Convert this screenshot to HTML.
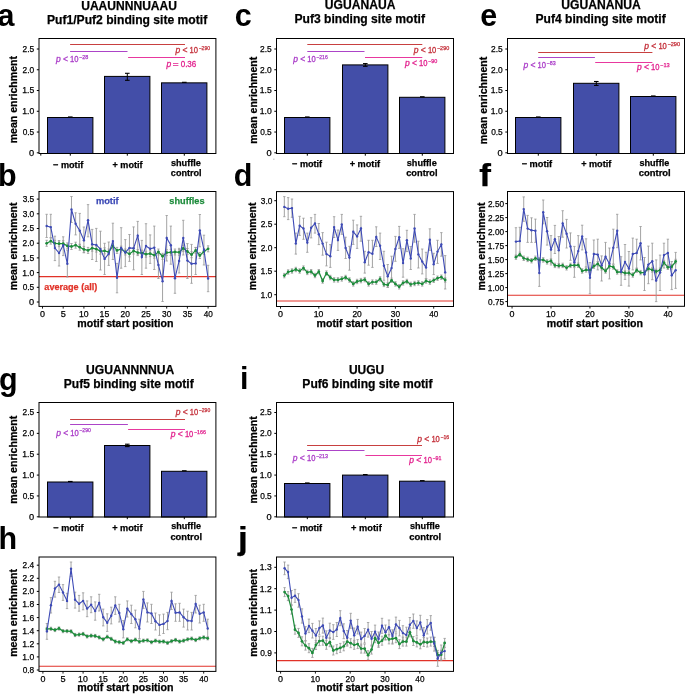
<!DOCTYPE html>
<html><head><meta charset="utf-8"><style>
html,body{margin:0;padding:0;background:#fff;overflow:hidden;}
svg{display:block;will-change:transform;font-family:"Liberation Sans", sans-serif;}
</style></head><body>
<svg width="685" height="694" viewBox="0 0 685 694">
<rect width="685" height="694" fill="#fff"/>
<text x="-2.40" y="25.90" font-size="30.5" fill="#000" font-weight="bold">a</text>
<text x="-2.10" y="185.80" font-size="30.5" fill="#000" font-weight="bold">b</text>
<text x="234.80" y="25.90" font-size="30.5" fill="#000" font-weight="bold">c</text>
<text x="233.80" y="186.00" font-size="30.5" fill="#000" font-weight="bold">d</text>
<text x="480.20" y="25.90" font-size="30.5" fill="#000" font-weight="bold">e</text>
<text x="479.30" y="185.80" font-size="30.5" fill="#000" font-weight="bold" stroke="#000" stroke-width="0.25" textLength="11.71" lengthAdjust="spacingAndGlyphs">f</text>
<text x="-0.90" y="389.60" font-size="30.5" fill="#000" font-weight="bold">g</text>
<text x="-1.40" y="548.80" font-size="30.5" fill="#000" font-weight="bold">h</text>
<text x="239.90" y="389.00" font-size="30.5" fill="#000" font-weight="bold">i</text>
<text x="238.00" y="548.80" font-size="30.5" fill="#000" font-weight="bold" stroke="#000" stroke-width="0.25" textLength="9.79" lengthAdjust="spacingAndGlyphs">j</text>
<text x="81.18" y="9.60" font-size="12.6" fill="#000" font-weight="bold" stroke="#000" stroke-width="0.25" textLength="95.79" lengthAdjust="spacingAndGlyphs">UAAUNNNUAAU</text>
<text x="46.95" y="23.80" font-size="12.6" fill="#000" font-weight="bold" stroke="#000" stroke-width="0.25" textLength="160.28" lengthAdjust="spacingAndGlyphs">Puf1/Puf2 binding site motif</text>
<rect x="47.50" y="117.50" width="45.40" height="36.00" fill="#434ea8" stroke="#000" stroke-width="1"/>
<line x1="68.00" y1="117.00" x2="72.60" y2="117.00" stroke="#000" stroke-width="1.2"/>
<rect x="104.50" y="76.40" width="45.40" height="77.10" fill="#434ea8" stroke="#000" stroke-width="1"/>
<line x1="127.30" y1="73.30" x2="127.30" y2="80.30" stroke="#000" stroke-width="1"/>
<line x1="125.00" y1="73.30" x2="129.60" y2="73.30" stroke="#000" stroke-width="1.1"/>
<line x1="125.00" y1="80.30" x2="129.60" y2="80.30" stroke="#000" stroke-width="1.1"/>
<rect x="161.50" y="82.85" width="45.40" height="70.65" fill="#434ea8" stroke="#000" stroke-width="1"/>
<line x1="182.00" y1="82.35" x2="186.60" y2="82.35" stroke="#000" stroke-width="1.2"/>
<rect x="39.00" y="38.50" width="176.90" height="115.00" fill="none" stroke="#000" stroke-width="1"/>
<line x1="36.80" y1="152.80" x2="39.00" y2="152.80" stroke="#000" stroke-width="1"/>
<text x="29.08" y="155.70" font-size="9.2" fill="#000" textLength="5.16" lengthAdjust="spacingAndGlyphs" stroke="#000" stroke-width="0.25">0</text>
<line x1="36.80" y1="132.04" x2="39.00" y2="132.04" stroke="#000" stroke-width="1"/>
<text x="22.67" y="134.94" font-size="9.2" fill="#000" textLength="11.57" lengthAdjust="spacingAndGlyphs" stroke="#000" stroke-width="0.25">0.5</text>
<line x1="36.80" y1="111.28" x2="39.00" y2="111.28" stroke="#000" stroke-width="1"/>
<text x="22.31" y="114.18" font-size="9.2" fill="#000" textLength="11.93" lengthAdjust="spacingAndGlyphs" stroke="#000" stroke-width="0.25">1.0</text>
<line x1="36.80" y1="90.52" x2="39.00" y2="90.52" stroke="#000" stroke-width="1"/>
<text x="22.31" y="93.42" font-size="9.2" fill="#000" textLength="11.93" lengthAdjust="spacingAndGlyphs" stroke="#000" stroke-width="0.25">1.5</text>
<line x1="36.80" y1="69.76" x2="39.00" y2="69.76" stroke="#000" stroke-width="1"/>
<text x="22.58" y="72.66" font-size="9.2" fill="#000" textLength="11.66" lengthAdjust="spacingAndGlyphs" stroke="#000" stroke-width="0.25">2.0</text>
<line x1="36.80" y1="49.00" x2="39.00" y2="49.00" stroke="#000" stroke-width="1"/>
<text x="22.58" y="51.90" font-size="9.2" fill="#000" textLength="11.66" lengthAdjust="spacingAndGlyphs" stroke="#000" stroke-width="0.25">2.5</text>
<line x1="70.30" y1="153.50" x2="70.30" y2="155.70" stroke="#000" stroke-width="1"/>
<line x1="127.30" y1="153.50" x2="127.30" y2="155.70" stroke="#000" stroke-width="1"/>
<line x1="184.30" y1="153.50" x2="184.30" y2="155.70" stroke="#000" stroke-width="1"/>
<text x="0" y="0" font-size="10.5" fill="#000" font-weight="bold" stroke="#000" stroke-width="0.25" textLength="87.35" lengthAdjust="spacingAndGlyphs" transform="translate(17.10,143.34) rotate(-90)">mean enrichment</text>
<text x="53.03" y="167.60" font-size="9.2" fill="#000" font-weight="bold" stroke="#000" stroke-width="0.25" textLength="30.23" lengthAdjust="spacingAndGlyphs">− motif</text>
<text x="112.54" y="167.70" font-size="9.2" fill="#000" font-weight="bold" stroke="#000" stroke-width="0.25" textLength="29.92" lengthAdjust="spacingAndGlyphs">+ motif</text>
<text x="170.93" y="166.00" font-size="9.2" fill="#000" font-weight="bold" stroke="#000" stroke-width="0.25" textLength="30.01" lengthAdjust="spacingAndGlyphs">shuffle</text>
<text x="170.84" y="176.20" font-size="9.2" fill="#000" font-weight="bold" stroke="#000" stroke-width="0.25" textLength="30.79" lengthAdjust="spacingAndGlyphs">control</text>
<line x1="70.10" y1="44.50" x2="185.00" y2="44.50" stroke="#c84040" stroke-width="1.1"/>
<line x1="70.10" y1="51.50" x2="127.50" y2="51.50" stroke="#ac44c8" stroke-width="1.1"/>
<line x1="128.10" y1="57.50" x2="185.00" y2="57.50" stroke="#e8389e" stroke-width="1.1"/>
<text x="175.47" y="52.60" font-size="8.2" fill="#c4303a" textLength="4.74" lengthAdjust="spacingAndGlyphs" stroke="#c4303a" stroke-width="0.3"><tspan font-style="italic">p</tspan></text>
<text x="182.47" y="52.60" font-size="8.2" fill="#c4303a" textLength="5.01" lengthAdjust="spacingAndGlyphs" stroke="#c4303a" stroke-width="0.3">&lt;</text>
<text x="189.59" y="52.60" font-size="8.2" fill="#c4303a" textLength="8.43" lengthAdjust="spacingAndGlyphs" stroke="#c4303a" stroke-width="0.3">10</text>
<text x="198.65" y="49.50" font-size="5.2" fill="#c4303a" textLength="11.37" lengthAdjust="spacingAndGlyphs" stroke="#c4303a" stroke-width="0.25">−290</text>
<text x="55.97" y="61.90" font-size="8.2" fill="#aa3cc8" textLength="4.74" lengthAdjust="spacingAndGlyphs" stroke="#aa3cc8" stroke-width="0.3"><tspan font-style="italic">p</tspan></text>
<text x="62.97" y="61.90" font-size="8.2" fill="#aa3cc8" textLength="5.01" lengthAdjust="spacingAndGlyphs" stroke="#aa3cc8" stroke-width="0.3">&lt;</text>
<text x="70.09" y="61.90" font-size="8.2" fill="#aa3cc8" textLength="8.43" lengthAdjust="spacingAndGlyphs" stroke="#aa3cc8" stroke-width="0.3">10</text>
<text x="79.13" y="58.80" font-size="5.2" fill="#aa3cc8" textLength="9.22" lengthAdjust="spacingAndGlyphs" stroke="#aa3cc8" stroke-width="0.25">−28</text>
<text x="166.57" y="66.90" font-size="8.2" fill="#e2228e" textLength="4.74" lengthAdjust="spacingAndGlyphs" stroke="#e2228e" stroke-width="0.3"><tspan font-style="italic">p</tspan></text>
<text x="172.80" y="66.90" font-size="8.2" fill="#e2228e" textLength="5.84" lengthAdjust="spacingAndGlyphs" stroke="#e2228e" stroke-width="0.3">=</text>
<text x="180.68" y="66.90" font-size="8.2" fill="#e2228e" textLength="15.59" lengthAdjust="spacingAndGlyphs" stroke="#e2228e" stroke-width="0.3">0.36</text>
<text x="324.87" y="8.80" font-size="12.6" fill="#000" font-weight="bold" stroke="#000" stroke-width="0.25" textLength="70.63" lengthAdjust="spacingAndGlyphs">UGUANAUA</text>
<text x="294.45" y="23.00" font-size="12.6" fill="#000" font-weight="bold" stroke="#000" stroke-width="0.25" textLength="130.52" lengthAdjust="spacingAndGlyphs">Puf3 binding site motif</text>
<rect x="284.50" y="117.50" width="45.40" height="36.00" fill="#434ea8" stroke="#000" stroke-width="1"/>
<line x1="305.00" y1="117.00" x2="309.60" y2="117.00" stroke="#000" stroke-width="1.2"/>
<rect x="342.50" y="64.90" width="45.40" height="88.60" fill="#434ea8" stroke="#000" stroke-width="1"/>
<line x1="365.30" y1="63.60" x2="365.30" y2="66.30" stroke="#000" stroke-width="1"/>
<line x1="363.00" y1="63.60" x2="367.60" y2="63.60" stroke="#000" stroke-width="1.1"/>
<line x1="363.00" y1="66.30" x2="367.60" y2="66.30" stroke="#000" stroke-width="1.1"/>
<rect x="399.50" y="97.30" width="45.40" height="56.20" fill="#434ea8" stroke="#000" stroke-width="1"/>
<line x1="420.00" y1="96.80" x2="424.60" y2="96.80" stroke="#000" stroke-width="1.2"/>
<rect x="276.50" y="38.50" width="177.00" height="115.00" fill="none" stroke="#000" stroke-width="1"/>
<line x1="274.30" y1="152.80" x2="276.50" y2="152.80" stroke="#000" stroke-width="1"/>
<text x="266.58" y="155.70" font-size="9.2" fill="#000" textLength="5.16" lengthAdjust="spacingAndGlyphs" stroke="#000" stroke-width="0.25">0</text>
<line x1="274.30" y1="132.04" x2="276.50" y2="132.04" stroke="#000" stroke-width="1"/>
<text x="260.17" y="134.94" font-size="9.2" fill="#000" textLength="11.57" lengthAdjust="spacingAndGlyphs" stroke="#000" stroke-width="0.25">0.5</text>
<line x1="274.30" y1="111.28" x2="276.50" y2="111.28" stroke="#000" stroke-width="1"/>
<text x="259.81" y="114.18" font-size="9.2" fill="#000" textLength="11.93" lengthAdjust="spacingAndGlyphs" stroke="#000" stroke-width="0.25">1.0</text>
<line x1="274.30" y1="90.52" x2="276.50" y2="90.52" stroke="#000" stroke-width="1"/>
<text x="259.81" y="93.42" font-size="9.2" fill="#000" textLength="11.93" lengthAdjust="spacingAndGlyphs" stroke="#000" stroke-width="0.25">1.5</text>
<line x1="274.30" y1="69.76" x2="276.50" y2="69.76" stroke="#000" stroke-width="1"/>
<text x="260.08" y="72.66" font-size="9.2" fill="#000" textLength="11.66" lengthAdjust="spacingAndGlyphs" stroke="#000" stroke-width="0.25">2.0</text>
<line x1="274.30" y1="49.00" x2="276.50" y2="49.00" stroke="#000" stroke-width="1"/>
<text x="260.08" y="51.90" font-size="9.2" fill="#000" textLength="11.66" lengthAdjust="spacingAndGlyphs" stroke="#000" stroke-width="0.25">2.5</text>
<line x1="307.30" y1="153.50" x2="307.30" y2="155.70" stroke="#000" stroke-width="1"/>
<line x1="365.30" y1="153.50" x2="365.30" y2="155.70" stroke="#000" stroke-width="1"/>
<line x1="422.30" y1="153.50" x2="422.30" y2="155.70" stroke="#000" stroke-width="1"/>
<text x="0" y="0" font-size="10.5" fill="#000" font-weight="bold" stroke="#000" stroke-width="0.25" textLength="87.04" lengthAdjust="spacingAndGlyphs" transform="translate(256.70,143.84) rotate(-90)">mean enrichment</text>
<text x="292.04" y="167.40" font-size="9.2" fill="#000" font-weight="bold" stroke="#000" stroke-width="0.25" textLength="30.13" lengthAdjust="spacingAndGlyphs">− motif</text>
<text x="349.63" y="167.40" font-size="9.2" fill="#000" font-weight="bold" stroke="#000" stroke-width="0.25" textLength="30.43" lengthAdjust="spacingAndGlyphs">+ motif</text>
<text x="406.73" y="166.20" font-size="9.2" fill="#000" font-weight="bold" stroke="#000" stroke-width="0.25" textLength="30.01" lengthAdjust="spacingAndGlyphs">shuffle</text>
<text x="406.23" y="176.10" font-size="9.2" fill="#000" font-weight="bold" stroke="#000" stroke-width="0.25" textLength="31.30" lengthAdjust="spacingAndGlyphs">control</text>
<line x1="307.30" y1="44.50" x2="422.30" y2="44.50" stroke="#c84040" stroke-width="1.1"/>
<line x1="307.30" y1="51.50" x2="364.50" y2="51.50" stroke="#ac44c8" stroke-width="1.1"/>
<line x1="365.00" y1="57.50" x2="422.30" y2="57.50" stroke="#e8389e" stroke-width="1.1"/>
<text x="413.77" y="52.80" font-size="8.2" fill="#c4303a" textLength="4.74" lengthAdjust="spacingAndGlyphs" stroke="#c4303a" stroke-width="0.3"><tspan font-style="italic">p</tspan></text>
<text x="420.77" y="52.80" font-size="8.2" fill="#c4303a" textLength="5.01" lengthAdjust="spacingAndGlyphs" stroke="#c4303a" stroke-width="0.3">&lt;</text>
<text x="427.89" y="52.80" font-size="8.2" fill="#c4303a" textLength="8.43" lengthAdjust="spacingAndGlyphs" stroke="#c4303a" stroke-width="0.3">10</text>
<text x="436.93" y="49.70" font-size="5.2" fill="#c4303a" textLength="12.31" lengthAdjust="spacingAndGlyphs" stroke="#c4303a" stroke-width="0.25">−290</text>
<text x="293.17" y="62.40" font-size="8.2" fill="#aa3cc8" textLength="4.74" lengthAdjust="spacingAndGlyphs" stroke="#aa3cc8" stroke-width="0.3"><tspan font-style="italic">p</tspan></text>
<text x="300.17" y="62.40" font-size="8.2" fill="#aa3cc8" textLength="5.01" lengthAdjust="spacingAndGlyphs" stroke="#aa3cc8" stroke-width="0.3">&lt;</text>
<text x="307.29" y="62.40" font-size="8.2" fill="#aa3cc8" textLength="8.43" lengthAdjust="spacingAndGlyphs" stroke="#aa3cc8" stroke-width="0.3">10</text>
<text x="316.35" y="59.30" font-size="5.2" fill="#aa3cc8" textLength="11.37" lengthAdjust="spacingAndGlyphs" stroke="#aa3cc8" stroke-width="0.25">−216</text>
<text x="404.97" y="66.40" font-size="8.2" fill="#e2228e" textLength="4.74" lengthAdjust="spacingAndGlyphs" stroke="#e2228e" stroke-width="0.3"><tspan font-style="italic">p</tspan></text>
<text x="411.97" y="66.40" font-size="8.2" fill="#e2228e" textLength="5.01" lengthAdjust="spacingAndGlyphs" stroke="#e2228e" stroke-width="0.3">&lt;</text>
<text x="419.09" y="66.40" font-size="8.2" fill="#e2228e" textLength="8.43" lengthAdjust="spacingAndGlyphs" stroke="#e2228e" stroke-width="0.3">10</text>
<text x="428.13" y="63.30" font-size="5.2" fill="#e2228e" textLength="9.27" lengthAdjust="spacingAndGlyphs" stroke="#e2228e" stroke-width="0.25">−90</text>
<text x="561.27" y="8.90" font-size="12.6" fill="#000" font-weight="bold" stroke="#000" stroke-width="0.25" textLength="79.46" lengthAdjust="spacingAndGlyphs">UGUANANUA</text>
<text x="535.55" y="22.90" font-size="12.6" fill="#000" font-weight="bold" stroke="#000" stroke-width="0.25" textLength="130.11" lengthAdjust="spacingAndGlyphs">Puf4 binding site motif</text>
<rect x="515.50" y="117.50" width="45.40" height="36.00" fill="#434ea8" stroke="#000" stroke-width="1"/>
<line x1="536.00" y1="117.00" x2="540.60" y2="117.00" stroke="#000" stroke-width="1.2"/>
<rect x="573.50" y="83.30" width="45.40" height="70.20" fill="#434ea8" stroke="#000" stroke-width="1"/>
<line x1="596.30" y1="81.50" x2="596.30" y2="85.40" stroke="#000" stroke-width="1"/>
<line x1="594.00" y1="81.50" x2="598.60" y2="81.50" stroke="#000" stroke-width="1.1"/>
<line x1="594.00" y1="85.40" x2="598.60" y2="85.40" stroke="#000" stroke-width="1.1"/>
<rect x="630.50" y="96.50" width="45.40" height="57.00" fill="#434ea8" stroke="#000" stroke-width="1"/>
<line x1="651.00" y1="96.00" x2="655.60" y2="96.00" stroke="#000" stroke-width="1.2"/>
<rect x="507.50" y="38.50" width="177.00" height="115.00" fill="none" stroke="#000" stroke-width="1"/>
<line x1="505.30" y1="152.80" x2="507.50" y2="152.80" stroke="#000" stroke-width="1"/>
<text x="497.58" y="155.70" font-size="9.2" fill="#000" textLength="5.16" lengthAdjust="spacingAndGlyphs" stroke="#000" stroke-width="0.25">0</text>
<line x1="505.30" y1="132.04" x2="507.50" y2="132.04" stroke="#000" stroke-width="1"/>
<text x="491.17" y="134.94" font-size="9.2" fill="#000" textLength="11.57" lengthAdjust="spacingAndGlyphs" stroke="#000" stroke-width="0.25">0.5</text>
<line x1="505.30" y1="111.28" x2="507.50" y2="111.28" stroke="#000" stroke-width="1"/>
<text x="490.81" y="114.18" font-size="9.2" fill="#000" textLength="11.93" lengthAdjust="spacingAndGlyphs" stroke="#000" stroke-width="0.25">1.0</text>
<line x1="505.30" y1="90.52" x2="507.50" y2="90.52" stroke="#000" stroke-width="1"/>
<text x="490.81" y="93.42" font-size="9.2" fill="#000" textLength="11.93" lengthAdjust="spacingAndGlyphs" stroke="#000" stroke-width="0.25">1.5</text>
<line x1="505.30" y1="69.76" x2="507.50" y2="69.76" stroke="#000" stroke-width="1"/>
<text x="491.08" y="72.66" font-size="9.2" fill="#000" textLength="11.66" lengthAdjust="spacingAndGlyphs" stroke="#000" stroke-width="0.25">2.0</text>
<line x1="505.30" y1="49.00" x2="507.50" y2="49.00" stroke="#000" stroke-width="1"/>
<text x="491.08" y="51.90" font-size="9.2" fill="#000" textLength="11.66" lengthAdjust="spacingAndGlyphs" stroke="#000" stroke-width="0.25">2.5</text>
<line x1="538.30" y1="153.50" x2="538.30" y2="155.70" stroke="#000" stroke-width="1"/>
<line x1="596.30" y1="153.50" x2="596.30" y2="155.70" stroke="#000" stroke-width="1"/>
<line x1="653.30" y1="153.50" x2="653.30" y2="155.70" stroke="#000" stroke-width="1"/>
<text x="0" y="0" font-size="10.5" fill="#000" font-weight="bold" stroke="#000" stroke-width="0.25" textLength="87.35" lengthAdjust="spacingAndGlyphs" transform="translate(486.70,144.14) rotate(-90)">mean enrichment</text>
<text x="521.63" y="167.40" font-size="9.2" fill="#000" font-weight="bold" stroke="#000" stroke-width="0.25" textLength="30.53" lengthAdjust="spacingAndGlyphs">− motif</text>
<text x="581.14" y="167.40" font-size="9.2" fill="#000" font-weight="bold" stroke="#000" stroke-width="0.25" textLength="30.13" lengthAdjust="spacingAndGlyphs">+ motif</text>
<text x="639.44" y="166.20" font-size="9.2" fill="#000" font-weight="bold" stroke="#000" stroke-width="0.25" textLength="29.81" lengthAdjust="spacingAndGlyphs">shuffle</text>
<text x="638.72" y="176.10" font-size="9.2" fill="#000" font-weight="bold" stroke="#000" stroke-width="0.25" textLength="32.03" lengthAdjust="spacingAndGlyphs">control</text>
<line x1="538.20" y1="52.50" x2="652.40" y2="52.50" stroke="#c84040" stroke-width="1.1"/>
<line x1="538.20" y1="57.50" x2="594.90" y2="57.50" stroke="#ac44c8" stroke-width="1.1"/>
<line x1="595.20" y1="62.50" x2="652.40" y2="62.50" stroke="#e8389e" stroke-width="1.1"/>
<text x="644.27" y="49.00" font-size="8.2" fill="#c4303a" textLength="4.74" lengthAdjust="spacingAndGlyphs" stroke="#c4303a" stroke-width="0.3"><tspan font-style="italic">p</tspan></text>
<text x="651.27" y="49.00" font-size="8.2" fill="#c4303a" textLength="5.01" lengthAdjust="spacingAndGlyphs" stroke="#c4303a" stroke-width="0.3">&lt;</text>
<text x="658.39" y="49.00" font-size="8.2" fill="#c4303a" textLength="8.43" lengthAdjust="spacingAndGlyphs" stroke="#c4303a" stroke-width="0.3">10</text>
<text x="667.42" y="45.90" font-size="5.2" fill="#c4303a" textLength="12.72" lengthAdjust="spacingAndGlyphs" stroke="#c4303a" stroke-width="0.25">−290</text>
<text x="523.47" y="68.20" font-size="8.2" fill="#aa3cc8" textLength="4.74" lengthAdjust="spacingAndGlyphs" stroke="#aa3cc8" stroke-width="0.3"><tspan font-style="italic">p</tspan></text>
<text x="530.47" y="68.20" font-size="8.2" fill="#aa3cc8" textLength="5.01" lengthAdjust="spacingAndGlyphs" stroke="#aa3cc8" stroke-width="0.3">&lt;</text>
<text x="537.59" y="68.20" font-size="8.2" fill="#aa3cc8" textLength="8.43" lengthAdjust="spacingAndGlyphs" stroke="#aa3cc8" stroke-width="0.3">10</text>
<text x="546.63" y="65.10" font-size="5.2" fill="#aa3cc8" textLength="9.01" lengthAdjust="spacingAndGlyphs" stroke="#aa3cc8" stroke-width="0.25">−83</text>
<text x="636.97" y="70.10" font-size="8.2" fill="#e2228e" textLength="4.74" lengthAdjust="spacingAndGlyphs" stroke="#e2228e" stroke-width="0.3"><tspan font-style="italic">p</tspan></text>
<text x="643.97" y="70.10" font-size="8.2" fill="#e2228e" textLength="5.01" lengthAdjust="spacingAndGlyphs" stroke="#e2228e" stroke-width="0.3">&lt;</text>
<text x="651.09" y="70.10" font-size="8.2" fill="#e2228e" textLength="8.43" lengthAdjust="spacingAndGlyphs" stroke="#e2228e" stroke-width="0.3">10</text>
<text x="660.12" y="67.00" font-size="5.2" fill="#e2228e" textLength="9.54" lengthAdjust="spacingAndGlyphs" stroke="#e2228e" stroke-width="0.25">−13</text>
<text x="86.07" y="373.80" font-size="12.6" fill="#000" font-weight="bold" stroke="#000" stroke-width="0.25" textLength="88.06" lengthAdjust="spacingAndGlyphs">UGUANNNNUA</text>
<text x="63.76" y="388.20" font-size="12.6" fill="#000" font-weight="bold" stroke="#000" stroke-width="0.25" textLength="129.91" lengthAdjust="spacingAndGlyphs">Puf5 binding site motif</text>
<rect x="47.50" y="482.00" width="45.40" height="35.00" fill="#434ea8" stroke="#000" stroke-width="1"/>
<line x1="68.00" y1="481.50" x2="72.60" y2="481.50" stroke="#000" stroke-width="1.2"/>
<rect x="104.50" y="445.50" width="45.40" height="71.50" fill="#434ea8" stroke="#000" stroke-width="1"/>
<line x1="127.30" y1="444.20" x2="127.30" y2="446.60" stroke="#000" stroke-width="1"/>
<line x1="125.00" y1="444.20" x2="129.60" y2="444.20" stroke="#000" stroke-width="1.1"/>
<line x1="125.00" y1="446.60" x2="129.60" y2="446.60" stroke="#000" stroke-width="1.1"/>
<rect x="161.50" y="471.30" width="45.40" height="45.70" fill="#434ea8" stroke="#000" stroke-width="1"/>
<line x1="182.00" y1="470.80" x2="186.60" y2="470.80" stroke="#000" stroke-width="1.2"/>
<rect x="39.00" y="402.50" width="176.90" height="114.50" fill="none" stroke="#000" stroke-width="1"/>
<line x1="36.80" y1="516.80" x2="39.00" y2="516.80" stroke="#000" stroke-width="1"/>
<text x="29.08" y="519.70" font-size="9.2" fill="#000" textLength="5.16" lengthAdjust="spacingAndGlyphs" stroke="#000" stroke-width="0.25">0</text>
<line x1="36.80" y1="495.94" x2="39.00" y2="495.94" stroke="#000" stroke-width="1"/>
<text x="22.67" y="498.84" font-size="9.2" fill="#000" textLength="11.57" lengthAdjust="spacingAndGlyphs" stroke="#000" stroke-width="0.25">0.5</text>
<line x1="36.80" y1="475.08" x2="39.00" y2="475.08" stroke="#000" stroke-width="1"/>
<text x="22.31" y="477.98" font-size="9.2" fill="#000" textLength="11.93" lengthAdjust="spacingAndGlyphs" stroke="#000" stroke-width="0.25">1.0</text>
<line x1="36.80" y1="454.22" x2="39.00" y2="454.22" stroke="#000" stroke-width="1"/>
<text x="22.31" y="457.12" font-size="9.2" fill="#000" textLength="11.93" lengthAdjust="spacingAndGlyphs" stroke="#000" stroke-width="0.25">1.5</text>
<line x1="36.80" y1="433.36" x2="39.00" y2="433.36" stroke="#000" stroke-width="1"/>
<text x="22.58" y="436.26" font-size="9.2" fill="#000" textLength="11.66" lengthAdjust="spacingAndGlyphs" stroke="#000" stroke-width="0.25">2.0</text>
<line x1="36.80" y1="412.50" x2="39.00" y2="412.50" stroke="#000" stroke-width="1"/>
<text x="22.58" y="415.40" font-size="9.2" fill="#000" textLength="11.66" lengthAdjust="spacingAndGlyphs" stroke="#000" stroke-width="0.25">2.5</text>
<line x1="70.30" y1="517.00" x2="70.30" y2="519.20" stroke="#000" stroke-width="1"/>
<line x1="127.30" y1="517.00" x2="127.30" y2="519.20" stroke="#000" stroke-width="1"/>
<line x1="184.30" y1="517.00" x2="184.30" y2="519.20" stroke="#000" stroke-width="1"/>
<text x="0" y="0" font-size="10.5" fill="#000" font-weight="bold" stroke="#000" stroke-width="0.25" textLength="87.95" lengthAdjust="spacingAndGlyphs" transform="translate(17.05,503.64) rotate(-90)">mean enrichment</text>
<text x="53.34" y="530.90" font-size="9.2" fill="#000" font-weight="bold" stroke="#000" stroke-width="0.25" textLength="30.13" lengthAdjust="spacingAndGlyphs">− motif</text>
<text x="112.13" y="530.90" font-size="9.2" fill="#000" font-weight="bold" stroke="#000" stroke-width="0.25" textLength="30.33" lengthAdjust="spacingAndGlyphs">+ motif</text>
<text x="171.24" y="529.40" font-size="9.2" fill="#000" font-weight="bold" stroke="#000" stroke-width="0.25" textLength="29.71" lengthAdjust="spacingAndGlyphs">shuffle</text>
<text x="170.43" y="539.80" font-size="9.2" fill="#000" font-weight="bold" stroke="#000" stroke-width="0.25" textLength="31.61" lengthAdjust="spacingAndGlyphs">control</text>
<line x1="70.10" y1="419.50" x2="185.00" y2="419.50" stroke="#c84040" stroke-width="1.1"/>
<line x1="70.10" y1="424.50" x2="127.90" y2="424.50" stroke="#ac44c8" stroke-width="1.1"/>
<line x1="128.10" y1="429.50" x2="185.00" y2="429.50" stroke="#e8389e" stroke-width="1.1"/>
<text x="175.67" y="414.90" font-size="8.2" fill="#c4303a" textLength="4.74" lengthAdjust="spacingAndGlyphs" stroke="#c4303a" stroke-width="0.3"><tspan font-style="italic">p</tspan></text>
<text x="182.67" y="414.90" font-size="8.2" fill="#c4303a" textLength="5.01" lengthAdjust="spacingAndGlyphs" stroke="#c4303a" stroke-width="0.3">&lt;</text>
<text x="189.79" y="414.90" font-size="8.2" fill="#c4303a" textLength="8.43" lengthAdjust="spacingAndGlyphs" stroke="#c4303a" stroke-width="0.3">10</text>
<text x="198.85" y="411.80" font-size="5.2" fill="#c4303a" textLength="11.37" lengthAdjust="spacingAndGlyphs" stroke="#c4303a" stroke-width="0.25">−290</text>
<text x="56.17" y="435.50" font-size="8.2" fill="#aa3cc8" textLength="4.74" lengthAdjust="spacingAndGlyphs" stroke="#aa3cc8" stroke-width="0.3"><tspan font-style="italic">p</tspan></text>
<text x="63.17" y="435.50" font-size="8.2" fill="#aa3cc8" textLength="5.01" lengthAdjust="spacingAndGlyphs" stroke="#aa3cc8" stroke-width="0.3">&lt;</text>
<text x="70.29" y="435.50" font-size="8.2" fill="#aa3cc8" textLength="8.43" lengthAdjust="spacingAndGlyphs" stroke="#aa3cc8" stroke-width="0.3">10</text>
<text x="79.34" y="432.40" font-size="5.2" fill="#aa3cc8" textLength="11.58" lengthAdjust="spacingAndGlyphs" stroke="#aa3cc8" stroke-width="0.25">−290</text>
<text x="170.77" y="437.10" font-size="8.2" fill="#e2228e" textLength="4.74" lengthAdjust="spacingAndGlyphs" stroke="#e2228e" stroke-width="0.3"><tspan font-style="italic">p</tspan></text>
<text x="177.77" y="437.10" font-size="8.2" fill="#e2228e" textLength="5.01" lengthAdjust="spacingAndGlyphs" stroke="#e2228e" stroke-width="0.3">&lt;</text>
<text x="184.89" y="437.10" font-size="8.2" fill="#e2228e" textLength="8.43" lengthAdjust="spacingAndGlyphs" stroke="#e2228e" stroke-width="0.3">10</text>
<text x="193.93" y="434.00" font-size="5.2" fill="#e2228e" textLength="11.99" lengthAdjust="spacingAndGlyphs" stroke="#e2228e" stroke-width="0.25">−166</text>
<text x="348.98" y="373.80" font-size="12.6" fill="#000" font-weight="bold" stroke="#000" stroke-width="0.25" textLength="35.29" lengthAdjust="spacingAndGlyphs">UUGU</text>
<text x="302.35" y="388.20" font-size="12.6" fill="#000" font-weight="bold" stroke="#000" stroke-width="0.25" textLength="130.11" lengthAdjust="spacingAndGlyphs">Puf6 binding site motif</text>
<rect x="284.50" y="483.50" width="45.40" height="33.50" fill="#434ea8" stroke="#000" stroke-width="1"/>
<line x1="305.00" y1="483.00" x2="309.60" y2="483.00" stroke="#000" stroke-width="1.2"/>
<rect x="342.50" y="475.10" width="45.40" height="41.90" fill="#434ea8" stroke="#000" stroke-width="1"/>
<line x1="363.00" y1="474.60" x2="367.60" y2="474.60" stroke="#000" stroke-width="1.2"/>
<rect x="399.50" y="481.20" width="45.40" height="35.80" fill="#434ea8" stroke="#000" stroke-width="1"/>
<line x1="420.00" y1="480.70" x2="424.60" y2="480.70" stroke="#000" stroke-width="1.2"/>
<rect x="276.50" y="402.50" width="177.00" height="114.50" fill="none" stroke="#000" stroke-width="1"/>
<line x1="274.30" y1="516.80" x2="276.50" y2="516.80" stroke="#000" stroke-width="1"/>
<text x="266.58" y="519.70" font-size="9.2" fill="#000" textLength="5.16" lengthAdjust="spacingAndGlyphs" stroke="#000" stroke-width="0.25">0</text>
<line x1="274.30" y1="495.94" x2="276.50" y2="495.94" stroke="#000" stroke-width="1"/>
<text x="260.17" y="498.84" font-size="9.2" fill="#000" textLength="11.57" lengthAdjust="spacingAndGlyphs" stroke="#000" stroke-width="0.25">0.5</text>
<line x1="274.30" y1="475.08" x2="276.50" y2="475.08" stroke="#000" stroke-width="1"/>
<text x="259.81" y="477.98" font-size="9.2" fill="#000" textLength="11.93" lengthAdjust="spacingAndGlyphs" stroke="#000" stroke-width="0.25">1.0</text>
<line x1="274.30" y1="454.22" x2="276.50" y2="454.22" stroke="#000" stroke-width="1"/>
<text x="259.81" y="457.12" font-size="9.2" fill="#000" textLength="11.93" lengthAdjust="spacingAndGlyphs" stroke="#000" stroke-width="0.25">1.5</text>
<line x1="274.30" y1="433.36" x2="276.50" y2="433.36" stroke="#000" stroke-width="1"/>
<text x="260.08" y="436.26" font-size="9.2" fill="#000" textLength="11.66" lengthAdjust="spacingAndGlyphs" stroke="#000" stroke-width="0.25">2.0</text>
<line x1="274.30" y1="412.50" x2="276.50" y2="412.50" stroke="#000" stroke-width="1"/>
<text x="260.08" y="415.40" font-size="9.2" fill="#000" textLength="11.66" lengthAdjust="spacingAndGlyphs" stroke="#000" stroke-width="0.25">2.5</text>
<line x1="307.30" y1="517.00" x2="307.30" y2="519.20" stroke="#000" stroke-width="1"/>
<line x1="365.30" y1="517.00" x2="365.30" y2="519.20" stroke="#000" stroke-width="1"/>
<line x1="422.30" y1="517.00" x2="422.30" y2="519.20" stroke="#000" stroke-width="1"/>
<text x="0" y="0" font-size="10.5" fill="#000" font-weight="bold" stroke="#000" stroke-width="0.25" textLength="87.35" lengthAdjust="spacingAndGlyphs" transform="translate(256.60,503.54) rotate(-90)">mean enrichment</text>
<text x="292.04" y="530.90" font-size="9.2" fill="#000" font-weight="bold" stroke="#000" stroke-width="0.25" textLength="30.13" lengthAdjust="spacingAndGlyphs">− motif</text>
<text x="351.13" y="530.90" font-size="9.2" fill="#000" font-weight="bold" stroke="#000" stroke-width="0.25" textLength="30.63" lengthAdjust="spacingAndGlyphs">+ motif</text>
<text x="409.93" y="529.40" font-size="9.2" fill="#000" font-weight="bold" stroke="#000" stroke-width="0.25" textLength="30.01" lengthAdjust="spacingAndGlyphs">shuffle</text>
<text x="409.22" y="539.80" font-size="9.2" fill="#000" font-weight="bold" stroke="#000" stroke-width="0.25" textLength="32.03" lengthAdjust="spacingAndGlyphs">control</text>
<line x1="307.10" y1="445.50" x2="422.00" y2="445.50" stroke="#c84040" stroke-width="1.1"/>
<line x1="307.10" y1="450.50" x2="364.50" y2="450.50" stroke="#ac44c8" stroke-width="1.1"/>
<line x1="365.40" y1="455.50" x2="422.00" y2="455.50" stroke="#e8389e" stroke-width="1.1"/>
<text x="417.27" y="441.70" font-size="8.2" fill="#c4303a" textLength="4.74" lengthAdjust="spacingAndGlyphs" stroke="#c4303a" stroke-width="0.3"><tspan font-style="italic">p</tspan></text>
<text x="424.27" y="441.70" font-size="8.2" fill="#c4303a" textLength="5.01" lengthAdjust="spacingAndGlyphs" stroke="#c4303a" stroke-width="0.3">&lt;</text>
<text x="431.39" y="441.70" font-size="8.2" fill="#c4303a" textLength="8.43" lengthAdjust="spacingAndGlyphs" stroke="#c4303a" stroke-width="0.3">10</text>
<text x="440.44" y="438.60" font-size="5.2" fill="#c4303a" textLength="8.80" lengthAdjust="spacingAndGlyphs" stroke="#c4303a" stroke-width="0.25">−16</text>
<text x="292.87" y="461.00" font-size="8.2" fill="#aa3cc8" textLength="4.74" lengthAdjust="spacingAndGlyphs" stroke="#aa3cc8" stroke-width="0.3"><tspan font-style="italic">p</tspan></text>
<text x="299.87" y="461.00" font-size="8.2" fill="#aa3cc8" textLength="5.01" lengthAdjust="spacingAndGlyphs" stroke="#aa3cc8" stroke-width="0.3">&lt;</text>
<text x="306.99" y="461.00" font-size="8.2" fill="#aa3cc8" textLength="8.43" lengthAdjust="spacingAndGlyphs" stroke="#aa3cc8" stroke-width="0.3">10</text>
<text x="316.03" y="457.90" font-size="5.2" fill="#aa3cc8" textLength="11.99" lengthAdjust="spacingAndGlyphs" stroke="#aa3cc8" stroke-width="0.25">−213</text>
<text x="409.37" y="462.70" font-size="8.2" fill="#e2228e" textLength="4.74" lengthAdjust="spacingAndGlyphs" stroke="#e2228e" stroke-width="0.3"><tspan font-style="italic">p</tspan></text>
<text x="416.37" y="462.70" font-size="8.2" fill="#e2228e" textLength="5.01" lengthAdjust="spacingAndGlyphs" stroke="#e2228e" stroke-width="0.3">&lt;</text>
<text x="423.49" y="462.70" font-size="8.2" fill="#e2228e" textLength="8.43" lengthAdjust="spacingAndGlyphs" stroke="#e2228e" stroke-width="0.3">10</text>
<text x="432.53" y="459.60" font-size="5.2" fill="#e2228e" textLength="9.01" lengthAdjust="spacingAndGlyphs" stroke="#e2228e" stroke-width="0.25">−91</text>
<line x1="39.00" y1="276.60" x2="215.90" y2="276.60" stroke="#e13228" stroke-width="1.1"/>
<line x1="46.64" y1="214.30" x2="46.64" y2="237.50" stroke="#999999" stroke-width="0.9"/>
<line x1="45.44" y1="214.30" x2="47.84" y2="214.30" stroke="#999999" stroke-width="0.8"/>
<line x1="45.44" y1="237.50" x2="47.84" y2="237.50" stroke="#999999" stroke-width="0.8"/>
<line x1="50.78" y1="214.30" x2="50.78" y2="237.50" stroke="#999999" stroke-width="0.9"/>
<line x1="49.58" y1="214.30" x2="51.98" y2="214.30" stroke="#999999" stroke-width="0.8"/>
<line x1="49.58" y1="237.50" x2="51.98" y2="237.50" stroke="#999999" stroke-width="0.8"/>
<line x1="54.92" y1="236.20" x2="54.92" y2="260.60" stroke="#999999" stroke-width="0.9"/>
<line x1="53.72" y1="236.20" x2="56.12" y2="236.20" stroke="#999999" stroke-width="0.8"/>
<line x1="53.72" y1="260.60" x2="56.12" y2="260.60" stroke="#999999" stroke-width="0.8"/>
<line x1="59.06" y1="240.70" x2="59.06" y2="266.00" stroke="#999999" stroke-width="0.9"/>
<line x1="57.86" y1="240.70" x2="60.26" y2="240.70" stroke="#999999" stroke-width="0.8"/>
<line x1="57.86" y1="266.00" x2="60.26" y2="266.00" stroke="#999999" stroke-width="0.8"/>
<line x1="63.20" y1="236.80" x2="63.20" y2="255.60" stroke="#999999" stroke-width="0.9"/>
<line x1="62.00" y1="236.80" x2="64.40" y2="236.80" stroke="#999999" stroke-width="0.8"/>
<line x1="62.00" y1="255.60" x2="64.40" y2="255.60" stroke="#999999" stroke-width="0.8"/>
<line x1="67.34" y1="250.20" x2="67.34" y2="277.00" stroke="#999999" stroke-width="0.9"/>
<line x1="66.14" y1="250.20" x2="68.54" y2="250.20" stroke="#999999" stroke-width="0.8"/>
<line x1="66.14" y1="277.00" x2="68.54" y2="277.00" stroke="#999999" stroke-width="0.8"/>
<line x1="71.48" y1="196.50" x2="71.48" y2="222.50" stroke="#999999" stroke-width="0.9"/>
<line x1="70.28" y1="196.50" x2="72.68" y2="196.50" stroke="#999999" stroke-width="0.8"/>
<line x1="70.28" y1="222.50" x2="72.68" y2="222.50" stroke="#999999" stroke-width="0.8"/>
<line x1="75.62" y1="212.80" x2="75.62" y2="234.90" stroke="#999999" stroke-width="0.9"/>
<line x1="74.42" y1="212.80" x2="76.82" y2="212.80" stroke="#999999" stroke-width="0.8"/>
<line x1="74.42" y1="234.90" x2="76.82" y2="234.90" stroke="#999999" stroke-width="0.8"/>
<line x1="79.76" y1="213.40" x2="79.76" y2="245.00" stroke="#999999" stroke-width="0.9"/>
<line x1="78.56" y1="213.40" x2="80.96" y2="213.40" stroke="#999999" stroke-width="0.8"/>
<line x1="78.56" y1="245.00" x2="80.96" y2="245.00" stroke="#999999" stroke-width="0.8"/>
<line x1="83.90" y1="227.00" x2="83.90" y2="252.80" stroke="#999999" stroke-width="0.9"/>
<line x1="82.70" y1="227.00" x2="85.10" y2="227.00" stroke="#999999" stroke-width="0.8"/>
<line x1="82.70" y1="252.80" x2="85.10" y2="252.80" stroke="#999999" stroke-width="0.8"/>
<line x1="88.04" y1="204.60" x2="88.04" y2="236.80" stroke="#999999" stroke-width="0.9"/>
<line x1="86.84" y1="204.60" x2="89.24" y2="204.60" stroke="#999999" stroke-width="0.8"/>
<line x1="86.84" y1="236.80" x2="89.24" y2="236.80" stroke="#999999" stroke-width="0.8"/>
<line x1="92.18" y1="229.40" x2="92.18" y2="259.50" stroke="#999999" stroke-width="0.9"/>
<line x1="90.98" y1="229.40" x2="93.38" y2="229.40" stroke="#999999" stroke-width="0.8"/>
<line x1="90.98" y1="259.50" x2="93.38" y2="259.50" stroke="#999999" stroke-width="0.8"/>
<line x1="96.32" y1="228.40" x2="96.32" y2="261.50" stroke="#999999" stroke-width="0.9"/>
<line x1="95.12" y1="228.40" x2="97.52" y2="228.40" stroke="#999999" stroke-width="0.8"/>
<line x1="95.12" y1="261.50" x2="97.52" y2="261.50" stroke="#999999" stroke-width="0.8"/>
<line x1="100.46" y1="231.20" x2="100.46" y2="270.00" stroke="#999999" stroke-width="0.9"/>
<line x1="99.26" y1="231.20" x2="101.66" y2="231.20" stroke="#999999" stroke-width="0.8"/>
<line x1="99.26" y1="270.00" x2="101.66" y2="270.00" stroke="#999999" stroke-width="0.8"/>
<line x1="104.60" y1="243.30" x2="104.60" y2="274.50" stroke="#999999" stroke-width="0.9"/>
<line x1="103.40" y1="243.30" x2="105.80" y2="243.30" stroke="#999999" stroke-width="0.8"/>
<line x1="103.40" y1="274.50" x2="105.80" y2="274.50" stroke="#999999" stroke-width="0.8"/>
<line x1="108.74" y1="242.00" x2="108.74" y2="265.40" stroke="#999999" stroke-width="0.9"/>
<line x1="107.54" y1="242.00" x2="109.94" y2="242.00" stroke="#999999" stroke-width="0.8"/>
<line x1="107.54" y1="265.40" x2="109.94" y2="265.40" stroke="#999999" stroke-width="0.8"/>
<line x1="112.88" y1="223.20" x2="112.88" y2="259.50" stroke="#999999" stroke-width="0.9"/>
<line x1="111.68" y1="223.20" x2="114.08" y2="223.20" stroke="#999999" stroke-width="0.8"/>
<line x1="111.68" y1="259.50" x2="114.08" y2="259.50" stroke="#999999" stroke-width="0.8"/>
<line x1="117.02" y1="263.40" x2="117.02" y2="292.80" stroke="#999999" stroke-width="0.9"/>
<line x1="115.82" y1="263.40" x2="118.22" y2="263.40" stroke="#999999" stroke-width="0.8"/>
<line x1="115.82" y1="292.80" x2="118.22" y2="292.80" stroke="#999999" stroke-width="0.8"/>
<line x1="121.16" y1="227.70" x2="121.16" y2="268.20" stroke="#999999" stroke-width="0.9"/>
<line x1="119.96" y1="227.70" x2="122.36" y2="227.70" stroke="#999999" stroke-width="0.8"/>
<line x1="119.96" y1="268.20" x2="122.36" y2="268.20" stroke="#999999" stroke-width="0.8"/>
<line x1="125.30" y1="239.60" x2="125.30" y2="266.60" stroke="#999999" stroke-width="0.9"/>
<line x1="124.10" y1="239.60" x2="126.50" y2="239.60" stroke="#999999" stroke-width="0.8"/>
<line x1="124.10" y1="266.60" x2="126.50" y2="266.60" stroke="#999999" stroke-width="0.8"/>
<line x1="129.44" y1="234.50" x2="129.44" y2="261.40" stroke="#999999" stroke-width="0.9"/>
<line x1="128.24" y1="234.50" x2="130.64" y2="234.50" stroke="#999999" stroke-width="0.8"/>
<line x1="128.24" y1="261.40" x2="130.64" y2="261.40" stroke="#999999" stroke-width="0.8"/>
<line x1="133.58" y1="226.90" x2="133.58" y2="269.80" stroke="#999999" stroke-width="0.9"/>
<line x1="132.38" y1="226.90" x2="134.78" y2="226.90" stroke="#999999" stroke-width="0.8"/>
<line x1="132.38" y1="269.80" x2="134.78" y2="269.80" stroke="#999999" stroke-width="0.8"/>
<line x1="137.72" y1="221.40" x2="137.72" y2="254.70" stroke="#999999" stroke-width="0.9"/>
<line x1="136.52" y1="221.40" x2="138.92" y2="221.40" stroke="#999999" stroke-width="0.8"/>
<line x1="136.52" y1="254.70" x2="138.92" y2="254.70" stroke="#999999" stroke-width="0.8"/>
<line x1="141.86" y1="240.40" x2="141.86" y2="274.50" stroke="#999999" stroke-width="0.9"/>
<line x1="140.66" y1="240.40" x2="143.06" y2="240.40" stroke="#999999" stroke-width="0.8"/>
<line x1="140.66" y1="274.50" x2="143.06" y2="274.50" stroke="#999999" stroke-width="0.8"/>
<line x1="146.00" y1="223.70" x2="146.00" y2="268.20" stroke="#999999" stroke-width="0.9"/>
<line x1="144.80" y1="223.70" x2="147.20" y2="223.70" stroke="#999999" stroke-width="0.8"/>
<line x1="144.80" y1="268.20" x2="147.20" y2="268.20" stroke="#999999" stroke-width="0.8"/>
<line x1="150.14" y1="234.90" x2="150.14" y2="263.40" stroke="#999999" stroke-width="0.9"/>
<line x1="148.94" y1="234.90" x2="151.34" y2="234.90" stroke="#999999" stroke-width="0.8"/>
<line x1="148.94" y1="263.40" x2="151.34" y2="263.40" stroke="#999999" stroke-width="0.8"/>
<line x1="154.28" y1="226.10" x2="154.28" y2="269.50" stroke="#999999" stroke-width="0.9"/>
<line x1="153.08" y1="226.10" x2="155.48" y2="226.10" stroke="#999999" stroke-width="0.8"/>
<line x1="153.08" y1="269.50" x2="155.48" y2="269.50" stroke="#999999" stroke-width="0.8"/>
<line x1="158.42" y1="251.50" x2="158.42" y2="278.50" stroke="#999999" stroke-width="0.9"/>
<line x1="157.22" y1="251.50" x2="159.62" y2="251.50" stroke="#999999" stroke-width="0.8"/>
<line x1="157.22" y1="278.50" x2="159.62" y2="278.50" stroke="#999999" stroke-width="0.8"/>
<line x1="162.56" y1="254.70" x2="162.56" y2="301.50" stroke="#999999" stroke-width="0.9"/>
<line x1="161.36" y1="254.70" x2="163.76" y2="254.70" stroke="#999999" stroke-width="0.8"/>
<line x1="161.36" y1="301.50" x2="163.76" y2="301.50" stroke="#999999" stroke-width="0.8"/>
<line x1="166.70" y1="215.50" x2="166.70" y2="261.00" stroke="#999999" stroke-width="0.9"/>
<line x1="165.50" y1="215.50" x2="167.90" y2="215.50" stroke="#999999" stroke-width="0.8"/>
<line x1="165.50" y1="261.00" x2="167.90" y2="261.00" stroke="#999999" stroke-width="0.8"/>
<line x1="170.84" y1="226.10" x2="170.84" y2="264.20" stroke="#999999" stroke-width="0.9"/>
<line x1="169.64" y1="226.10" x2="172.04" y2="226.10" stroke="#999999" stroke-width="0.8"/>
<line x1="169.64" y1="264.20" x2="172.04" y2="264.20" stroke="#999999" stroke-width="0.8"/>
<line x1="174.98" y1="252.30" x2="174.98" y2="293.30" stroke="#999999" stroke-width="0.9"/>
<line x1="173.78" y1="252.30" x2="176.18" y2="252.30" stroke="#999999" stroke-width="0.8"/>
<line x1="173.78" y1="293.30" x2="176.18" y2="293.30" stroke="#999999" stroke-width="0.8"/>
<line x1="179.12" y1="248.30" x2="179.12" y2="273.00" stroke="#999999" stroke-width="0.9"/>
<line x1="177.92" y1="248.30" x2="180.32" y2="248.30" stroke="#999999" stroke-width="0.8"/>
<line x1="177.92" y1="273.00" x2="180.32" y2="273.00" stroke="#999999" stroke-width="0.8"/>
<line x1="183.26" y1="220.30" x2="183.26" y2="255.00" stroke="#999999" stroke-width="0.9"/>
<line x1="182.06" y1="220.30" x2="184.46" y2="220.30" stroke="#999999" stroke-width="0.8"/>
<line x1="182.06" y1="255.00" x2="184.46" y2="255.00" stroke="#999999" stroke-width="0.8"/>
<line x1="187.40" y1="243.60" x2="187.40" y2="278.50" stroke="#999999" stroke-width="0.9"/>
<line x1="186.20" y1="243.60" x2="188.60" y2="243.60" stroke="#999999" stroke-width="0.8"/>
<line x1="186.20" y1="278.50" x2="188.60" y2="278.50" stroke="#999999" stroke-width="0.8"/>
<line x1="191.54" y1="244.40" x2="191.54" y2="283.30" stroke="#999999" stroke-width="0.9"/>
<line x1="190.34" y1="244.40" x2="192.74" y2="244.40" stroke="#999999" stroke-width="0.8"/>
<line x1="190.34" y1="283.30" x2="192.74" y2="283.30" stroke="#999999" stroke-width="0.8"/>
<line x1="195.68" y1="247.60" x2="195.68" y2="274.50" stroke="#999999" stroke-width="0.9"/>
<line x1="194.48" y1="247.60" x2="196.88" y2="247.60" stroke="#999999" stroke-width="0.8"/>
<line x1="194.48" y1="274.50" x2="196.88" y2="274.50" stroke="#999999" stroke-width="0.8"/>
<line x1="199.82" y1="214.50" x2="199.82" y2="246.80" stroke="#999999" stroke-width="0.9"/>
<line x1="198.62" y1="214.50" x2="201.02" y2="214.50" stroke="#999999" stroke-width="0.8"/>
<line x1="198.62" y1="246.80" x2="201.02" y2="246.80" stroke="#999999" stroke-width="0.8"/>
<line x1="203.96" y1="235.20" x2="203.96" y2="265.00" stroke="#999999" stroke-width="0.9"/>
<line x1="202.76" y1="235.20" x2="205.16" y2="235.20" stroke="#999999" stroke-width="0.8"/>
<line x1="202.76" y1="265.00" x2="205.16" y2="265.00" stroke="#999999" stroke-width="0.8"/>
<line x1="208.10" y1="265.30" x2="208.10" y2="291.70" stroke="#999999" stroke-width="0.9"/>
<line x1="206.90" y1="265.30" x2="209.30" y2="265.30" stroke="#999999" stroke-width="0.8"/>
<line x1="206.90" y1="291.70" x2="209.30" y2="291.70" stroke="#999999" stroke-width="0.8"/>
<line x1="46.64" y1="240.30" x2="46.64" y2="246.30" stroke="#999999" stroke-width="0.9"/>
<line x1="45.44" y1="240.30" x2="47.84" y2="240.30" stroke="#999999" stroke-width="0.8"/>
<line x1="45.44" y1="246.30" x2="47.84" y2="246.30" stroke="#999999" stroke-width="0.8"/>
<line x1="50.78" y1="238.10" x2="50.78" y2="244.10" stroke="#999999" stroke-width="0.9"/>
<line x1="49.58" y1="238.10" x2="51.98" y2="238.10" stroke="#999999" stroke-width="0.8"/>
<line x1="49.58" y1="244.10" x2="51.98" y2="244.10" stroke="#999999" stroke-width="0.8"/>
<line x1="54.92" y1="240.30" x2="54.92" y2="246.30" stroke="#999999" stroke-width="0.9"/>
<line x1="53.72" y1="240.30" x2="56.12" y2="240.30" stroke="#999999" stroke-width="0.8"/>
<line x1="53.72" y1="246.30" x2="56.12" y2="246.30" stroke="#999999" stroke-width="0.8"/>
<line x1="59.06" y1="240.70" x2="59.06" y2="246.70" stroke="#999999" stroke-width="0.9"/>
<line x1="57.86" y1="240.70" x2="60.26" y2="240.70" stroke="#999999" stroke-width="0.8"/>
<line x1="57.86" y1="246.70" x2="60.26" y2="246.70" stroke="#999999" stroke-width="0.8"/>
<line x1="63.20" y1="240.70" x2="63.20" y2="246.70" stroke="#999999" stroke-width="0.9"/>
<line x1="62.00" y1="240.70" x2="64.40" y2="240.70" stroke="#999999" stroke-width="0.8"/>
<line x1="62.00" y1="246.70" x2="64.40" y2="246.70" stroke="#999999" stroke-width="0.8"/>
<line x1="67.34" y1="242.90" x2="67.34" y2="248.90" stroke="#999999" stroke-width="0.9"/>
<line x1="66.14" y1="242.90" x2="68.54" y2="242.90" stroke="#999999" stroke-width="0.8"/>
<line x1="66.14" y1="248.90" x2="68.54" y2="248.90" stroke="#999999" stroke-width="0.8"/>
<line x1="71.48" y1="243.50" x2="71.48" y2="249.50" stroke="#999999" stroke-width="0.9"/>
<line x1="70.28" y1="243.50" x2="72.68" y2="243.50" stroke="#999999" stroke-width="0.8"/>
<line x1="70.28" y1="249.50" x2="72.68" y2="249.50" stroke="#999999" stroke-width="0.8"/>
<line x1="75.62" y1="242.20" x2="75.62" y2="248.20" stroke="#999999" stroke-width="0.9"/>
<line x1="74.42" y1="242.20" x2="76.82" y2="242.20" stroke="#999999" stroke-width="0.8"/>
<line x1="74.42" y1="248.20" x2="76.82" y2="248.20" stroke="#999999" stroke-width="0.8"/>
<line x1="79.76" y1="244.20" x2="79.76" y2="250.20" stroke="#999999" stroke-width="0.9"/>
<line x1="78.56" y1="244.20" x2="80.96" y2="244.20" stroke="#999999" stroke-width="0.8"/>
<line x1="78.56" y1="250.20" x2="80.96" y2="250.20" stroke="#999999" stroke-width="0.8"/>
<line x1="83.90" y1="246.40" x2="83.90" y2="252.40" stroke="#999999" stroke-width="0.9"/>
<line x1="82.70" y1="246.40" x2="85.10" y2="246.40" stroke="#999999" stroke-width="0.8"/>
<line x1="82.70" y1="252.40" x2="85.10" y2="252.40" stroke="#999999" stroke-width="0.8"/>
<line x1="88.04" y1="247.40" x2="88.04" y2="253.40" stroke="#999999" stroke-width="0.9"/>
<line x1="86.84" y1="247.40" x2="89.24" y2="247.40" stroke="#999999" stroke-width="0.8"/>
<line x1="86.84" y1="253.40" x2="89.24" y2="253.40" stroke="#999999" stroke-width="0.8"/>
<line x1="92.18" y1="245.20" x2="92.18" y2="251.20" stroke="#999999" stroke-width="0.9"/>
<line x1="90.98" y1="245.20" x2="93.38" y2="245.20" stroke="#999999" stroke-width="0.8"/>
<line x1="90.98" y1="251.20" x2="93.38" y2="251.20" stroke="#999999" stroke-width="0.8"/>
<line x1="96.32" y1="246.10" x2="96.32" y2="252.10" stroke="#999999" stroke-width="0.9"/>
<line x1="95.12" y1="246.10" x2="97.52" y2="246.10" stroke="#999999" stroke-width="0.8"/>
<line x1="95.12" y1="252.10" x2="97.52" y2="252.10" stroke="#999999" stroke-width="0.8"/>
<line x1="100.46" y1="248.10" x2="100.46" y2="254.10" stroke="#999999" stroke-width="0.9"/>
<line x1="99.26" y1="248.10" x2="101.66" y2="248.10" stroke="#999999" stroke-width="0.8"/>
<line x1="99.26" y1="254.10" x2="101.66" y2="254.10" stroke="#999999" stroke-width="0.8"/>
<line x1="104.60" y1="247.80" x2="104.60" y2="253.80" stroke="#999999" stroke-width="0.9"/>
<line x1="103.40" y1="247.80" x2="105.80" y2="247.80" stroke="#999999" stroke-width="0.8"/>
<line x1="103.40" y1="253.80" x2="105.80" y2="253.80" stroke="#999999" stroke-width="0.8"/>
<line x1="108.74" y1="249.00" x2="108.74" y2="255.00" stroke="#999999" stroke-width="0.9"/>
<line x1="107.54" y1="249.00" x2="109.94" y2="249.00" stroke="#999999" stroke-width="0.8"/>
<line x1="107.54" y1="255.00" x2="109.94" y2="255.00" stroke="#999999" stroke-width="0.8"/>
<line x1="112.88" y1="242.90" x2="112.88" y2="248.90" stroke="#999999" stroke-width="0.9"/>
<line x1="111.68" y1="242.90" x2="114.08" y2="242.90" stroke="#999999" stroke-width="0.8"/>
<line x1="111.68" y1="248.90" x2="114.08" y2="248.90" stroke="#999999" stroke-width="0.8"/>
<line x1="117.02" y1="247.40" x2="117.02" y2="253.40" stroke="#999999" stroke-width="0.9"/>
<line x1="115.82" y1="247.40" x2="118.22" y2="247.40" stroke="#999999" stroke-width="0.8"/>
<line x1="115.82" y1="253.40" x2="118.22" y2="253.40" stroke="#999999" stroke-width="0.8"/>
<line x1="121.16" y1="246.10" x2="121.16" y2="252.10" stroke="#999999" stroke-width="0.9"/>
<line x1="119.96" y1="246.10" x2="122.36" y2="246.10" stroke="#999999" stroke-width="0.8"/>
<line x1="119.96" y1="252.10" x2="122.36" y2="252.10" stroke="#999999" stroke-width="0.8"/>
<line x1="125.30" y1="249.00" x2="125.30" y2="255.00" stroke="#999999" stroke-width="0.9"/>
<line x1="124.10" y1="249.00" x2="126.50" y2="249.00" stroke="#999999" stroke-width="0.8"/>
<line x1="124.10" y1="255.00" x2="126.50" y2="255.00" stroke="#999999" stroke-width="0.8"/>
<line x1="129.44" y1="250.90" x2="129.44" y2="256.90" stroke="#999999" stroke-width="0.9"/>
<line x1="128.24" y1="250.90" x2="130.64" y2="250.90" stroke="#999999" stroke-width="0.8"/>
<line x1="128.24" y1="256.90" x2="130.64" y2="256.90" stroke="#999999" stroke-width="0.8"/>
<line x1="133.58" y1="248.00" x2="133.58" y2="254.00" stroke="#999999" stroke-width="0.9"/>
<line x1="132.38" y1="248.00" x2="134.78" y2="248.00" stroke="#999999" stroke-width="0.8"/>
<line x1="132.38" y1="254.00" x2="134.78" y2="254.00" stroke="#999999" stroke-width="0.8"/>
<line x1="137.72" y1="249.60" x2="137.72" y2="255.60" stroke="#999999" stroke-width="0.9"/>
<line x1="136.52" y1="249.60" x2="138.92" y2="249.60" stroke="#999999" stroke-width="0.8"/>
<line x1="136.52" y1="255.60" x2="138.92" y2="255.60" stroke="#999999" stroke-width="0.8"/>
<line x1="141.86" y1="250.10" x2="141.86" y2="256.10" stroke="#999999" stroke-width="0.9"/>
<line x1="140.66" y1="250.10" x2="143.06" y2="250.10" stroke="#999999" stroke-width="0.8"/>
<line x1="140.66" y1="256.10" x2="143.06" y2="256.10" stroke="#999999" stroke-width="0.8"/>
<line x1="146.00" y1="251.20" x2="146.00" y2="257.20" stroke="#999999" stroke-width="0.9"/>
<line x1="144.80" y1="251.20" x2="147.20" y2="251.20" stroke="#999999" stroke-width="0.8"/>
<line x1="144.80" y1="257.20" x2="147.20" y2="257.20" stroke="#999999" stroke-width="0.8"/>
<line x1="150.14" y1="250.60" x2="150.14" y2="256.60" stroke="#999999" stroke-width="0.9"/>
<line x1="148.94" y1="250.60" x2="151.34" y2="250.60" stroke="#999999" stroke-width="0.8"/>
<line x1="148.94" y1="256.60" x2="151.34" y2="256.60" stroke="#999999" stroke-width="0.8"/>
<line x1="154.28" y1="252.20" x2="154.28" y2="258.20" stroke="#999999" stroke-width="0.9"/>
<line x1="153.08" y1="252.20" x2="155.48" y2="252.20" stroke="#999999" stroke-width="0.8"/>
<line x1="153.08" y1="258.20" x2="155.48" y2="258.20" stroke="#999999" stroke-width="0.8"/>
<line x1="158.42" y1="249.00" x2="158.42" y2="255.00" stroke="#999999" stroke-width="0.9"/>
<line x1="157.22" y1="249.00" x2="159.62" y2="249.00" stroke="#999999" stroke-width="0.8"/>
<line x1="157.22" y1="255.00" x2="159.62" y2="255.00" stroke="#999999" stroke-width="0.8"/>
<line x1="162.56" y1="253.30" x2="162.56" y2="259.30" stroke="#999999" stroke-width="0.9"/>
<line x1="161.36" y1="253.30" x2="163.76" y2="253.30" stroke="#999999" stroke-width="0.8"/>
<line x1="161.36" y1="259.30" x2="163.76" y2="259.30" stroke="#999999" stroke-width="0.8"/>
<line x1="166.70" y1="249.60" x2="166.70" y2="255.60" stroke="#999999" stroke-width="0.9"/>
<line x1="165.50" y1="249.60" x2="167.90" y2="249.60" stroke="#999999" stroke-width="0.8"/>
<line x1="165.50" y1="255.60" x2="167.90" y2="255.60" stroke="#999999" stroke-width="0.8"/>
<line x1="170.84" y1="249.30" x2="170.84" y2="255.30" stroke="#999999" stroke-width="0.9"/>
<line x1="169.64" y1="249.30" x2="172.04" y2="249.30" stroke="#999999" stroke-width="0.8"/>
<line x1="169.64" y1="255.30" x2="172.04" y2="255.30" stroke="#999999" stroke-width="0.8"/>
<line x1="174.98" y1="249.00" x2="174.98" y2="255.00" stroke="#999999" stroke-width="0.9"/>
<line x1="173.78" y1="249.00" x2="176.18" y2="249.00" stroke="#999999" stroke-width="0.8"/>
<line x1="173.78" y1="255.00" x2="176.18" y2="255.00" stroke="#999999" stroke-width="0.8"/>
<line x1="179.12" y1="249.30" x2="179.12" y2="255.30" stroke="#999999" stroke-width="0.9"/>
<line x1="177.92" y1="249.30" x2="180.32" y2="249.30" stroke="#999999" stroke-width="0.8"/>
<line x1="177.92" y1="255.30" x2="180.32" y2="255.30" stroke="#999999" stroke-width="0.8"/>
<line x1="183.26" y1="245.30" x2="183.26" y2="251.30" stroke="#999999" stroke-width="0.9"/>
<line x1="182.06" y1="245.30" x2="184.46" y2="245.30" stroke="#999999" stroke-width="0.8"/>
<line x1="182.06" y1="251.30" x2="184.46" y2="251.30" stroke="#999999" stroke-width="0.8"/>
<line x1="187.40" y1="248.50" x2="187.40" y2="254.50" stroke="#999999" stroke-width="0.9"/>
<line x1="186.20" y1="248.50" x2="188.60" y2="248.50" stroke="#999999" stroke-width="0.8"/>
<line x1="186.20" y1="254.50" x2="188.60" y2="254.50" stroke="#999999" stroke-width="0.8"/>
<line x1="191.54" y1="251.70" x2="191.54" y2="257.70" stroke="#999999" stroke-width="0.9"/>
<line x1="190.34" y1="251.70" x2="192.74" y2="251.70" stroke="#999999" stroke-width="0.8"/>
<line x1="190.34" y1="257.70" x2="192.74" y2="257.70" stroke="#999999" stroke-width="0.8"/>
<line x1="195.68" y1="247.40" x2="195.68" y2="253.40" stroke="#999999" stroke-width="0.9"/>
<line x1="194.48" y1="247.40" x2="196.88" y2="247.40" stroke="#999999" stroke-width="0.8"/>
<line x1="194.48" y1="253.40" x2="196.88" y2="253.40" stroke="#999999" stroke-width="0.8"/>
<line x1="199.82" y1="252.50" x2="199.82" y2="258.50" stroke="#999999" stroke-width="0.9"/>
<line x1="198.62" y1="252.50" x2="201.02" y2="252.50" stroke="#999999" stroke-width="0.8"/>
<line x1="198.62" y1="258.50" x2="201.02" y2="258.50" stroke="#999999" stroke-width="0.8"/>
<line x1="203.96" y1="248.50" x2="203.96" y2="254.50" stroke="#999999" stroke-width="0.9"/>
<line x1="202.76" y1="248.50" x2="205.16" y2="248.50" stroke="#999999" stroke-width="0.8"/>
<line x1="202.76" y1="254.50" x2="205.16" y2="254.50" stroke="#999999" stroke-width="0.8"/>
<line x1="208.10" y1="245.80" x2="208.10" y2="251.80" stroke="#999999" stroke-width="0.9"/>
<line x1="206.90" y1="245.80" x2="209.30" y2="245.80" stroke="#999999" stroke-width="0.8"/>
<line x1="206.90" y1="251.80" x2="209.30" y2="251.80" stroke="#999999" stroke-width="0.8"/>
<polyline points="46.64,243.30 50.78,241.10 54.92,243.30 59.06,243.70 63.20,243.70 67.34,245.90 71.48,246.50 75.62,245.20 79.76,247.20 83.90,249.40 88.04,250.40 92.18,248.20 96.32,249.10 100.46,251.10 104.60,250.80 108.74,252.00 112.88,245.90 117.02,250.40 121.16,249.10 125.30,252.00 129.44,253.90 133.58,251.00 137.72,252.60 141.86,253.10 146.00,254.20 150.14,253.60 154.28,255.20 158.42,252.00 162.56,256.30 166.70,252.60 170.84,252.30 174.98,252.00 179.12,252.30 183.26,248.30 187.40,251.50 191.54,254.70 195.68,250.40 199.82,255.50 203.96,251.50 208.10,248.80" fill="none" stroke="#1e8c3c" stroke-width="1.25"/>
<circle cx="46.64" cy="243.30" r="1.4" fill="#1e8c3c"/>
<circle cx="50.78" cy="241.10" r="1.4" fill="#1e8c3c"/>
<circle cx="54.92" cy="243.30" r="1.4" fill="#1e8c3c"/>
<circle cx="59.06" cy="243.70" r="1.4" fill="#1e8c3c"/>
<circle cx="63.20" cy="243.70" r="1.4" fill="#1e8c3c"/>
<circle cx="67.34" cy="245.90" r="1.4" fill="#1e8c3c"/>
<circle cx="71.48" cy="246.50" r="1.4" fill="#1e8c3c"/>
<circle cx="75.62" cy="245.20" r="1.4" fill="#1e8c3c"/>
<circle cx="79.76" cy="247.20" r="1.4" fill="#1e8c3c"/>
<circle cx="83.90" cy="249.40" r="1.4" fill="#1e8c3c"/>
<circle cx="88.04" cy="250.40" r="1.4" fill="#1e8c3c"/>
<circle cx="92.18" cy="248.20" r="1.4" fill="#1e8c3c"/>
<circle cx="96.32" cy="249.10" r="1.4" fill="#1e8c3c"/>
<circle cx="100.46" cy="251.10" r="1.4" fill="#1e8c3c"/>
<circle cx="104.60" cy="250.80" r="1.4" fill="#1e8c3c"/>
<circle cx="108.74" cy="252.00" r="1.4" fill="#1e8c3c"/>
<circle cx="112.88" cy="245.90" r="1.4" fill="#1e8c3c"/>
<circle cx="117.02" cy="250.40" r="1.4" fill="#1e8c3c"/>
<circle cx="121.16" cy="249.10" r="1.4" fill="#1e8c3c"/>
<circle cx="125.30" cy="252.00" r="1.4" fill="#1e8c3c"/>
<circle cx="129.44" cy="253.90" r="1.4" fill="#1e8c3c"/>
<circle cx="133.58" cy="251.00" r="1.4" fill="#1e8c3c"/>
<circle cx="137.72" cy="252.60" r="1.4" fill="#1e8c3c"/>
<circle cx="141.86" cy="253.10" r="1.4" fill="#1e8c3c"/>
<circle cx="146.00" cy="254.20" r="1.4" fill="#1e8c3c"/>
<circle cx="150.14" cy="253.60" r="1.4" fill="#1e8c3c"/>
<circle cx="154.28" cy="255.20" r="1.4" fill="#1e8c3c"/>
<circle cx="158.42" cy="252.00" r="1.4" fill="#1e8c3c"/>
<circle cx="162.56" cy="256.30" r="1.4" fill="#1e8c3c"/>
<circle cx="166.70" cy="252.60" r="1.4" fill="#1e8c3c"/>
<circle cx="170.84" cy="252.30" r="1.4" fill="#1e8c3c"/>
<circle cx="174.98" cy="252.00" r="1.4" fill="#1e8c3c"/>
<circle cx="179.12" cy="252.30" r="1.4" fill="#1e8c3c"/>
<circle cx="183.26" cy="248.30" r="1.4" fill="#1e8c3c"/>
<circle cx="187.40" cy="251.50" r="1.4" fill="#1e8c3c"/>
<circle cx="191.54" cy="254.70" r="1.4" fill="#1e8c3c"/>
<circle cx="195.68" cy="250.40" r="1.4" fill="#1e8c3c"/>
<circle cx="199.82" cy="255.50" r="1.4" fill="#1e8c3c"/>
<circle cx="203.96" cy="251.50" r="1.4" fill="#1e8c3c"/>
<circle cx="208.10" cy="248.80" r="1.4" fill="#1e8c3c"/>
<polyline points="46.64,226.00 50.78,227.10 54.92,248.10 59.06,253.00 63.20,245.20 67.34,263.70 71.48,209.50 75.62,223.80 79.76,230.70 83.90,240.30 88.04,220.30 92.18,244.30 96.32,244.90 100.46,249.10 104.60,258.90 108.74,253.70 112.88,241.10 117.02,277.70 121.16,247.90 125.30,252.60 129.44,247.90 133.58,248.30 137.72,235.70 141.86,257.10 146.00,246.00 150.14,248.80 154.28,247.60 158.42,265.00 162.56,281.20 166.70,238.00 170.84,245.20 174.98,278.20 179.12,261.00 183.26,238.00 187.40,260.60 191.54,263.70 195.68,263.40 199.82,230.40 203.96,250.00 208.10,278.50" fill="none" stroke="#3d4ab6" stroke-width="1.1"/>
<circle cx="46.64" cy="226.00" r="1.2" fill="#3d4ab6"/>
<circle cx="50.78" cy="227.10" r="1.2" fill="#3d4ab6"/>
<circle cx="54.92" cy="248.10" r="1.2" fill="#3d4ab6"/>
<circle cx="59.06" cy="253.00" r="1.2" fill="#3d4ab6"/>
<circle cx="63.20" cy="245.20" r="1.2" fill="#3d4ab6"/>
<circle cx="67.34" cy="263.70" r="1.2" fill="#3d4ab6"/>
<circle cx="71.48" cy="209.50" r="1.2" fill="#3d4ab6"/>
<circle cx="75.62" cy="223.80" r="1.2" fill="#3d4ab6"/>
<circle cx="79.76" cy="230.70" r="1.2" fill="#3d4ab6"/>
<circle cx="83.90" cy="240.30" r="1.2" fill="#3d4ab6"/>
<circle cx="88.04" cy="220.30" r="1.2" fill="#3d4ab6"/>
<circle cx="92.18" cy="244.30" r="1.2" fill="#3d4ab6"/>
<circle cx="96.32" cy="244.90" r="1.2" fill="#3d4ab6"/>
<circle cx="100.46" cy="249.10" r="1.2" fill="#3d4ab6"/>
<circle cx="104.60" cy="258.90" r="1.2" fill="#3d4ab6"/>
<circle cx="108.74" cy="253.70" r="1.2" fill="#3d4ab6"/>
<circle cx="112.88" cy="241.10" r="1.2" fill="#3d4ab6"/>
<circle cx="117.02" cy="277.70" r="1.2" fill="#3d4ab6"/>
<circle cx="121.16" cy="247.90" r="1.2" fill="#3d4ab6"/>
<circle cx="125.30" cy="252.60" r="1.2" fill="#3d4ab6"/>
<circle cx="129.44" cy="247.90" r="1.2" fill="#3d4ab6"/>
<circle cx="133.58" cy="248.30" r="1.2" fill="#3d4ab6"/>
<circle cx="137.72" cy="235.70" r="1.2" fill="#3d4ab6"/>
<circle cx="141.86" cy="257.10" r="1.2" fill="#3d4ab6"/>
<circle cx="146.00" cy="246.00" r="1.2" fill="#3d4ab6"/>
<circle cx="150.14" cy="248.80" r="1.2" fill="#3d4ab6"/>
<circle cx="154.28" cy="247.60" r="1.2" fill="#3d4ab6"/>
<circle cx="158.42" cy="265.00" r="1.2" fill="#3d4ab6"/>
<circle cx="162.56" cy="281.20" r="1.2" fill="#3d4ab6"/>
<circle cx="166.70" cy="238.00" r="1.2" fill="#3d4ab6"/>
<circle cx="170.84" cy="245.20" r="1.2" fill="#3d4ab6"/>
<circle cx="174.98" cy="278.20" r="1.2" fill="#3d4ab6"/>
<circle cx="179.12" cy="261.00" r="1.2" fill="#3d4ab6"/>
<circle cx="183.26" cy="238.00" r="1.2" fill="#3d4ab6"/>
<circle cx="187.40" cy="260.60" r="1.2" fill="#3d4ab6"/>
<circle cx="191.54" cy="263.70" r="1.2" fill="#3d4ab6"/>
<circle cx="195.68" cy="263.40" r="1.2" fill="#3d4ab6"/>
<circle cx="199.82" cy="230.40" r="1.2" fill="#3d4ab6"/>
<circle cx="203.96" cy="250.00" r="1.2" fill="#3d4ab6"/>
<circle cx="208.10" cy="278.50" r="1.2" fill="#3d4ab6"/>
<rect x="39.00" y="191.50" width="176.90" height="114.90" fill="none" stroke="#000" stroke-width="1"/>
<line x1="36.80" y1="302.00" x2="39.00" y2="302.00" stroke="#000" stroke-width="1"/>
<text x="29.08" y="304.90" font-size="9.2" fill="#000" textLength="5.16" lengthAdjust="spacingAndGlyphs" stroke="#000" stroke-width="0.25">0</text>
<line x1="36.80" y1="287.30" x2="39.00" y2="287.30" stroke="#000" stroke-width="1"/>
<text x="22.67" y="290.20" font-size="9.2" fill="#000" textLength="11.57" lengthAdjust="spacingAndGlyphs" stroke="#000" stroke-width="0.25">0.5</text>
<line x1="36.80" y1="272.60" x2="39.00" y2="272.60" stroke="#000" stroke-width="1"/>
<text x="22.31" y="275.50" font-size="9.2" fill="#000" textLength="11.93" lengthAdjust="spacingAndGlyphs" stroke="#000" stroke-width="0.25">1.0</text>
<line x1="36.80" y1="257.90" x2="39.00" y2="257.90" stroke="#000" stroke-width="1"/>
<text x="22.31" y="260.80" font-size="9.2" fill="#000" textLength="11.93" lengthAdjust="spacingAndGlyphs" stroke="#000" stroke-width="0.25">1.5</text>
<line x1="36.80" y1="243.20" x2="39.00" y2="243.20" stroke="#000" stroke-width="1"/>
<text x="22.58" y="246.10" font-size="9.2" fill="#000" textLength="11.66" lengthAdjust="spacingAndGlyphs" stroke="#000" stroke-width="0.25">2.0</text>
<line x1="36.80" y1="228.50" x2="39.00" y2="228.50" stroke="#000" stroke-width="1"/>
<text x="22.58" y="231.40" font-size="9.2" fill="#000" textLength="11.66" lengthAdjust="spacingAndGlyphs" stroke="#000" stroke-width="0.25">2.5</text>
<line x1="36.80" y1="213.80" x2="39.00" y2="213.80" stroke="#000" stroke-width="1"/>
<text x="22.67" y="216.70" font-size="9.2" fill="#000" textLength="11.57" lengthAdjust="spacingAndGlyphs" stroke="#000" stroke-width="0.25">3.0</text>
<line x1="36.80" y1="199.10" x2="39.00" y2="199.10" stroke="#000" stroke-width="1"/>
<text x="22.67" y="202.00" font-size="9.2" fill="#000" textLength="11.57" lengthAdjust="spacingAndGlyphs" stroke="#000" stroke-width="0.25">3.5</text>
<line x1="42.50" y1="306.40" x2="42.50" y2="308.60" stroke="#000" stroke-width="0.9"/>
<text x="39.99" y="316.60" font-size="9.2" fill="#000" textLength="4.98" lengthAdjust="spacingAndGlyphs" stroke="#000" stroke-width="0.25">0</text>
<line x1="63.20" y1="306.40" x2="63.20" y2="308.60" stroke="#000" stroke-width="0.9"/>
<text x="60.68" y="316.60" font-size="9.2" fill="#000" textLength="5.09" lengthAdjust="spacingAndGlyphs" stroke="#000" stroke-width="0.25">5</text>
<line x1="83.90" y1="306.40" x2="83.90" y2="308.60" stroke="#000" stroke-width="0.9"/>
<text x="78.91" y="316.60" font-size="9.2" fill="#000" textLength="9.66" lengthAdjust="spacingAndGlyphs" stroke="#000" stroke-width="0.25">10</text>
<line x1="104.60" y1="306.40" x2="104.60" y2="308.60" stroke="#000" stroke-width="0.9"/>
<text x="99.61" y="316.60" font-size="9.2" fill="#000" textLength="9.66" lengthAdjust="spacingAndGlyphs" stroke="#000" stroke-width="0.25">15</text>
<line x1="125.30" y1="306.40" x2="125.30" y2="308.60" stroke="#000" stroke-width="0.9"/>
<text x="120.58" y="316.60" font-size="9.2" fill="#000" textLength="9.38" lengthAdjust="spacingAndGlyphs" stroke="#000" stroke-width="0.25">20</text>
<line x1="146.00" y1="306.40" x2="146.00" y2="308.60" stroke="#000" stroke-width="0.9"/>
<text x="141.28" y="316.60" font-size="9.2" fill="#000" textLength="9.38" lengthAdjust="spacingAndGlyphs" stroke="#000" stroke-width="0.25">25</text>
<line x1="166.70" y1="306.40" x2="166.70" y2="308.60" stroke="#000" stroke-width="0.9"/>
<text x="162.07" y="316.60" font-size="9.2" fill="#000" textLength="9.29" lengthAdjust="spacingAndGlyphs" stroke="#000" stroke-width="0.25">30</text>
<line x1="187.40" y1="306.40" x2="187.40" y2="308.60" stroke="#000" stroke-width="0.9"/>
<text x="182.77" y="316.60" font-size="9.2" fill="#000" textLength="9.29" lengthAdjust="spacingAndGlyphs" stroke="#000" stroke-width="0.25">35</text>
<line x1="208.10" y1="306.40" x2="208.10" y2="308.60" stroke="#000" stroke-width="0.9"/>
<text x="203.64" y="316.60" font-size="9.2" fill="#000" textLength="9.11" lengthAdjust="spacingAndGlyphs" stroke="#000" stroke-width="0.25">40</text>
<text x="0" y="0" font-size="10.5" fill="#000" font-weight="bold" stroke="#000" stroke-width="0.25" textLength="87.85" lengthAdjust="spacingAndGlyphs" transform="translate(17.40,290.24) rotate(-90)">mean enrichment</text>
<text x="77.26" y="326.70" font-size="10.5" fill="#000" font-weight="bold" stroke="#000" stroke-width="0.25" textLength="96.24" lengthAdjust="spacingAndGlyphs">motif start position</text>
<line x1="276.50" y1="301.00" x2="453.50" y2="301.00" stroke="#e13228" stroke-width="1.1"/>
<line x1="284.33" y1="196.60" x2="284.33" y2="216.70" stroke="#999999" stroke-width="0.9"/>
<line x1="283.13" y1="196.60" x2="285.53" y2="196.60" stroke="#999999" stroke-width="0.8"/>
<line x1="283.13" y1="216.70" x2="285.53" y2="216.70" stroke="#999999" stroke-width="0.8"/>
<line x1="288.16" y1="197.60" x2="288.16" y2="219.60" stroke="#999999" stroke-width="0.9"/>
<line x1="286.96" y1="197.60" x2="289.36" y2="197.60" stroke="#999999" stroke-width="0.8"/>
<line x1="286.96" y1="219.60" x2="289.36" y2="219.60" stroke="#999999" stroke-width="0.8"/>
<line x1="291.99" y1="199.00" x2="291.99" y2="217.30" stroke="#999999" stroke-width="0.9"/>
<line x1="290.79" y1="199.00" x2="293.19" y2="199.00" stroke="#999999" stroke-width="0.8"/>
<line x1="290.79" y1="217.30" x2="293.19" y2="217.30" stroke="#999999" stroke-width="0.8"/>
<line x1="295.82" y1="233.10" x2="295.82" y2="254.10" stroke="#999999" stroke-width="0.9"/>
<line x1="294.62" y1="233.10" x2="297.02" y2="233.10" stroke="#999999" stroke-width="0.8"/>
<line x1="294.62" y1="254.10" x2="297.02" y2="254.10" stroke="#999999" stroke-width="0.8"/>
<line x1="299.65" y1="216.30" x2="299.65" y2="235.40" stroke="#999999" stroke-width="0.9"/>
<line x1="298.45" y1="216.30" x2="300.85" y2="216.30" stroke="#999999" stroke-width="0.8"/>
<line x1="298.45" y1="235.40" x2="300.85" y2="235.40" stroke="#999999" stroke-width="0.8"/>
<line x1="303.48" y1="218.20" x2="303.48" y2="239.30" stroke="#999999" stroke-width="0.9"/>
<line x1="302.28" y1="218.20" x2="304.68" y2="218.20" stroke="#999999" stroke-width="0.8"/>
<line x1="302.28" y1="239.30" x2="304.68" y2="239.30" stroke="#999999" stroke-width="0.8"/>
<line x1="307.31" y1="233.10" x2="307.31" y2="252.30" stroke="#999999" stroke-width="0.9"/>
<line x1="306.11" y1="233.10" x2="308.51" y2="233.10" stroke="#999999" stroke-width="0.8"/>
<line x1="306.11" y1="252.30" x2="308.51" y2="252.30" stroke="#999999" stroke-width="0.8"/>
<line x1="311.14" y1="217.70" x2="311.14" y2="237.90" stroke="#999999" stroke-width="0.9"/>
<line x1="309.94" y1="217.70" x2="312.34" y2="217.70" stroke="#999999" stroke-width="0.8"/>
<line x1="309.94" y1="237.90" x2="312.34" y2="237.90" stroke="#999999" stroke-width="0.8"/>
<line x1="314.97" y1="214.40" x2="314.97" y2="233.10" stroke="#999999" stroke-width="0.9"/>
<line x1="313.77" y1="214.40" x2="316.17" y2="214.40" stroke="#999999" stroke-width="0.8"/>
<line x1="313.77" y1="233.10" x2="316.17" y2="233.10" stroke="#999999" stroke-width="0.8"/>
<line x1="318.80" y1="223.50" x2="318.80" y2="244.60" stroke="#999999" stroke-width="0.9"/>
<line x1="317.60" y1="223.50" x2="320.00" y2="223.50" stroke="#999999" stroke-width="0.8"/>
<line x1="317.60" y1="244.60" x2="320.00" y2="244.60" stroke="#999999" stroke-width="0.8"/>
<line x1="322.63" y1="232.60" x2="322.63" y2="255.20" stroke="#999999" stroke-width="0.9"/>
<line x1="321.43" y1="232.60" x2="323.83" y2="232.60" stroke="#999999" stroke-width="0.8"/>
<line x1="321.43" y1="255.20" x2="323.83" y2="255.20" stroke="#999999" stroke-width="0.8"/>
<line x1="326.46" y1="242.20" x2="326.46" y2="265.90" stroke="#999999" stroke-width="0.9"/>
<line x1="325.26" y1="242.20" x2="327.66" y2="242.20" stroke="#999999" stroke-width="0.8"/>
<line x1="325.26" y1="265.90" x2="327.66" y2="265.90" stroke="#999999" stroke-width="0.8"/>
<line x1="330.29" y1="244.60" x2="330.29" y2="267.40" stroke="#999999" stroke-width="0.9"/>
<line x1="329.09" y1="244.60" x2="331.49" y2="244.60" stroke="#999999" stroke-width="0.8"/>
<line x1="329.09" y1="267.40" x2="331.49" y2="267.40" stroke="#999999" stroke-width="0.8"/>
<line x1="334.12" y1="216.70" x2="334.12" y2="237.50" stroke="#999999" stroke-width="0.9"/>
<line x1="332.92" y1="216.70" x2="335.32" y2="216.70" stroke="#999999" stroke-width="0.8"/>
<line x1="332.92" y1="237.50" x2="335.32" y2="237.50" stroke="#999999" stroke-width="0.8"/>
<line x1="337.95" y1="230.00" x2="337.95" y2="250.40" stroke="#999999" stroke-width="0.9"/>
<line x1="336.75" y1="230.00" x2="339.15" y2="230.00" stroke="#999999" stroke-width="0.8"/>
<line x1="336.75" y1="250.40" x2="339.15" y2="250.40" stroke="#999999" stroke-width="0.8"/>
<line x1="341.78" y1="214.40" x2="341.78" y2="234.30" stroke="#999999" stroke-width="0.9"/>
<line x1="340.58" y1="214.40" x2="342.98" y2="214.40" stroke="#999999" stroke-width="0.8"/>
<line x1="340.58" y1="234.30" x2="342.98" y2="234.30" stroke="#999999" stroke-width="0.8"/>
<line x1="345.61" y1="237.20" x2="345.61" y2="258.50" stroke="#999999" stroke-width="0.9"/>
<line x1="344.41" y1="237.20" x2="346.81" y2="237.20" stroke="#999999" stroke-width="0.8"/>
<line x1="344.41" y1="258.50" x2="346.81" y2="258.50" stroke="#999999" stroke-width="0.8"/>
<line x1="349.44" y1="246.30" x2="349.44" y2="270.20" stroke="#999999" stroke-width="0.9"/>
<line x1="348.24" y1="246.30" x2="350.64" y2="246.30" stroke="#999999" stroke-width="0.8"/>
<line x1="348.24" y1="270.20" x2="350.64" y2="270.20" stroke="#999999" stroke-width="0.8"/>
<line x1="353.27" y1="220.20" x2="353.27" y2="244.40" stroke="#999999" stroke-width="0.9"/>
<line x1="352.07" y1="220.20" x2="354.47" y2="220.20" stroke="#999999" stroke-width="0.8"/>
<line x1="352.07" y1="244.40" x2="354.47" y2="244.40" stroke="#999999" stroke-width="0.8"/>
<line x1="357.10" y1="224.90" x2="357.10" y2="248.40" stroke="#999999" stroke-width="0.9"/>
<line x1="355.90" y1="224.90" x2="358.30" y2="224.90" stroke="#999999" stroke-width="0.8"/>
<line x1="355.90" y1="248.40" x2="358.30" y2="248.40" stroke="#999999" stroke-width="0.8"/>
<line x1="360.93" y1="216.30" x2="360.93" y2="241.20" stroke="#999999" stroke-width="0.9"/>
<line x1="359.73" y1="216.30" x2="362.13" y2="216.30" stroke="#999999" stroke-width="0.8"/>
<line x1="359.73" y1="241.20" x2="362.13" y2="241.20" stroke="#999999" stroke-width="0.8"/>
<line x1="364.76" y1="251.30" x2="364.76" y2="273.10" stroke="#999999" stroke-width="0.9"/>
<line x1="363.56" y1="251.30" x2="365.96" y2="251.30" stroke="#999999" stroke-width="0.8"/>
<line x1="363.56" y1="273.10" x2="365.96" y2="273.10" stroke="#999999" stroke-width="0.8"/>
<line x1="368.59" y1="240.30" x2="368.59" y2="265.20" stroke="#999999" stroke-width="0.9"/>
<line x1="367.39" y1="240.30" x2="369.79" y2="240.30" stroke="#999999" stroke-width="0.8"/>
<line x1="367.39" y1="265.20" x2="369.79" y2="265.20" stroke="#999999" stroke-width="0.8"/>
<line x1="372.42" y1="240.30" x2="372.42" y2="267.40" stroke="#999999" stroke-width="0.9"/>
<line x1="371.22" y1="240.30" x2="373.62" y2="240.30" stroke="#999999" stroke-width="0.8"/>
<line x1="371.22" y1="267.40" x2="373.62" y2="267.40" stroke="#999999" stroke-width="0.8"/>
<line x1="376.25" y1="226.80" x2="376.25" y2="246.50" stroke="#999999" stroke-width="0.9"/>
<line x1="375.05" y1="226.80" x2="377.45" y2="226.80" stroke="#999999" stroke-width="0.8"/>
<line x1="375.05" y1="246.50" x2="377.45" y2="246.50" stroke="#999999" stroke-width="0.8"/>
<line x1="380.08" y1="233.10" x2="380.08" y2="259.50" stroke="#999999" stroke-width="0.9"/>
<line x1="378.88" y1="233.10" x2="381.28" y2="233.10" stroke="#999999" stroke-width="0.8"/>
<line x1="378.88" y1="259.50" x2="381.28" y2="259.50" stroke="#999999" stroke-width="0.8"/>
<line x1="383.91" y1="251.30" x2="383.91" y2="280.30" stroke="#999999" stroke-width="0.9"/>
<line x1="382.71" y1="251.30" x2="385.11" y2="251.30" stroke="#999999" stroke-width="0.8"/>
<line x1="382.71" y1="280.30" x2="385.11" y2="280.30" stroke="#999999" stroke-width="0.8"/>
<line x1="387.74" y1="264.50" x2="387.74" y2="287.50" stroke="#999999" stroke-width="0.9"/>
<line x1="386.54" y1="264.50" x2="388.94" y2="264.50" stroke="#999999" stroke-width="0.8"/>
<line x1="386.54" y1="287.50" x2="388.94" y2="287.50" stroke="#999999" stroke-width="0.8"/>
<line x1="391.57" y1="256.20" x2="391.57" y2="280.00" stroke="#999999" stroke-width="0.9"/>
<line x1="390.37" y1="256.20" x2="392.77" y2="256.20" stroke="#999999" stroke-width="0.8"/>
<line x1="390.37" y1="280.00" x2="392.77" y2="280.00" stroke="#999999" stroke-width="0.8"/>
<line x1="395.40" y1="236.40" x2="395.40" y2="261.30" stroke="#999999" stroke-width="0.9"/>
<line x1="394.20" y1="236.40" x2="396.60" y2="236.40" stroke="#999999" stroke-width="0.8"/>
<line x1="394.20" y1="261.30" x2="396.60" y2="261.30" stroke="#999999" stroke-width="0.8"/>
<line x1="399.23" y1="226.40" x2="399.23" y2="248.40" stroke="#999999" stroke-width="0.9"/>
<line x1="398.03" y1="226.40" x2="400.43" y2="226.40" stroke="#999999" stroke-width="0.8"/>
<line x1="398.03" y1="248.40" x2="400.43" y2="248.40" stroke="#999999" stroke-width="0.8"/>
<line x1="403.06" y1="248.70" x2="403.06" y2="277.20" stroke="#999999" stroke-width="0.9"/>
<line x1="401.86" y1="248.70" x2="404.26" y2="248.70" stroke="#999999" stroke-width="0.8"/>
<line x1="401.86" y1="277.20" x2="404.26" y2="277.20" stroke="#999999" stroke-width="0.8"/>
<line x1="406.89" y1="230.30" x2="406.89" y2="251.60" stroke="#999999" stroke-width="0.9"/>
<line x1="405.69" y1="230.30" x2="408.09" y2="230.30" stroke="#999999" stroke-width="0.8"/>
<line x1="405.69" y1="251.60" x2="408.09" y2="251.60" stroke="#999999" stroke-width="0.8"/>
<line x1="410.72" y1="246.50" x2="410.72" y2="269.50" stroke="#999999" stroke-width="0.9"/>
<line x1="409.52" y1="246.50" x2="411.92" y2="246.50" stroke="#999999" stroke-width="0.8"/>
<line x1="409.52" y1="269.50" x2="411.92" y2="269.50" stroke="#999999" stroke-width="0.8"/>
<line x1="414.55" y1="214.40" x2="414.55" y2="242.20" stroke="#999999" stroke-width="0.9"/>
<line x1="413.35" y1="214.40" x2="415.75" y2="214.40" stroke="#999999" stroke-width="0.8"/>
<line x1="413.35" y1="242.20" x2="415.75" y2="242.20" stroke="#999999" stroke-width="0.8"/>
<line x1="418.38" y1="241.20" x2="418.38" y2="268.00" stroke="#999999" stroke-width="0.9"/>
<line x1="417.18" y1="241.20" x2="419.58" y2="241.20" stroke="#999999" stroke-width="0.8"/>
<line x1="417.18" y1="268.00" x2="419.58" y2="268.00" stroke="#999999" stroke-width="0.8"/>
<line x1="422.21" y1="249.00" x2="422.21" y2="273.90" stroke="#999999" stroke-width="0.9"/>
<line x1="421.01" y1="249.00" x2="423.41" y2="249.00" stroke="#999999" stroke-width="0.8"/>
<line x1="421.01" y1="273.90" x2="423.41" y2="273.90" stroke="#999999" stroke-width="0.8"/>
<line x1="426.04" y1="252.30" x2="426.04" y2="278.60" stroke="#999999" stroke-width="0.9"/>
<line x1="424.84" y1="252.30" x2="427.24" y2="252.30" stroke="#999999" stroke-width="0.8"/>
<line x1="424.84" y1="278.60" x2="427.24" y2="278.60" stroke="#999999" stroke-width="0.8"/>
<line x1="429.87" y1="228.80" x2="429.87" y2="250.40" stroke="#999999" stroke-width="0.9"/>
<line x1="428.67" y1="228.80" x2="431.07" y2="228.80" stroke="#999999" stroke-width="0.8"/>
<line x1="428.67" y1="250.40" x2="431.07" y2="250.40" stroke="#999999" stroke-width="0.8"/>
<line x1="433.70" y1="253.30" x2="433.70" y2="274.60" stroke="#999999" stroke-width="0.9"/>
<line x1="432.50" y1="253.30" x2="434.90" y2="253.30" stroke="#999999" stroke-width="0.8"/>
<line x1="432.50" y1="274.60" x2="434.90" y2="274.60" stroke="#999999" stroke-width="0.8"/>
<line x1="437.53" y1="240.30" x2="437.53" y2="263.40" stroke="#999999" stroke-width="0.9"/>
<line x1="436.33" y1="240.30" x2="438.73" y2="240.30" stroke="#999999" stroke-width="0.8"/>
<line x1="436.33" y1="263.40" x2="438.73" y2="263.40" stroke="#999999" stroke-width="0.8"/>
<line x1="441.36" y1="232.60" x2="441.36" y2="256.20" stroke="#999999" stroke-width="0.9"/>
<line x1="440.16" y1="232.60" x2="442.56" y2="232.60" stroke="#999999" stroke-width="0.8"/>
<line x1="440.16" y1="256.20" x2="442.56" y2="256.20" stroke="#999999" stroke-width="0.8"/>
<line x1="445.19" y1="255.60" x2="445.19" y2="289.00" stroke="#999999" stroke-width="0.9"/>
<line x1="443.99" y1="255.60" x2="446.39" y2="255.60" stroke="#999999" stroke-width="0.8"/>
<line x1="443.99" y1="289.00" x2="446.39" y2="289.00" stroke="#999999" stroke-width="0.8"/>
<line x1="284.33" y1="273.40" x2="284.33" y2="277.80" stroke="#999999" stroke-width="0.9"/>
<line x1="283.13" y1="273.40" x2="285.53" y2="273.40" stroke="#999999" stroke-width="0.8"/>
<line x1="283.13" y1="277.80" x2="285.53" y2="277.80" stroke="#999999" stroke-width="0.8"/>
<line x1="288.16" y1="269.80" x2="288.16" y2="274.20" stroke="#999999" stroke-width="0.9"/>
<line x1="286.96" y1="269.80" x2="289.36" y2="269.80" stroke="#999999" stroke-width="0.8"/>
<line x1="286.96" y1="274.20" x2="289.36" y2="274.20" stroke="#999999" stroke-width="0.8"/>
<line x1="291.99" y1="268.80" x2="291.99" y2="273.20" stroke="#999999" stroke-width="0.9"/>
<line x1="290.79" y1="268.80" x2="293.19" y2="268.80" stroke="#999999" stroke-width="0.8"/>
<line x1="290.79" y1="273.20" x2="293.19" y2="273.20" stroke="#999999" stroke-width="0.8"/>
<line x1="295.82" y1="267.30" x2="295.82" y2="271.70" stroke="#999999" stroke-width="0.9"/>
<line x1="294.62" y1="267.30" x2="297.02" y2="267.30" stroke="#999999" stroke-width="0.8"/>
<line x1="294.62" y1="271.70" x2="297.02" y2="271.70" stroke="#999999" stroke-width="0.8"/>
<line x1="299.65" y1="268.80" x2="299.65" y2="273.20" stroke="#999999" stroke-width="0.9"/>
<line x1="298.45" y1="268.80" x2="300.85" y2="268.80" stroke="#999999" stroke-width="0.8"/>
<line x1="298.45" y1="273.20" x2="300.85" y2="273.20" stroke="#999999" stroke-width="0.8"/>
<line x1="303.48" y1="265.90" x2="303.48" y2="270.30" stroke="#999999" stroke-width="0.9"/>
<line x1="302.28" y1="265.90" x2="304.68" y2="265.90" stroke="#999999" stroke-width="0.8"/>
<line x1="302.28" y1="270.30" x2="304.68" y2="270.30" stroke="#999999" stroke-width="0.8"/>
<line x1="307.31" y1="270.20" x2="307.31" y2="274.60" stroke="#999999" stroke-width="0.9"/>
<line x1="306.11" y1="270.20" x2="308.51" y2="270.20" stroke="#999999" stroke-width="0.8"/>
<line x1="306.11" y1="274.60" x2="308.51" y2="274.60" stroke="#999999" stroke-width="0.8"/>
<line x1="311.14" y1="269.50" x2="311.14" y2="273.90" stroke="#999999" stroke-width="0.9"/>
<line x1="309.94" y1="269.50" x2="312.34" y2="269.50" stroke="#999999" stroke-width="0.8"/>
<line x1="309.94" y1="273.90" x2="312.34" y2="273.90" stroke="#999999" stroke-width="0.8"/>
<line x1="314.97" y1="273.30" x2="314.97" y2="277.70" stroke="#999999" stroke-width="0.9"/>
<line x1="313.77" y1="273.30" x2="316.17" y2="273.30" stroke="#999999" stroke-width="0.8"/>
<line x1="313.77" y1="277.70" x2="316.17" y2="277.70" stroke="#999999" stroke-width="0.8"/>
<line x1="318.80" y1="269.50" x2="318.80" y2="273.90" stroke="#999999" stroke-width="0.9"/>
<line x1="317.60" y1="269.50" x2="320.00" y2="269.50" stroke="#999999" stroke-width="0.8"/>
<line x1="317.60" y1="273.90" x2="320.00" y2="273.90" stroke="#999999" stroke-width="0.8"/>
<line x1="322.63" y1="278.80" x2="322.63" y2="283.20" stroke="#999999" stroke-width="0.9"/>
<line x1="321.43" y1="278.80" x2="323.83" y2="278.80" stroke="#999999" stroke-width="0.8"/>
<line x1="321.43" y1="283.20" x2="323.83" y2="283.20" stroke="#999999" stroke-width="0.8"/>
<line x1="326.46" y1="270.90" x2="326.46" y2="275.30" stroke="#999999" stroke-width="0.9"/>
<line x1="325.26" y1="270.90" x2="327.66" y2="270.90" stroke="#999999" stroke-width="0.8"/>
<line x1="325.26" y1="275.30" x2="327.66" y2="275.30" stroke="#999999" stroke-width="0.8"/>
<line x1="330.29" y1="275.30" x2="330.29" y2="279.70" stroke="#999999" stroke-width="0.9"/>
<line x1="329.09" y1="275.30" x2="331.49" y2="275.30" stroke="#999999" stroke-width="0.8"/>
<line x1="329.09" y1="279.70" x2="331.49" y2="279.70" stroke="#999999" stroke-width="0.8"/>
<line x1="334.12" y1="277.70" x2="334.12" y2="282.10" stroke="#999999" stroke-width="0.9"/>
<line x1="332.92" y1="277.70" x2="335.32" y2="277.70" stroke="#999999" stroke-width="0.8"/>
<line x1="332.92" y1="282.10" x2="335.32" y2="282.10" stroke="#999999" stroke-width="0.8"/>
<line x1="337.95" y1="277.70" x2="337.95" y2="282.10" stroke="#999999" stroke-width="0.9"/>
<line x1="336.75" y1="277.70" x2="339.15" y2="277.70" stroke="#999999" stroke-width="0.8"/>
<line x1="336.75" y1="282.10" x2="339.15" y2="282.10" stroke="#999999" stroke-width="0.8"/>
<line x1="341.78" y1="276.70" x2="341.78" y2="281.10" stroke="#999999" stroke-width="0.9"/>
<line x1="340.58" y1="276.70" x2="342.98" y2="276.70" stroke="#999999" stroke-width="0.8"/>
<line x1="340.58" y1="281.10" x2="342.98" y2="281.10" stroke="#999999" stroke-width="0.8"/>
<line x1="345.61" y1="275.30" x2="345.61" y2="279.70" stroke="#999999" stroke-width="0.9"/>
<line x1="344.41" y1="275.30" x2="346.81" y2="275.30" stroke="#999999" stroke-width="0.8"/>
<line x1="344.41" y1="279.70" x2="346.81" y2="279.70" stroke="#999999" stroke-width="0.8"/>
<line x1="349.44" y1="277.80" x2="349.44" y2="282.20" stroke="#999999" stroke-width="0.9"/>
<line x1="348.24" y1="277.80" x2="350.64" y2="277.80" stroke="#999999" stroke-width="0.8"/>
<line x1="348.24" y1="282.20" x2="350.64" y2="282.20" stroke="#999999" stroke-width="0.8"/>
<line x1="353.27" y1="281.70" x2="353.27" y2="286.10" stroke="#999999" stroke-width="0.9"/>
<line x1="352.07" y1="281.70" x2="354.47" y2="281.70" stroke="#999999" stroke-width="0.8"/>
<line x1="352.07" y1="286.10" x2="354.47" y2="286.10" stroke="#999999" stroke-width="0.8"/>
<line x1="357.10" y1="279.30" x2="357.10" y2="283.70" stroke="#999999" stroke-width="0.9"/>
<line x1="355.90" y1="279.30" x2="358.30" y2="279.30" stroke="#999999" stroke-width="0.8"/>
<line x1="355.90" y1="283.70" x2="358.30" y2="283.70" stroke="#999999" stroke-width="0.8"/>
<line x1="360.93" y1="278.40" x2="360.93" y2="282.80" stroke="#999999" stroke-width="0.9"/>
<line x1="359.73" y1="278.40" x2="362.13" y2="278.40" stroke="#999999" stroke-width="0.8"/>
<line x1="359.73" y1="282.80" x2="362.13" y2="282.80" stroke="#999999" stroke-width="0.8"/>
<line x1="364.76" y1="277.40" x2="364.76" y2="281.80" stroke="#999999" stroke-width="0.9"/>
<line x1="363.56" y1="277.40" x2="365.96" y2="277.40" stroke="#999999" stroke-width="0.8"/>
<line x1="363.56" y1="281.80" x2="365.96" y2="281.80" stroke="#999999" stroke-width="0.8"/>
<line x1="368.59" y1="281.70" x2="368.59" y2="286.10" stroke="#999999" stroke-width="0.9"/>
<line x1="367.39" y1="281.70" x2="369.79" y2="281.70" stroke="#999999" stroke-width="0.8"/>
<line x1="367.39" y1="286.10" x2="369.79" y2="286.10" stroke="#999999" stroke-width="0.8"/>
<line x1="372.42" y1="279.90" x2="372.42" y2="284.30" stroke="#999999" stroke-width="0.9"/>
<line x1="371.22" y1="279.90" x2="373.62" y2="279.90" stroke="#999999" stroke-width="0.8"/>
<line x1="371.22" y1="284.30" x2="373.62" y2="284.30" stroke="#999999" stroke-width="0.8"/>
<line x1="376.25" y1="279.90" x2="376.25" y2="284.30" stroke="#999999" stroke-width="0.9"/>
<line x1="375.05" y1="279.90" x2="377.45" y2="279.90" stroke="#999999" stroke-width="0.8"/>
<line x1="375.05" y1="284.30" x2="377.45" y2="284.30" stroke="#999999" stroke-width="0.8"/>
<line x1="380.08" y1="276.70" x2="380.08" y2="281.10" stroke="#999999" stroke-width="0.9"/>
<line x1="378.88" y1="276.70" x2="381.28" y2="276.70" stroke="#999999" stroke-width="0.8"/>
<line x1="378.88" y1="281.10" x2="381.28" y2="281.10" stroke="#999999" stroke-width="0.8"/>
<line x1="383.91" y1="282.20" x2="383.91" y2="286.60" stroke="#999999" stroke-width="0.9"/>
<line x1="382.71" y1="282.20" x2="385.11" y2="282.20" stroke="#999999" stroke-width="0.8"/>
<line x1="382.71" y1="286.60" x2="385.11" y2="286.60" stroke="#999999" stroke-width="0.8"/>
<line x1="387.74" y1="282.70" x2="387.74" y2="287.10" stroke="#999999" stroke-width="0.9"/>
<line x1="386.54" y1="282.70" x2="388.94" y2="282.70" stroke="#999999" stroke-width="0.8"/>
<line x1="386.54" y1="287.10" x2="388.94" y2="287.10" stroke="#999999" stroke-width="0.8"/>
<line x1="391.57" y1="278.10" x2="391.57" y2="282.50" stroke="#999999" stroke-width="0.9"/>
<line x1="390.37" y1="278.10" x2="392.77" y2="278.10" stroke="#999999" stroke-width="0.8"/>
<line x1="390.37" y1="282.50" x2="392.77" y2="282.50" stroke="#999999" stroke-width="0.8"/>
<line x1="395.40" y1="281.70" x2="395.40" y2="286.10" stroke="#999999" stroke-width="0.9"/>
<line x1="394.20" y1="281.70" x2="396.60" y2="281.70" stroke="#999999" stroke-width="0.8"/>
<line x1="394.20" y1="286.10" x2="396.60" y2="286.10" stroke="#999999" stroke-width="0.8"/>
<line x1="399.23" y1="284.60" x2="399.23" y2="289.00" stroke="#999999" stroke-width="0.9"/>
<line x1="398.03" y1="284.60" x2="400.43" y2="284.60" stroke="#999999" stroke-width="0.8"/>
<line x1="398.03" y1="289.00" x2="400.43" y2="289.00" stroke="#999999" stroke-width="0.8"/>
<line x1="403.06" y1="280.70" x2="403.06" y2="285.10" stroke="#999999" stroke-width="0.9"/>
<line x1="401.86" y1="280.70" x2="404.26" y2="280.70" stroke="#999999" stroke-width="0.8"/>
<line x1="401.86" y1="285.10" x2="404.26" y2="285.10" stroke="#999999" stroke-width="0.8"/>
<line x1="406.89" y1="279.30" x2="406.89" y2="283.70" stroke="#999999" stroke-width="0.9"/>
<line x1="405.69" y1="279.30" x2="408.09" y2="279.30" stroke="#999999" stroke-width="0.8"/>
<line x1="405.69" y1="283.70" x2="408.09" y2="283.70" stroke="#999999" stroke-width="0.8"/>
<line x1="410.72" y1="282.20" x2="410.72" y2="286.60" stroke="#999999" stroke-width="0.9"/>
<line x1="409.52" y1="282.20" x2="411.92" y2="282.20" stroke="#999999" stroke-width="0.8"/>
<line x1="409.52" y1="286.60" x2="411.92" y2="286.60" stroke="#999999" stroke-width="0.8"/>
<line x1="414.55" y1="281.30" x2="414.55" y2="285.70" stroke="#999999" stroke-width="0.9"/>
<line x1="413.35" y1="281.30" x2="415.75" y2="281.30" stroke="#999999" stroke-width="0.8"/>
<line x1="413.35" y1="285.70" x2="415.75" y2="285.70" stroke="#999999" stroke-width="0.8"/>
<line x1="418.38" y1="280.70" x2="418.38" y2="285.10" stroke="#999999" stroke-width="0.9"/>
<line x1="417.18" y1="280.70" x2="419.58" y2="280.70" stroke="#999999" stroke-width="0.8"/>
<line x1="417.18" y1="285.10" x2="419.58" y2="285.10" stroke="#999999" stroke-width="0.8"/>
<line x1="422.21" y1="281.70" x2="422.21" y2="286.10" stroke="#999999" stroke-width="0.9"/>
<line x1="421.01" y1="281.70" x2="423.41" y2="281.70" stroke="#999999" stroke-width="0.8"/>
<line x1="421.01" y1="286.10" x2="423.41" y2="286.10" stroke="#999999" stroke-width="0.8"/>
<line x1="426.04" y1="278.80" x2="426.04" y2="283.20" stroke="#999999" stroke-width="0.9"/>
<line x1="424.84" y1="278.80" x2="427.24" y2="278.80" stroke="#999999" stroke-width="0.8"/>
<line x1="424.84" y1="283.20" x2="427.24" y2="283.20" stroke="#999999" stroke-width="0.8"/>
<line x1="429.87" y1="279.90" x2="429.87" y2="284.30" stroke="#999999" stroke-width="0.9"/>
<line x1="428.67" y1="279.90" x2="431.07" y2="279.90" stroke="#999999" stroke-width="0.8"/>
<line x1="428.67" y1="284.30" x2="431.07" y2="284.30" stroke="#999999" stroke-width="0.8"/>
<line x1="433.70" y1="278.10" x2="433.70" y2="282.50" stroke="#999999" stroke-width="0.9"/>
<line x1="432.50" y1="278.10" x2="434.90" y2="278.10" stroke="#999999" stroke-width="0.8"/>
<line x1="432.50" y1="282.50" x2="434.90" y2="282.50" stroke="#999999" stroke-width="0.8"/>
<line x1="437.53" y1="276.00" x2="437.53" y2="280.40" stroke="#999999" stroke-width="0.9"/>
<line x1="436.33" y1="276.00" x2="438.73" y2="276.00" stroke="#999999" stroke-width="0.8"/>
<line x1="436.33" y1="280.40" x2="438.73" y2="280.40" stroke="#999999" stroke-width="0.8"/>
<line x1="441.36" y1="275.00" x2="441.36" y2="279.40" stroke="#999999" stroke-width="0.9"/>
<line x1="440.16" y1="275.00" x2="442.56" y2="275.00" stroke="#999999" stroke-width="0.8"/>
<line x1="440.16" y1="279.40" x2="442.56" y2="279.40" stroke="#999999" stroke-width="0.8"/>
<line x1="445.19" y1="277.80" x2="445.19" y2="282.20" stroke="#999999" stroke-width="0.9"/>
<line x1="443.99" y1="277.80" x2="446.39" y2="277.80" stroke="#999999" stroke-width="0.8"/>
<line x1="443.99" y1="282.20" x2="446.39" y2="282.20" stroke="#999999" stroke-width="0.8"/>
<polyline points="284.33,275.60 288.16,272.00 291.99,271.00 295.82,269.50 299.65,271.00 303.48,268.10 307.31,272.40 311.14,271.70 314.97,275.50 318.80,271.70 322.63,281.00 326.46,273.10 330.29,277.50 334.12,279.90 337.95,279.90 341.78,278.90 345.61,277.50 349.44,280.00 353.27,283.90 357.10,281.50 360.93,280.60 364.76,279.60 368.59,283.90 372.42,282.10 376.25,282.10 380.08,278.90 383.91,284.40 387.74,284.90 391.57,280.30 395.40,283.90 399.23,286.80 403.06,282.90 406.89,281.50 410.72,284.40 414.55,283.50 418.38,282.90 422.21,283.90 426.04,281.00 429.87,282.10 433.70,280.30 437.53,278.20 441.36,277.20 445.19,280.00" fill="none" stroke="#1e8c3c" stroke-width="1.25"/>
<circle cx="284.33" cy="275.60" r="1.4" fill="#1e8c3c"/>
<circle cx="288.16" cy="272.00" r="1.4" fill="#1e8c3c"/>
<circle cx="291.99" cy="271.00" r="1.4" fill="#1e8c3c"/>
<circle cx="295.82" cy="269.50" r="1.4" fill="#1e8c3c"/>
<circle cx="299.65" cy="271.00" r="1.4" fill="#1e8c3c"/>
<circle cx="303.48" cy="268.10" r="1.4" fill="#1e8c3c"/>
<circle cx="307.31" cy="272.40" r="1.4" fill="#1e8c3c"/>
<circle cx="311.14" cy="271.70" r="1.4" fill="#1e8c3c"/>
<circle cx="314.97" cy="275.50" r="1.4" fill="#1e8c3c"/>
<circle cx="318.80" cy="271.70" r="1.4" fill="#1e8c3c"/>
<circle cx="322.63" cy="281.00" r="1.4" fill="#1e8c3c"/>
<circle cx="326.46" cy="273.10" r="1.4" fill="#1e8c3c"/>
<circle cx="330.29" cy="277.50" r="1.4" fill="#1e8c3c"/>
<circle cx="334.12" cy="279.90" r="1.4" fill="#1e8c3c"/>
<circle cx="337.95" cy="279.90" r="1.4" fill="#1e8c3c"/>
<circle cx="341.78" cy="278.90" r="1.4" fill="#1e8c3c"/>
<circle cx="345.61" cy="277.50" r="1.4" fill="#1e8c3c"/>
<circle cx="349.44" cy="280.00" r="1.4" fill="#1e8c3c"/>
<circle cx="353.27" cy="283.90" r="1.4" fill="#1e8c3c"/>
<circle cx="357.10" cy="281.50" r="1.4" fill="#1e8c3c"/>
<circle cx="360.93" cy="280.60" r="1.4" fill="#1e8c3c"/>
<circle cx="364.76" cy="279.60" r="1.4" fill="#1e8c3c"/>
<circle cx="368.59" cy="283.90" r="1.4" fill="#1e8c3c"/>
<circle cx="372.42" cy="282.10" r="1.4" fill="#1e8c3c"/>
<circle cx="376.25" cy="282.10" r="1.4" fill="#1e8c3c"/>
<circle cx="380.08" cy="278.90" r="1.4" fill="#1e8c3c"/>
<circle cx="383.91" cy="284.40" r="1.4" fill="#1e8c3c"/>
<circle cx="387.74" cy="284.90" r="1.4" fill="#1e8c3c"/>
<circle cx="391.57" cy="280.30" r="1.4" fill="#1e8c3c"/>
<circle cx="395.40" cy="283.90" r="1.4" fill="#1e8c3c"/>
<circle cx="399.23" cy="286.80" r="1.4" fill="#1e8c3c"/>
<circle cx="403.06" cy="282.90" r="1.4" fill="#1e8c3c"/>
<circle cx="406.89" cy="281.50" r="1.4" fill="#1e8c3c"/>
<circle cx="410.72" cy="284.40" r="1.4" fill="#1e8c3c"/>
<circle cx="414.55" cy="283.50" r="1.4" fill="#1e8c3c"/>
<circle cx="418.38" cy="282.90" r="1.4" fill="#1e8c3c"/>
<circle cx="422.21" cy="283.90" r="1.4" fill="#1e8c3c"/>
<circle cx="426.04" cy="281.00" r="1.4" fill="#1e8c3c"/>
<circle cx="429.87" cy="282.10" r="1.4" fill="#1e8c3c"/>
<circle cx="433.70" cy="280.30" r="1.4" fill="#1e8c3c"/>
<circle cx="437.53" cy="278.20" r="1.4" fill="#1e8c3c"/>
<circle cx="441.36" cy="277.20" r="1.4" fill="#1e8c3c"/>
<circle cx="445.19" cy="280.00" r="1.4" fill="#1e8c3c"/>
<polyline points="284.33,206.90 288.16,208.70 291.99,208.10 295.82,243.60 299.65,225.70 303.48,228.50 307.31,242.60 311.14,227.80 314.97,223.50 318.80,234.30 322.63,243.60 326.46,254.10 330.29,256.20 334.12,227.10 337.95,240.00 341.78,224.50 345.61,248.00 349.44,257.60 353.27,231.70 357.10,236.40 360.93,228.50 364.76,262.30 368.59,252.30 372.42,253.70 376.25,236.90 380.08,245.80 383.91,265.80 387.74,276.30 391.57,268.10 395.40,249.00 399.23,237.20 403.06,263.10 406.89,240.30 410.72,258.50 414.55,228.50 418.38,254.40 422.21,261.60 426.04,267.40 429.87,239.80 433.70,264.20 437.53,251.60 441.36,244.40 445.19,272.40" fill="none" stroke="#3d4ab6" stroke-width="1.1"/>
<circle cx="284.33" cy="206.90" r="1.2" fill="#3d4ab6"/>
<circle cx="288.16" cy="208.70" r="1.2" fill="#3d4ab6"/>
<circle cx="291.99" cy="208.10" r="1.2" fill="#3d4ab6"/>
<circle cx="295.82" cy="243.60" r="1.2" fill="#3d4ab6"/>
<circle cx="299.65" cy="225.70" r="1.2" fill="#3d4ab6"/>
<circle cx="303.48" cy="228.50" r="1.2" fill="#3d4ab6"/>
<circle cx="307.31" cy="242.60" r="1.2" fill="#3d4ab6"/>
<circle cx="311.14" cy="227.80" r="1.2" fill="#3d4ab6"/>
<circle cx="314.97" cy="223.50" r="1.2" fill="#3d4ab6"/>
<circle cx="318.80" cy="234.30" r="1.2" fill="#3d4ab6"/>
<circle cx="322.63" cy="243.60" r="1.2" fill="#3d4ab6"/>
<circle cx="326.46" cy="254.10" r="1.2" fill="#3d4ab6"/>
<circle cx="330.29" cy="256.20" r="1.2" fill="#3d4ab6"/>
<circle cx="334.12" cy="227.10" r="1.2" fill="#3d4ab6"/>
<circle cx="337.95" cy="240.00" r="1.2" fill="#3d4ab6"/>
<circle cx="341.78" cy="224.50" r="1.2" fill="#3d4ab6"/>
<circle cx="345.61" cy="248.00" r="1.2" fill="#3d4ab6"/>
<circle cx="349.44" cy="257.60" r="1.2" fill="#3d4ab6"/>
<circle cx="353.27" cy="231.70" r="1.2" fill="#3d4ab6"/>
<circle cx="357.10" cy="236.40" r="1.2" fill="#3d4ab6"/>
<circle cx="360.93" cy="228.50" r="1.2" fill="#3d4ab6"/>
<circle cx="364.76" cy="262.30" r="1.2" fill="#3d4ab6"/>
<circle cx="368.59" cy="252.30" r="1.2" fill="#3d4ab6"/>
<circle cx="372.42" cy="253.70" r="1.2" fill="#3d4ab6"/>
<circle cx="376.25" cy="236.90" r="1.2" fill="#3d4ab6"/>
<circle cx="380.08" cy="245.80" r="1.2" fill="#3d4ab6"/>
<circle cx="383.91" cy="265.80" r="1.2" fill="#3d4ab6"/>
<circle cx="387.74" cy="276.30" r="1.2" fill="#3d4ab6"/>
<circle cx="391.57" cy="268.10" r="1.2" fill="#3d4ab6"/>
<circle cx="395.40" cy="249.00" r="1.2" fill="#3d4ab6"/>
<circle cx="399.23" cy="237.20" r="1.2" fill="#3d4ab6"/>
<circle cx="403.06" cy="263.10" r="1.2" fill="#3d4ab6"/>
<circle cx="406.89" cy="240.30" r="1.2" fill="#3d4ab6"/>
<circle cx="410.72" cy="258.50" r="1.2" fill="#3d4ab6"/>
<circle cx="414.55" cy="228.50" r="1.2" fill="#3d4ab6"/>
<circle cx="418.38" cy="254.40" r="1.2" fill="#3d4ab6"/>
<circle cx="422.21" cy="261.60" r="1.2" fill="#3d4ab6"/>
<circle cx="426.04" cy="267.40" r="1.2" fill="#3d4ab6"/>
<circle cx="429.87" cy="239.80" r="1.2" fill="#3d4ab6"/>
<circle cx="433.70" cy="264.20" r="1.2" fill="#3d4ab6"/>
<circle cx="437.53" cy="251.60" r="1.2" fill="#3d4ab6"/>
<circle cx="441.36" cy="244.40" r="1.2" fill="#3d4ab6"/>
<circle cx="445.19" cy="272.40" r="1.2" fill="#3d4ab6"/>
<rect x="276.50" y="191.60" width="177.00" height="114.90" fill="none" stroke="#000" stroke-width="1"/>
<line x1="274.30" y1="294.70" x2="276.50" y2="294.70" stroke="#000" stroke-width="1"/>
<text x="260.41" y="297.60" font-size="9.2" fill="#000" textLength="11.93" lengthAdjust="spacingAndGlyphs" stroke="#000" stroke-width="0.25">1.0</text>
<line x1="274.30" y1="271.20" x2="276.50" y2="271.20" stroke="#000" stroke-width="1"/>
<text x="260.41" y="274.10" font-size="9.2" fill="#000" textLength="11.93" lengthAdjust="spacingAndGlyphs" stroke="#000" stroke-width="0.25">1.5</text>
<line x1="274.30" y1="247.70" x2="276.50" y2="247.70" stroke="#000" stroke-width="1"/>
<text x="260.68" y="250.60" font-size="9.2" fill="#000" textLength="11.66" lengthAdjust="spacingAndGlyphs" stroke="#000" stroke-width="0.25">2.0</text>
<line x1="274.30" y1="224.20" x2="276.50" y2="224.20" stroke="#000" stroke-width="1"/>
<text x="260.68" y="227.10" font-size="9.2" fill="#000" textLength="11.66" lengthAdjust="spacingAndGlyphs" stroke="#000" stroke-width="0.25">2.5</text>
<line x1="274.30" y1="200.70" x2="276.50" y2="200.70" stroke="#000" stroke-width="1"/>
<text x="260.77" y="203.60" font-size="9.2" fill="#000" textLength="11.57" lengthAdjust="spacingAndGlyphs" stroke="#000" stroke-width="0.25">3.0</text>
<line x1="280.50" y1="306.50" x2="280.50" y2="308.70" stroke="#000" stroke-width="0.9"/>
<text x="277.99" y="316.50" font-size="9.2" fill="#000" textLength="4.98" lengthAdjust="spacingAndGlyphs" stroke="#000" stroke-width="0.25">0</text>
<line x1="318.80" y1="306.50" x2="318.80" y2="308.70" stroke="#000" stroke-width="0.9"/>
<text x="313.81" y="316.50" font-size="9.2" fill="#000" textLength="9.66" lengthAdjust="spacingAndGlyphs" stroke="#000" stroke-width="0.25">10</text>
<line x1="357.10" y1="306.50" x2="357.10" y2="308.70" stroke="#000" stroke-width="0.9"/>
<text x="352.38" y="316.50" font-size="9.2" fill="#000" textLength="9.38" lengthAdjust="spacingAndGlyphs" stroke="#000" stroke-width="0.25">20</text>
<line x1="395.40" y1="306.50" x2="395.40" y2="308.70" stroke="#000" stroke-width="0.9"/>
<text x="390.77" y="316.50" font-size="9.2" fill="#000" textLength="9.29" lengthAdjust="spacingAndGlyphs" stroke="#000" stroke-width="0.25">30</text>
<line x1="433.70" y1="306.50" x2="433.70" y2="308.70" stroke="#000" stroke-width="0.9"/>
<text x="429.24" y="316.50" font-size="9.2" fill="#000" textLength="9.11" lengthAdjust="spacingAndGlyphs" stroke="#000" stroke-width="0.25">40</text>
<text x="0" y="0" font-size="10.5" fill="#000" font-weight="bold" stroke="#000" stroke-width="0.25" textLength="87.85" lengthAdjust="spacingAndGlyphs" transform="translate(255.70,290.24) rotate(-90)">mean enrichment</text>
<text x="316.56" y="326.70" font-size="10.5" fill="#000" font-weight="bold" stroke="#000" stroke-width="0.25" textLength="96.04" lengthAdjust="spacingAndGlyphs">motif start position</text>
<line x1="507.50" y1="295.30" x2="684.50" y2="295.30" stroke="#e13228" stroke-width="1.1"/>
<line x1="515.94" y1="227.70" x2="515.94" y2="255.90" stroke="#999999" stroke-width="0.9"/>
<line x1="514.74" y1="227.70" x2="517.14" y2="227.70" stroke="#999999" stroke-width="0.8"/>
<line x1="514.74" y1="255.90" x2="517.14" y2="255.90" stroke="#999999" stroke-width="0.8"/>
<line x1="519.84" y1="227.30" x2="519.84" y2="255.10" stroke="#999999" stroke-width="0.9"/>
<line x1="518.64" y1="227.30" x2="521.04" y2="227.30" stroke="#999999" stroke-width="0.8"/>
<line x1="518.64" y1="255.10" x2="521.04" y2="255.10" stroke="#999999" stroke-width="0.8"/>
<line x1="523.73" y1="196.90" x2="523.73" y2="221.30" stroke="#999999" stroke-width="0.9"/>
<line x1="522.53" y1="196.90" x2="524.93" y2="196.90" stroke="#999999" stroke-width="0.8"/>
<line x1="522.53" y1="221.30" x2="524.93" y2="221.30" stroke="#999999" stroke-width="0.8"/>
<line x1="527.63" y1="215.40" x2="527.63" y2="242.40" stroke="#999999" stroke-width="0.9"/>
<line x1="526.43" y1="215.40" x2="528.83" y2="215.40" stroke="#999999" stroke-width="0.8"/>
<line x1="526.43" y1="242.40" x2="528.83" y2="242.40" stroke="#999999" stroke-width="0.8"/>
<line x1="531.52" y1="217.80" x2="531.52" y2="242.40" stroke="#999999" stroke-width="0.9"/>
<line x1="530.32" y1="217.80" x2="532.73" y2="217.80" stroke="#999999" stroke-width="0.8"/>
<line x1="530.32" y1="242.40" x2="532.73" y2="242.40" stroke="#999999" stroke-width="0.8"/>
<line x1="535.42" y1="219.10" x2="535.42" y2="242.40" stroke="#999999" stroke-width="0.9"/>
<line x1="534.22" y1="219.10" x2="536.62" y2="219.10" stroke="#999999" stroke-width="0.8"/>
<line x1="534.22" y1="242.40" x2="536.62" y2="242.40" stroke="#999999" stroke-width="0.8"/>
<line x1="539.31" y1="259.90" x2="539.31" y2="286.40" stroke="#999999" stroke-width="0.9"/>
<line x1="538.11" y1="259.90" x2="540.51" y2="259.90" stroke="#999999" stroke-width="0.8"/>
<line x1="538.11" y1="286.40" x2="540.51" y2="286.40" stroke="#999999" stroke-width="0.8"/>
<line x1="543.21" y1="200.00" x2="543.21" y2="223.80" stroke="#999999" stroke-width="0.9"/>
<line x1="542.01" y1="200.00" x2="544.41" y2="200.00" stroke="#999999" stroke-width="0.8"/>
<line x1="542.01" y1="223.80" x2="544.41" y2="223.80" stroke="#999999" stroke-width="0.8"/>
<line x1="547.10" y1="217.50" x2="547.10" y2="245.10" stroke="#999999" stroke-width="0.9"/>
<line x1="545.90" y1="217.50" x2="548.30" y2="217.50" stroke="#999999" stroke-width="0.8"/>
<line x1="545.90" y1="245.10" x2="548.30" y2="245.10" stroke="#999999" stroke-width="0.8"/>
<line x1="551.00" y1="235.60" x2="551.00" y2="265.00" stroke="#999999" stroke-width="0.9"/>
<line x1="549.80" y1="235.60" x2="552.20" y2="235.60" stroke="#999999" stroke-width="0.8"/>
<line x1="549.80" y1="265.00" x2="552.20" y2="265.00" stroke="#999999" stroke-width="0.8"/>
<line x1="554.89" y1="225.40" x2="554.89" y2="253.50" stroke="#999999" stroke-width="0.9"/>
<line x1="553.69" y1="225.40" x2="556.10" y2="225.40" stroke="#999999" stroke-width="0.8"/>
<line x1="553.69" y1="253.50" x2="556.10" y2="253.50" stroke="#999999" stroke-width="0.8"/>
<line x1="558.79" y1="236.50" x2="558.79" y2="267.00" stroke="#999999" stroke-width="0.9"/>
<line x1="557.59" y1="236.50" x2="559.99" y2="236.50" stroke="#999999" stroke-width="0.8"/>
<line x1="557.59" y1="267.00" x2="559.99" y2="267.00" stroke="#999999" stroke-width="0.8"/>
<line x1="562.68" y1="210.70" x2="562.68" y2="237.20" stroke="#999999" stroke-width="0.9"/>
<line x1="561.48" y1="210.70" x2="563.88" y2="210.70" stroke="#999999" stroke-width="0.8"/>
<line x1="561.48" y1="237.20" x2="563.88" y2="237.20" stroke="#999999" stroke-width="0.8"/>
<line x1="566.58" y1="219.40" x2="566.58" y2="248.00" stroke="#999999" stroke-width="0.9"/>
<line x1="565.38" y1="219.40" x2="567.78" y2="219.40" stroke="#999999" stroke-width="0.8"/>
<line x1="565.38" y1="248.00" x2="567.78" y2="248.00" stroke="#999999" stroke-width="0.8"/>
<line x1="570.47" y1="232.90" x2="570.47" y2="260.30" stroke="#999999" stroke-width="0.9"/>
<line x1="569.27" y1="232.90" x2="571.67" y2="232.90" stroke="#999999" stroke-width="0.8"/>
<line x1="569.27" y1="260.30" x2="571.67" y2="260.30" stroke="#999999" stroke-width="0.8"/>
<line x1="574.37" y1="246.40" x2="574.37" y2="277.30" stroke="#999999" stroke-width="0.9"/>
<line x1="573.17" y1="246.40" x2="575.57" y2="246.40" stroke="#999999" stroke-width="0.8"/>
<line x1="573.17" y1="277.30" x2="575.57" y2="277.30" stroke="#999999" stroke-width="0.8"/>
<line x1="578.26" y1="235.60" x2="578.26" y2="265.40" stroke="#999999" stroke-width="0.9"/>
<line x1="577.06" y1="235.60" x2="579.47" y2="235.60" stroke="#999999" stroke-width="0.8"/>
<line x1="577.06" y1="265.40" x2="579.47" y2="265.40" stroke="#999999" stroke-width="0.8"/>
<line x1="582.16" y1="225.20" x2="582.16" y2="249.90" stroke="#999999" stroke-width="0.9"/>
<line x1="580.96" y1="225.20" x2="583.36" y2="225.20" stroke="#999999" stroke-width="0.8"/>
<line x1="580.96" y1="249.90" x2="583.36" y2="249.90" stroke="#999999" stroke-width="0.8"/>
<line x1="586.05" y1="238.80" x2="586.05" y2="266.70" stroke="#999999" stroke-width="0.9"/>
<line x1="584.85" y1="238.80" x2="587.25" y2="238.80" stroke="#999999" stroke-width="0.8"/>
<line x1="584.85" y1="266.70" x2="587.25" y2="266.70" stroke="#999999" stroke-width="0.8"/>
<line x1="589.95" y1="262.60" x2="589.95" y2="293.70" stroke="#999999" stroke-width="0.9"/>
<line x1="588.75" y1="262.60" x2="591.15" y2="262.60" stroke="#999999" stroke-width="0.8"/>
<line x1="588.75" y1="293.70" x2="591.15" y2="293.70" stroke="#999999" stroke-width="0.8"/>
<line x1="593.84" y1="240.00" x2="593.84" y2="265.40" stroke="#999999" stroke-width="0.9"/>
<line x1="592.64" y1="240.00" x2="595.04" y2="240.00" stroke="#999999" stroke-width="0.8"/>
<line x1="592.64" y1="265.40" x2="595.04" y2="265.40" stroke="#999999" stroke-width="0.8"/>
<line x1="597.74" y1="239.20" x2="597.74" y2="269.90" stroke="#999999" stroke-width="0.9"/>
<line x1="596.54" y1="239.20" x2="598.94" y2="239.20" stroke="#999999" stroke-width="0.8"/>
<line x1="596.54" y1="269.90" x2="598.94" y2="269.90" stroke="#999999" stroke-width="0.8"/>
<line x1="601.63" y1="255.90" x2="601.63" y2="281.00" stroke="#999999" stroke-width="0.9"/>
<line x1="600.43" y1="255.90" x2="602.84" y2="255.90" stroke="#999999" stroke-width="0.8"/>
<line x1="600.43" y1="281.00" x2="602.84" y2="281.00" stroke="#999999" stroke-width="0.8"/>
<line x1="605.53" y1="242.40" x2="605.53" y2="271.80" stroke="#999999" stroke-width="0.9"/>
<line x1="604.33" y1="242.40" x2="606.73" y2="242.40" stroke="#999999" stroke-width="0.8"/>
<line x1="604.33" y1="271.80" x2="606.73" y2="271.80" stroke="#999999" stroke-width="0.8"/>
<line x1="609.42" y1="248.00" x2="609.42" y2="278.90" stroke="#999999" stroke-width="0.9"/>
<line x1="608.22" y1="248.00" x2="610.62" y2="248.00" stroke="#999999" stroke-width="0.8"/>
<line x1="608.22" y1="278.90" x2="610.62" y2="278.90" stroke="#999999" stroke-width="0.8"/>
<line x1="613.32" y1="229.20" x2="613.32" y2="264.00" stroke="#999999" stroke-width="0.9"/>
<line x1="612.12" y1="229.20" x2="614.52" y2="229.20" stroke="#999999" stroke-width="0.8"/>
<line x1="612.12" y1="264.00" x2="614.52" y2="264.00" stroke="#999999" stroke-width="0.8"/>
<line x1="617.21" y1="214.30" x2="617.21" y2="247.70" stroke="#999999" stroke-width="0.9"/>
<line x1="616.01" y1="214.30" x2="618.41" y2="214.30" stroke="#999999" stroke-width="0.8"/>
<line x1="616.01" y1="247.70" x2="618.41" y2="247.70" stroke="#999999" stroke-width="0.8"/>
<line x1="621.11" y1="256.70" x2="621.11" y2="285.30" stroke="#999999" stroke-width="0.9"/>
<line x1="619.91" y1="256.70" x2="622.31" y2="256.70" stroke="#999999" stroke-width="0.8"/>
<line x1="619.91" y1="285.30" x2="622.31" y2="285.30" stroke="#999999" stroke-width="0.8"/>
<line x1="625.00" y1="244.50" x2="625.00" y2="279.40" stroke="#999999" stroke-width="0.9"/>
<line x1="623.80" y1="244.50" x2="626.21" y2="244.50" stroke="#999999" stroke-width="0.8"/>
<line x1="623.80" y1="279.40" x2="626.21" y2="279.40" stroke="#999999" stroke-width="0.8"/>
<line x1="628.90" y1="251.50" x2="628.90" y2="286.10" stroke="#999999" stroke-width="0.9"/>
<line x1="627.70" y1="251.50" x2="630.10" y2="251.50" stroke="#999999" stroke-width="0.8"/>
<line x1="627.70" y1="286.10" x2="630.10" y2="286.10" stroke="#999999" stroke-width="0.8"/>
<line x1="632.79" y1="238.10" x2="632.79" y2="269.90" stroke="#999999" stroke-width="0.9"/>
<line x1="631.59" y1="238.10" x2="634.00" y2="238.10" stroke="#999999" stroke-width="0.8"/>
<line x1="631.59" y1="269.90" x2="634.00" y2="269.90" stroke="#999999" stroke-width="0.8"/>
<line x1="636.69" y1="239.20" x2="636.69" y2="268.60" stroke="#999999" stroke-width="0.9"/>
<line x1="635.49" y1="239.20" x2="637.89" y2="239.20" stroke="#999999" stroke-width="0.8"/>
<line x1="635.49" y1="268.60" x2="637.89" y2="268.60" stroke="#999999" stroke-width="0.8"/>
<line x1="640.58" y1="226.50" x2="640.58" y2="259.90" stroke="#999999" stroke-width="0.9"/>
<line x1="639.38" y1="226.50" x2="641.78" y2="226.50" stroke="#999999" stroke-width="0.8"/>
<line x1="639.38" y1="259.90" x2="641.78" y2="259.90" stroke="#999999" stroke-width="0.8"/>
<line x1="644.48" y1="257.50" x2="644.48" y2="290.50" stroke="#999999" stroke-width="0.9"/>
<line x1="643.28" y1="257.50" x2="645.68" y2="257.50" stroke="#999999" stroke-width="0.8"/>
<line x1="643.28" y1="290.50" x2="645.68" y2="290.50" stroke="#999999" stroke-width="0.8"/>
<line x1="648.38" y1="246.10" x2="648.38" y2="283.70" stroke="#999999" stroke-width="0.9"/>
<line x1="647.17" y1="246.10" x2="649.58" y2="246.10" stroke="#999999" stroke-width="0.8"/>
<line x1="647.17" y1="283.70" x2="649.58" y2="283.70" stroke="#999999" stroke-width="0.8"/>
<line x1="652.27" y1="243.20" x2="652.27" y2="279.70" stroke="#999999" stroke-width="0.9"/>
<line x1="651.07" y1="243.20" x2="653.47" y2="243.20" stroke="#999999" stroke-width="0.8"/>
<line x1="651.07" y1="279.70" x2="653.47" y2="279.70" stroke="#999999" stroke-width="0.8"/>
<line x1="656.16" y1="259.90" x2="656.16" y2="301.60" stroke="#999999" stroke-width="0.9"/>
<line x1="654.96" y1="259.90" x2="657.37" y2="259.90" stroke="#999999" stroke-width="0.8"/>
<line x1="654.96" y1="301.60" x2="657.37" y2="301.60" stroke="#999999" stroke-width="0.8"/>
<line x1="660.06" y1="255.10" x2="660.06" y2="290.50" stroke="#999999" stroke-width="0.9"/>
<line x1="658.86" y1="255.10" x2="661.26" y2="255.10" stroke="#999999" stroke-width="0.8"/>
<line x1="658.86" y1="290.50" x2="661.26" y2="290.50" stroke="#999999" stroke-width="0.8"/>
<line x1="663.95" y1="243.20" x2="663.95" y2="268.00" stroke="#999999" stroke-width="0.9"/>
<line x1="662.75" y1="243.20" x2="665.15" y2="243.20" stroke="#999999" stroke-width="0.8"/>
<line x1="662.75" y1="268.00" x2="665.15" y2="268.00" stroke="#999999" stroke-width="0.8"/>
<line x1="667.85" y1="239.20" x2="667.85" y2="268.00" stroke="#999999" stroke-width="0.9"/>
<line x1="666.65" y1="239.20" x2="669.05" y2="239.20" stroke="#999999" stroke-width="0.8"/>
<line x1="666.65" y1="268.00" x2="669.05" y2="268.00" stroke="#999999" stroke-width="0.8"/>
<line x1="671.74" y1="261.50" x2="671.74" y2="289.60" stroke="#999999" stroke-width="0.9"/>
<line x1="670.54" y1="261.50" x2="672.94" y2="261.50" stroke="#999999" stroke-width="0.8"/>
<line x1="670.54" y1="289.60" x2="672.94" y2="289.60" stroke="#999999" stroke-width="0.8"/>
<line x1="675.64" y1="252.40" x2="675.64" y2="288.40" stroke="#999999" stroke-width="0.9"/>
<line x1="674.44" y1="252.40" x2="676.84" y2="252.40" stroke="#999999" stroke-width="0.8"/>
<line x1="674.44" y1="288.40" x2="676.84" y2="288.40" stroke="#999999" stroke-width="0.8"/>
<line x1="515.94" y1="255.00" x2="515.94" y2="259.40" stroke="#999999" stroke-width="0.9"/>
<line x1="514.74" y1="255.00" x2="517.14" y2="255.00" stroke="#999999" stroke-width="0.8"/>
<line x1="514.74" y1="259.40" x2="517.14" y2="259.40" stroke="#999999" stroke-width="0.8"/>
<line x1="519.84" y1="252.10" x2="519.84" y2="256.50" stroke="#999999" stroke-width="0.9"/>
<line x1="518.64" y1="252.10" x2="521.04" y2="252.10" stroke="#999999" stroke-width="0.8"/>
<line x1="518.64" y1="256.50" x2="521.04" y2="256.50" stroke="#999999" stroke-width="0.8"/>
<line x1="523.73" y1="256.10" x2="523.73" y2="260.50" stroke="#999999" stroke-width="0.9"/>
<line x1="522.53" y1="256.10" x2="524.93" y2="256.10" stroke="#999999" stroke-width="0.8"/>
<line x1="522.53" y1="260.50" x2="524.93" y2="260.50" stroke="#999999" stroke-width="0.8"/>
<line x1="527.63" y1="257.20" x2="527.63" y2="261.60" stroke="#999999" stroke-width="0.9"/>
<line x1="526.43" y1="257.20" x2="528.83" y2="257.20" stroke="#999999" stroke-width="0.8"/>
<line x1="526.43" y1="261.60" x2="528.83" y2="261.60" stroke="#999999" stroke-width="0.8"/>
<line x1="531.52" y1="258.50" x2="531.52" y2="262.90" stroke="#999999" stroke-width="0.9"/>
<line x1="530.32" y1="258.50" x2="532.73" y2="258.50" stroke="#999999" stroke-width="0.8"/>
<line x1="530.32" y1="262.90" x2="532.73" y2="262.90" stroke="#999999" stroke-width="0.8"/>
<line x1="535.42" y1="256.10" x2="535.42" y2="260.50" stroke="#999999" stroke-width="0.9"/>
<line x1="534.22" y1="256.10" x2="536.62" y2="256.10" stroke="#999999" stroke-width="0.8"/>
<line x1="534.22" y1="260.50" x2="536.62" y2="260.50" stroke="#999999" stroke-width="0.8"/>
<line x1="539.31" y1="257.70" x2="539.31" y2="262.10" stroke="#999999" stroke-width="0.9"/>
<line x1="538.11" y1="257.70" x2="540.51" y2="257.70" stroke="#999999" stroke-width="0.8"/>
<line x1="538.11" y1="262.10" x2="540.51" y2="262.10" stroke="#999999" stroke-width="0.8"/>
<line x1="543.21" y1="257.70" x2="543.21" y2="262.10" stroke="#999999" stroke-width="0.9"/>
<line x1="542.01" y1="257.70" x2="544.41" y2="257.70" stroke="#999999" stroke-width="0.8"/>
<line x1="542.01" y1="262.10" x2="544.41" y2="262.10" stroke="#999999" stroke-width="0.8"/>
<line x1="547.10" y1="259.70" x2="547.10" y2="264.10" stroke="#999999" stroke-width="0.9"/>
<line x1="545.90" y1="259.70" x2="548.30" y2="259.70" stroke="#999999" stroke-width="0.8"/>
<line x1="545.90" y1="264.10" x2="548.30" y2="264.10" stroke="#999999" stroke-width="0.8"/>
<line x1="551.00" y1="258.80" x2="551.00" y2="263.20" stroke="#999999" stroke-width="0.9"/>
<line x1="549.80" y1="258.80" x2="552.20" y2="258.80" stroke="#999999" stroke-width="0.8"/>
<line x1="549.80" y1="263.20" x2="552.20" y2="263.20" stroke="#999999" stroke-width="0.8"/>
<line x1="554.89" y1="263.20" x2="554.89" y2="267.60" stroke="#999999" stroke-width="0.9"/>
<line x1="553.69" y1="263.20" x2="556.10" y2="263.20" stroke="#999999" stroke-width="0.8"/>
<line x1="553.69" y1="267.60" x2="556.10" y2="267.60" stroke="#999999" stroke-width="0.8"/>
<line x1="558.79" y1="263.50" x2="558.79" y2="267.90" stroke="#999999" stroke-width="0.9"/>
<line x1="557.59" y1="263.50" x2="559.99" y2="263.50" stroke="#999999" stroke-width="0.8"/>
<line x1="557.59" y1="267.90" x2="559.99" y2="267.90" stroke="#999999" stroke-width="0.8"/>
<line x1="562.68" y1="263.20" x2="562.68" y2="267.60" stroke="#999999" stroke-width="0.9"/>
<line x1="561.48" y1="263.20" x2="563.88" y2="263.20" stroke="#999999" stroke-width="0.8"/>
<line x1="561.48" y1="267.60" x2="563.88" y2="267.60" stroke="#999999" stroke-width="0.8"/>
<line x1="566.58" y1="265.60" x2="566.58" y2="270.00" stroke="#999999" stroke-width="0.9"/>
<line x1="565.38" y1="265.60" x2="567.78" y2="265.60" stroke="#999999" stroke-width="0.8"/>
<line x1="565.38" y1="270.00" x2="567.78" y2="270.00" stroke="#999999" stroke-width="0.8"/>
<line x1="570.47" y1="263.20" x2="570.47" y2="267.60" stroke="#999999" stroke-width="0.9"/>
<line x1="569.27" y1="263.20" x2="571.67" y2="263.20" stroke="#999999" stroke-width="0.8"/>
<line x1="569.27" y1="267.60" x2="571.67" y2="267.60" stroke="#999999" stroke-width="0.8"/>
<line x1="574.37" y1="263.20" x2="574.37" y2="267.60" stroke="#999999" stroke-width="0.9"/>
<line x1="573.17" y1="263.20" x2="575.57" y2="263.20" stroke="#999999" stroke-width="0.8"/>
<line x1="573.17" y1="267.60" x2="575.57" y2="267.60" stroke="#999999" stroke-width="0.8"/>
<line x1="578.26" y1="263.00" x2="578.26" y2="267.40" stroke="#999999" stroke-width="0.9"/>
<line x1="577.06" y1="263.00" x2="579.47" y2="263.00" stroke="#999999" stroke-width="0.8"/>
<line x1="577.06" y1="267.40" x2="579.47" y2="267.40" stroke="#999999" stroke-width="0.8"/>
<line x1="582.16" y1="268.80" x2="582.16" y2="273.20" stroke="#999999" stroke-width="0.9"/>
<line x1="580.96" y1="268.80" x2="583.36" y2="268.80" stroke="#999999" stroke-width="0.8"/>
<line x1="580.96" y1="273.20" x2="583.36" y2="273.20" stroke="#999999" stroke-width="0.8"/>
<line x1="586.05" y1="267.70" x2="586.05" y2="272.10" stroke="#999999" stroke-width="0.9"/>
<line x1="584.85" y1="267.70" x2="587.25" y2="267.70" stroke="#999999" stroke-width="0.8"/>
<line x1="584.85" y1="272.10" x2="587.25" y2="272.10" stroke="#999999" stroke-width="0.8"/>
<line x1="589.95" y1="268.00" x2="589.95" y2="272.40" stroke="#999999" stroke-width="0.9"/>
<line x1="588.75" y1="268.00" x2="591.15" y2="268.00" stroke="#999999" stroke-width="0.8"/>
<line x1="588.75" y1="272.40" x2="591.15" y2="272.40" stroke="#999999" stroke-width="0.8"/>
<line x1="593.84" y1="264.00" x2="593.84" y2="268.40" stroke="#999999" stroke-width="0.9"/>
<line x1="592.64" y1="264.00" x2="595.04" y2="264.00" stroke="#999999" stroke-width="0.8"/>
<line x1="592.64" y1="268.40" x2="595.04" y2="268.40" stroke="#999999" stroke-width="0.8"/>
<line x1="597.74" y1="261.60" x2="597.74" y2="266.00" stroke="#999999" stroke-width="0.9"/>
<line x1="596.54" y1="261.60" x2="598.94" y2="261.60" stroke="#999999" stroke-width="0.8"/>
<line x1="596.54" y1="266.00" x2="598.94" y2="266.00" stroke="#999999" stroke-width="0.8"/>
<line x1="601.63" y1="265.60" x2="601.63" y2="270.00" stroke="#999999" stroke-width="0.9"/>
<line x1="600.43" y1="265.60" x2="602.84" y2="265.60" stroke="#999999" stroke-width="0.8"/>
<line x1="600.43" y1="270.00" x2="602.84" y2="270.00" stroke="#999999" stroke-width="0.8"/>
<line x1="605.53" y1="268.80" x2="605.53" y2="273.20" stroke="#999999" stroke-width="0.9"/>
<line x1="604.33" y1="268.80" x2="606.73" y2="268.80" stroke="#999999" stroke-width="0.8"/>
<line x1="604.33" y1="273.20" x2="606.73" y2="273.20" stroke="#999999" stroke-width="0.8"/>
<line x1="609.42" y1="264.00" x2="609.42" y2="268.40" stroke="#999999" stroke-width="0.9"/>
<line x1="608.22" y1="264.00" x2="610.62" y2="264.00" stroke="#999999" stroke-width="0.8"/>
<line x1="608.22" y1="268.40" x2="610.62" y2="268.40" stroke="#999999" stroke-width="0.8"/>
<line x1="613.32" y1="264.80" x2="613.32" y2="269.20" stroke="#999999" stroke-width="0.9"/>
<line x1="612.12" y1="264.80" x2="614.52" y2="264.80" stroke="#999999" stroke-width="0.8"/>
<line x1="612.12" y1="269.20" x2="614.52" y2="269.20" stroke="#999999" stroke-width="0.8"/>
<line x1="617.21" y1="269.80" x2="617.21" y2="274.20" stroke="#999999" stroke-width="0.9"/>
<line x1="616.01" y1="269.80" x2="618.41" y2="269.80" stroke="#999999" stroke-width="0.8"/>
<line x1="616.01" y1="274.20" x2="618.41" y2="274.20" stroke="#999999" stroke-width="0.8"/>
<line x1="621.11" y1="269.60" x2="621.11" y2="274.00" stroke="#999999" stroke-width="0.9"/>
<line x1="619.91" y1="269.60" x2="622.31" y2="269.60" stroke="#999999" stroke-width="0.8"/>
<line x1="619.91" y1="274.00" x2="622.31" y2="274.00" stroke="#999999" stroke-width="0.8"/>
<line x1="625.00" y1="270.80" x2="625.00" y2="275.20" stroke="#999999" stroke-width="0.9"/>
<line x1="623.80" y1="270.80" x2="626.21" y2="270.80" stroke="#999999" stroke-width="0.8"/>
<line x1="623.80" y1="275.20" x2="626.21" y2="275.20" stroke="#999999" stroke-width="0.8"/>
<line x1="628.90" y1="270.80" x2="628.90" y2="275.20" stroke="#999999" stroke-width="0.9"/>
<line x1="627.70" y1="270.80" x2="630.10" y2="270.80" stroke="#999999" stroke-width="0.8"/>
<line x1="627.70" y1="275.20" x2="630.10" y2="275.20" stroke="#999999" stroke-width="0.8"/>
<line x1="632.79" y1="272.80" x2="632.79" y2="277.20" stroke="#999999" stroke-width="0.9"/>
<line x1="631.59" y1="272.80" x2="634.00" y2="272.80" stroke="#999999" stroke-width="0.8"/>
<line x1="631.59" y1="277.20" x2="634.00" y2="277.20" stroke="#999999" stroke-width="0.8"/>
<line x1="636.69" y1="268.00" x2="636.69" y2="272.40" stroke="#999999" stroke-width="0.9"/>
<line x1="635.49" y1="268.00" x2="637.89" y2="268.00" stroke="#999999" stroke-width="0.8"/>
<line x1="635.49" y1="272.40" x2="637.89" y2="272.40" stroke="#999999" stroke-width="0.8"/>
<line x1="640.58" y1="270.40" x2="640.58" y2="274.80" stroke="#999999" stroke-width="0.9"/>
<line x1="639.38" y1="270.40" x2="641.78" y2="270.40" stroke="#999999" stroke-width="0.8"/>
<line x1="639.38" y1="274.80" x2="641.78" y2="274.80" stroke="#999999" stroke-width="0.8"/>
<line x1="644.48" y1="270.40" x2="644.48" y2="274.80" stroke="#999999" stroke-width="0.9"/>
<line x1="643.28" y1="270.40" x2="645.68" y2="270.40" stroke="#999999" stroke-width="0.8"/>
<line x1="643.28" y1="274.80" x2="645.68" y2="274.80" stroke="#999999" stroke-width="0.8"/>
<line x1="648.38" y1="266.40" x2="648.38" y2="270.80" stroke="#999999" stroke-width="0.9"/>
<line x1="647.17" y1="266.40" x2="649.58" y2="266.40" stroke="#999999" stroke-width="0.8"/>
<line x1="647.17" y1="270.80" x2="649.58" y2="270.80" stroke="#999999" stroke-width="0.8"/>
<line x1="652.27" y1="267.70" x2="652.27" y2="272.10" stroke="#999999" stroke-width="0.9"/>
<line x1="651.07" y1="267.70" x2="653.47" y2="267.70" stroke="#999999" stroke-width="0.8"/>
<line x1="651.07" y1="272.10" x2="653.47" y2="272.10" stroke="#999999" stroke-width="0.8"/>
<line x1="656.16" y1="269.30" x2="656.16" y2="273.70" stroke="#999999" stroke-width="0.9"/>
<line x1="654.96" y1="269.30" x2="657.37" y2="269.30" stroke="#999999" stroke-width="0.8"/>
<line x1="654.96" y1="273.70" x2="657.37" y2="273.70" stroke="#999999" stroke-width="0.8"/>
<line x1="660.06" y1="268.00" x2="660.06" y2="272.40" stroke="#999999" stroke-width="0.9"/>
<line x1="658.86" y1="268.00" x2="661.26" y2="268.00" stroke="#999999" stroke-width="0.8"/>
<line x1="658.86" y1="272.40" x2="661.26" y2="272.40" stroke="#999999" stroke-width="0.8"/>
<line x1="663.95" y1="260.40" x2="663.95" y2="264.80" stroke="#999999" stroke-width="0.9"/>
<line x1="662.75" y1="260.40" x2="665.15" y2="260.40" stroke="#999999" stroke-width="0.8"/>
<line x1="662.75" y1="264.80" x2="665.15" y2="264.80" stroke="#999999" stroke-width="0.8"/>
<line x1="667.85" y1="265.10" x2="667.85" y2="269.50" stroke="#999999" stroke-width="0.9"/>
<line x1="666.65" y1="265.10" x2="669.05" y2="265.10" stroke="#999999" stroke-width="0.8"/>
<line x1="666.65" y1="269.50" x2="669.05" y2="269.50" stroke="#999999" stroke-width="0.8"/>
<line x1="671.74" y1="264.50" x2="671.74" y2="268.90" stroke="#999999" stroke-width="0.9"/>
<line x1="670.54" y1="264.50" x2="672.94" y2="264.50" stroke="#999999" stroke-width="0.8"/>
<line x1="670.54" y1="268.90" x2="672.94" y2="268.90" stroke="#999999" stroke-width="0.8"/>
<line x1="675.64" y1="259.30" x2="675.64" y2="263.70" stroke="#999999" stroke-width="0.9"/>
<line x1="674.44" y1="259.30" x2="676.84" y2="259.30" stroke="#999999" stroke-width="0.8"/>
<line x1="674.44" y1="263.70" x2="676.84" y2="263.70" stroke="#999999" stroke-width="0.8"/>
<polyline points="515.94,257.20 519.84,254.30 523.73,258.30 527.63,259.40 531.52,260.70 535.42,258.30 539.31,259.90 543.21,259.90 547.10,261.90 551.00,261.00 554.89,265.40 558.79,265.70 562.68,265.40 566.58,267.80 570.47,265.40 574.37,265.40 578.26,265.20 582.16,271.00 586.05,269.90 589.95,270.20 593.84,266.20 597.74,263.80 601.63,267.80 605.53,271.00 609.42,266.20 613.32,267.00 617.21,272.00 621.11,271.80 625.00,273.00 628.90,273.00 632.79,275.00 636.69,270.20 640.58,272.60 644.48,272.60 648.38,268.60 652.27,269.90 656.16,271.50 660.06,270.20 663.95,262.60 667.85,267.30 671.74,266.70 675.64,261.50" fill="none" stroke="#1e8c3c" stroke-width="1.25"/>
<circle cx="515.94" cy="257.20" r="1.4" fill="#1e8c3c"/>
<circle cx="519.84" cy="254.30" r="1.4" fill="#1e8c3c"/>
<circle cx="523.73" cy="258.30" r="1.4" fill="#1e8c3c"/>
<circle cx="527.63" cy="259.40" r="1.4" fill="#1e8c3c"/>
<circle cx="531.52" cy="260.70" r="1.4" fill="#1e8c3c"/>
<circle cx="535.42" cy="258.30" r="1.4" fill="#1e8c3c"/>
<circle cx="539.31" cy="259.90" r="1.4" fill="#1e8c3c"/>
<circle cx="543.21" cy="259.90" r="1.4" fill="#1e8c3c"/>
<circle cx="547.10" cy="261.90" r="1.4" fill="#1e8c3c"/>
<circle cx="551.00" cy="261.00" r="1.4" fill="#1e8c3c"/>
<circle cx="554.89" cy="265.40" r="1.4" fill="#1e8c3c"/>
<circle cx="558.79" cy="265.70" r="1.4" fill="#1e8c3c"/>
<circle cx="562.68" cy="265.40" r="1.4" fill="#1e8c3c"/>
<circle cx="566.58" cy="267.80" r="1.4" fill="#1e8c3c"/>
<circle cx="570.47" cy="265.40" r="1.4" fill="#1e8c3c"/>
<circle cx="574.37" cy="265.40" r="1.4" fill="#1e8c3c"/>
<circle cx="578.26" cy="265.20" r="1.4" fill="#1e8c3c"/>
<circle cx="582.16" cy="271.00" r="1.4" fill="#1e8c3c"/>
<circle cx="586.05" cy="269.90" r="1.4" fill="#1e8c3c"/>
<circle cx="589.95" cy="270.20" r="1.4" fill="#1e8c3c"/>
<circle cx="593.84" cy="266.20" r="1.4" fill="#1e8c3c"/>
<circle cx="597.74" cy="263.80" r="1.4" fill="#1e8c3c"/>
<circle cx="601.63" cy="267.80" r="1.4" fill="#1e8c3c"/>
<circle cx="605.53" cy="271.00" r="1.4" fill="#1e8c3c"/>
<circle cx="609.42" cy="266.20" r="1.4" fill="#1e8c3c"/>
<circle cx="613.32" cy="267.00" r="1.4" fill="#1e8c3c"/>
<circle cx="617.21" cy="272.00" r="1.4" fill="#1e8c3c"/>
<circle cx="621.11" cy="271.80" r="1.4" fill="#1e8c3c"/>
<circle cx="625.00" cy="273.00" r="1.4" fill="#1e8c3c"/>
<circle cx="628.90" cy="273.00" r="1.4" fill="#1e8c3c"/>
<circle cx="632.79" cy="275.00" r="1.4" fill="#1e8c3c"/>
<circle cx="636.69" cy="270.20" r="1.4" fill="#1e8c3c"/>
<circle cx="640.58" cy="272.60" r="1.4" fill="#1e8c3c"/>
<circle cx="644.48" cy="272.60" r="1.4" fill="#1e8c3c"/>
<circle cx="648.38" cy="268.60" r="1.4" fill="#1e8c3c"/>
<circle cx="652.27" cy="269.90" r="1.4" fill="#1e8c3c"/>
<circle cx="656.16" cy="271.50" r="1.4" fill="#1e8c3c"/>
<circle cx="660.06" cy="270.20" r="1.4" fill="#1e8c3c"/>
<circle cx="663.95" cy="262.60" r="1.4" fill="#1e8c3c"/>
<circle cx="667.85" cy="267.30" r="1.4" fill="#1e8c3c"/>
<circle cx="671.74" cy="266.70" r="1.4" fill="#1e8c3c"/>
<circle cx="675.64" cy="261.50" r="1.4" fill="#1e8c3c"/>
<polyline points="515.94,241.60 519.84,241.10 523.73,209.10 527.63,228.60 531.52,230.20 535.42,230.80 539.31,273.00 543.21,212.30 547.10,231.30 551.00,249.60 554.89,239.20 558.79,250.30 562.68,223.40 566.58,233.70 570.47,246.40 574.37,262.30 578.26,251.10 582.16,236.50 586.05,252.40 589.95,277.80 593.84,254.00 597.74,254.60 601.63,265.40 605.53,256.70 609.42,263.80 613.32,247.80 617.21,230.80 621.11,271.80 625.00,261.90 628.90,268.60 632.79,254.00 636.69,253.00 640.58,243.20 644.48,274.20 648.38,264.60 652.27,261.30 656.16,280.50 660.06,272.60 663.95,255.10 667.85,253.00 671.74,275.30 675.64,270.20" fill="none" stroke="#3d4ab6" stroke-width="1.1"/>
<circle cx="515.94" cy="241.60" r="1.2" fill="#3d4ab6"/>
<circle cx="519.84" cy="241.10" r="1.2" fill="#3d4ab6"/>
<circle cx="523.73" cy="209.10" r="1.2" fill="#3d4ab6"/>
<circle cx="527.63" cy="228.60" r="1.2" fill="#3d4ab6"/>
<circle cx="531.52" cy="230.20" r="1.2" fill="#3d4ab6"/>
<circle cx="535.42" cy="230.80" r="1.2" fill="#3d4ab6"/>
<circle cx="539.31" cy="273.00" r="1.2" fill="#3d4ab6"/>
<circle cx="543.21" cy="212.30" r="1.2" fill="#3d4ab6"/>
<circle cx="547.10" cy="231.30" r="1.2" fill="#3d4ab6"/>
<circle cx="551.00" cy="249.60" r="1.2" fill="#3d4ab6"/>
<circle cx="554.89" cy="239.20" r="1.2" fill="#3d4ab6"/>
<circle cx="558.79" cy="250.30" r="1.2" fill="#3d4ab6"/>
<circle cx="562.68" cy="223.40" r="1.2" fill="#3d4ab6"/>
<circle cx="566.58" cy="233.70" r="1.2" fill="#3d4ab6"/>
<circle cx="570.47" cy="246.40" r="1.2" fill="#3d4ab6"/>
<circle cx="574.37" cy="262.30" r="1.2" fill="#3d4ab6"/>
<circle cx="578.26" cy="251.10" r="1.2" fill="#3d4ab6"/>
<circle cx="582.16" cy="236.50" r="1.2" fill="#3d4ab6"/>
<circle cx="586.05" cy="252.40" r="1.2" fill="#3d4ab6"/>
<circle cx="589.95" cy="277.80" r="1.2" fill="#3d4ab6"/>
<circle cx="593.84" cy="254.00" r="1.2" fill="#3d4ab6"/>
<circle cx="597.74" cy="254.60" r="1.2" fill="#3d4ab6"/>
<circle cx="601.63" cy="265.40" r="1.2" fill="#3d4ab6"/>
<circle cx="605.53" cy="256.70" r="1.2" fill="#3d4ab6"/>
<circle cx="609.42" cy="263.80" r="1.2" fill="#3d4ab6"/>
<circle cx="613.32" cy="247.80" r="1.2" fill="#3d4ab6"/>
<circle cx="617.21" cy="230.80" r="1.2" fill="#3d4ab6"/>
<circle cx="621.11" cy="271.80" r="1.2" fill="#3d4ab6"/>
<circle cx="625.00" cy="261.90" r="1.2" fill="#3d4ab6"/>
<circle cx="628.90" cy="268.60" r="1.2" fill="#3d4ab6"/>
<circle cx="632.79" cy="254.00" r="1.2" fill="#3d4ab6"/>
<circle cx="636.69" cy="253.00" r="1.2" fill="#3d4ab6"/>
<circle cx="640.58" cy="243.20" r="1.2" fill="#3d4ab6"/>
<circle cx="644.48" cy="274.20" r="1.2" fill="#3d4ab6"/>
<circle cx="648.38" cy="264.60" r="1.2" fill="#3d4ab6"/>
<circle cx="652.27" cy="261.30" r="1.2" fill="#3d4ab6"/>
<circle cx="656.16" cy="280.50" r="1.2" fill="#3d4ab6"/>
<circle cx="660.06" cy="272.60" r="1.2" fill="#3d4ab6"/>
<circle cx="663.95" cy="255.10" r="1.2" fill="#3d4ab6"/>
<circle cx="667.85" cy="253.00" r="1.2" fill="#3d4ab6"/>
<circle cx="671.74" cy="275.30" r="1.2" fill="#3d4ab6"/>
<circle cx="675.64" cy="270.20" r="1.2" fill="#3d4ab6"/>
<rect x="507.50" y="191.50" width="177.00" height="114.80" fill="none" stroke="#000" stroke-width="1"/>
<line x1="505.30" y1="301.60" x2="507.50" y2="301.60" stroke="#000" stroke-width="1"/>
<text x="488.12" y="304.50" font-size="9.2" fill="#000" textLength="16.06" lengthAdjust="spacingAndGlyphs" stroke="#000" stroke-width="0.25">0.75</text>
<line x1="505.30" y1="287.60" x2="507.50" y2="287.60" stroke="#000" stroke-width="1"/>
<text x="487.78" y="290.50" font-size="9.2" fill="#000" textLength="16.33" lengthAdjust="spacingAndGlyphs" stroke="#000" stroke-width="0.25">1.00</text>
<line x1="505.30" y1="273.60" x2="507.50" y2="273.60" stroke="#000" stroke-width="1"/>
<text x="487.78" y="276.50" font-size="9.2" fill="#000" textLength="16.42" lengthAdjust="spacingAndGlyphs" stroke="#000" stroke-width="0.25">1.25</text>
<line x1="505.30" y1="259.60" x2="507.50" y2="259.60" stroke="#000" stroke-width="1"/>
<text x="487.78" y="262.50" font-size="9.2" fill="#000" textLength="16.33" lengthAdjust="spacingAndGlyphs" stroke="#000" stroke-width="0.25">1.50</text>
<line x1="505.30" y1="245.60" x2="507.50" y2="245.60" stroke="#000" stroke-width="1"/>
<text x="487.78" y="248.50" font-size="9.2" fill="#000" textLength="16.42" lengthAdjust="spacingAndGlyphs" stroke="#000" stroke-width="0.25">1.75</text>
<line x1="505.30" y1="231.60" x2="507.50" y2="231.60" stroke="#000" stroke-width="1"/>
<text x="488.04" y="234.50" font-size="9.2" fill="#000" textLength="16.06" lengthAdjust="spacingAndGlyphs" stroke="#000" stroke-width="0.25">2.00</text>
<line x1="505.30" y1="217.60" x2="507.50" y2="217.60" stroke="#000" stroke-width="1"/>
<text x="488.04" y="220.50" font-size="9.2" fill="#000" textLength="16.15" lengthAdjust="spacingAndGlyphs" stroke="#000" stroke-width="0.25">2.25</text>
<line x1="505.30" y1="203.60" x2="507.50" y2="203.60" stroke="#000" stroke-width="1"/>
<text x="488.04" y="206.50" font-size="9.2" fill="#000" textLength="16.06" lengthAdjust="spacingAndGlyphs" stroke="#000" stroke-width="0.25">2.50</text>
<line x1="512.05" y1="306.30" x2="512.05" y2="308.50" stroke="#000" stroke-width="0.9"/>
<text x="509.54" y="316.50" font-size="9.2" fill="#000" textLength="4.98" lengthAdjust="spacingAndGlyphs" stroke="#000" stroke-width="0.25">0</text>
<line x1="551.00" y1="306.30" x2="551.00" y2="308.50" stroke="#000" stroke-width="0.9"/>
<text x="546.01" y="316.50" font-size="9.2" fill="#000" textLength="9.66" lengthAdjust="spacingAndGlyphs" stroke="#000" stroke-width="0.25">10</text>
<line x1="589.95" y1="306.30" x2="589.95" y2="308.50" stroke="#000" stroke-width="0.9"/>
<text x="585.23" y="316.50" font-size="9.2" fill="#000" textLength="9.38" lengthAdjust="spacingAndGlyphs" stroke="#000" stroke-width="0.25">20</text>
<line x1="628.90" y1="306.30" x2="628.90" y2="308.50" stroke="#000" stroke-width="0.9"/>
<text x="624.27" y="316.50" font-size="9.2" fill="#000" textLength="9.29" lengthAdjust="spacingAndGlyphs" stroke="#000" stroke-width="0.25">30</text>
<line x1="667.85" y1="306.30" x2="667.85" y2="308.50" stroke="#000" stroke-width="0.9"/>
<text x="663.39" y="316.50" font-size="9.2" fill="#000" textLength="9.11" lengthAdjust="spacingAndGlyphs" stroke="#000" stroke-width="0.25">40</text>
<text x="0" y="0" font-size="10.5" fill="#000" font-weight="bold" stroke="#000" stroke-width="0.25" textLength="88.16" lengthAdjust="spacingAndGlyphs" transform="translate(484.60,290.55) rotate(-90)">mean enrichment</text>
<text x="546.86" y="326.80" font-size="10.5" fill="#000" font-weight="bold" stroke="#000" stroke-width="0.25" textLength="96.24" lengthAdjust="spacingAndGlyphs">motif start position</text>
<line x1="39.00" y1="666.20" x2="215.90" y2="666.20" stroke="#e13228" stroke-width="1.1"/>
<line x1="46.92" y1="623.50" x2="46.92" y2="639.30" stroke="#999999" stroke-width="0.9"/>
<line x1="45.72" y1="623.50" x2="48.12" y2="623.50" stroke="#999999" stroke-width="0.8"/>
<line x1="45.72" y1="639.30" x2="48.12" y2="639.30" stroke="#999999" stroke-width="0.8"/>
<line x1="50.94" y1="597.60" x2="50.94" y2="613.00" stroke="#999999" stroke-width="0.9"/>
<line x1="49.74" y1="597.60" x2="52.14" y2="597.60" stroke="#999999" stroke-width="0.8"/>
<line x1="49.74" y1="613.00" x2="52.14" y2="613.00" stroke="#999999" stroke-width="0.8"/>
<line x1="54.96" y1="581.30" x2="54.96" y2="597.10" stroke="#999999" stroke-width="0.9"/>
<line x1="53.76" y1="581.30" x2="56.16" y2="581.30" stroke="#999999" stroke-width="0.8"/>
<line x1="53.76" y1="597.10" x2="56.16" y2="597.10" stroke="#999999" stroke-width="0.8"/>
<line x1="58.98" y1="577.00" x2="58.98" y2="592.50" stroke="#999999" stroke-width="0.9"/>
<line x1="57.78" y1="577.00" x2="60.18" y2="577.00" stroke="#999999" stroke-width="0.8"/>
<line x1="57.78" y1="592.50" x2="60.18" y2="592.50" stroke="#999999" stroke-width="0.8"/>
<line x1="63.00" y1="584.60" x2="63.00" y2="600.40" stroke="#999999" stroke-width="0.9"/>
<line x1="61.80" y1="584.60" x2="64.20" y2="584.60" stroke="#999999" stroke-width="0.8"/>
<line x1="61.80" y1="600.40" x2="64.20" y2="600.40" stroke="#999999" stroke-width="0.8"/>
<line x1="67.02" y1="593.30" x2="67.02" y2="608.60" stroke="#999999" stroke-width="0.9"/>
<line x1="65.82" y1="593.30" x2="68.22" y2="593.30" stroke="#999999" stroke-width="0.8"/>
<line x1="65.82" y1="608.60" x2="68.22" y2="608.60" stroke="#999999" stroke-width="0.8"/>
<line x1="71.04" y1="562.00" x2="71.04" y2="576.40" stroke="#999999" stroke-width="0.9"/>
<line x1="69.84" y1="562.00" x2="72.24" y2="562.00" stroke="#999999" stroke-width="0.8"/>
<line x1="69.84" y1="576.40" x2="72.24" y2="576.40" stroke="#999999" stroke-width="0.8"/>
<line x1="75.06" y1="592.20" x2="75.06" y2="608.10" stroke="#999999" stroke-width="0.9"/>
<line x1="73.86" y1="592.20" x2="76.26" y2="592.20" stroke="#999999" stroke-width="0.8"/>
<line x1="73.86" y1="608.10" x2="76.26" y2="608.10" stroke="#999999" stroke-width="0.8"/>
<line x1="79.08" y1="595.40" x2="79.08" y2="611.20" stroke="#999999" stroke-width="0.9"/>
<line x1="77.88" y1="595.40" x2="80.28" y2="595.40" stroke="#999999" stroke-width="0.8"/>
<line x1="77.88" y1="611.20" x2="80.28" y2="611.20" stroke="#999999" stroke-width="0.8"/>
<line x1="83.10" y1="592.80" x2="83.10" y2="609.80" stroke="#999999" stroke-width="0.9"/>
<line x1="81.90" y1="592.80" x2="84.30" y2="592.80" stroke="#999999" stroke-width="0.8"/>
<line x1="81.90" y1="609.80" x2="84.30" y2="609.80" stroke="#999999" stroke-width="0.8"/>
<line x1="87.12" y1="600.90" x2="87.12" y2="616.70" stroke="#999999" stroke-width="0.9"/>
<line x1="85.92" y1="600.90" x2="88.32" y2="600.90" stroke="#999999" stroke-width="0.8"/>
<line x1="85.92" y1="616.70" x2="88.32" y2="616.70" stroke="#999999" stroke-width="0.8"/>
<line x1="91.14" y1="596.80" x2="91.14" y2="612.70" stroke="#999999" stroke-width="0.9"/>
<line x1="89.94" y1="596.80" x2="92.34" y2="596.80" stroke="#999999" stroke-width="0.8"/>
<line x1="89.94" y1="612.70" x2="92.34" y2="612.70" stroke="#999999" stroke-width="0.8"/>
<line x1="95.16" y1="601.90" x2="95.16" y2="620.20" stroke="#999999" stroke-width="0.9"/>
<line x1="93.96" y1="601.90" x2="96.36" y2="601.90" stroke="#999999" stroke-width="0.8"/>
<line x1="93.96" y1="620.20" x2="96.36" y2="620.20" stroke="#999999" stroke-width="0.8"/>
<line x1="99.18" y1="594.30" x2="99.18" y2="611.00" stroke="#999999" stroke-width="0.9"/>
<line x1="97.98" y1="594.30" x2="100.38" y2="594.30" stroke="#999999" stroke-width="0.8"/>
<line x1="97.98" y1="611.00" x2="100.38" y2="611.00" stroke="#999999" stroke-width="0.8"/>
<line x1="103.20" y1="609.10" x2="103.20" y2="625.90" stroke="#999999" stroke-width="0.9"/>
<line x1="102.00" y1="609.10" x2="104.40" y2="609.10" stroke="#999999" stroke-width="0.8"/>
<line x1="102.00" y1="625.90" x2="104.40" y2="625.90" stroke="#999999" stroke-width="0.8"/>
<line x1="107.22" y1="613.80" x2="107.22" y2="631.40" stroke="#999999" stroke-width="0.9"/>
<line x1="106.02" y1="613.80" x2="108.42" y2="613.80" stroke="#999999" stroke-width="0.8"/>
<line x1="106.02" y1="631.40" x2="108.42" y2="631.40" stroke="#999999" stroke-width="0.8"/>
<line x1="111.24" y1="607.20" x2="111.24" y2="623.90" stroke="#999999" stroke-width="0.9"/>
<line x1="110.04" y1="607.20" x2="112.44" y2="607.20" stroke="#999999" stroke-width="0.8"/>
<line x1="110.04" y1="623.90" x2="112.44" y2="623.90" stroke="#999999" stroke-width="0.8"/>
<line x1="115.26" y1="596.80" x2="115.26" y2="614.40" stroke="#999999" stroke-width="0.9"/>
<line x1="114.06" y1="596.80" x2="116.46" y2="596.80" stroke="#999999" stroke-width="0.8"/>
<line x1="114.06" y1="614.40" x2="116.46" y2="614.40" stroke="#999999" stroke-width="0.8"/>
<line x1="119.28" y1="604.30" x2="119.28" y2="622.00" stroke="#999999" stroke-width="0.9"/>
<line x1="118.08" y1="604.30" x2="120.48" y2="604.30" stroke="#999999" stroke-width="0.8"/>
<line x1="118.08" y1="622.00" x2="120.48" y2="622.00" stroke="#999999" stroke-width="0.8"/>
<line x1="123.30" y1="620.60" x2="123.30" y2="637.90" stroke="#999999" stroke-width="0.9"/>
<line x1="122.10" y1="620.60" x2="124.50" y2="620.60" stroke="#999999" stroke-width="0.8"/>
<line x1="122.10" y1="637.90" x2="124.50" y2="637.90" stroke="#999999" stroke-width="0.8"/>
<line x1="127.32" y1="600.90" x2="127.32" y2="617.00" stroke="#999999" stroke-width="0.9"/>
<line x1="126.12" y1="600.90" x2="128.52" y2="600.90" stroke="#999999" stroke-width="0.8"/>
<line x1="126.12" y1="617.00" x2="128.52" y2="617.00" stroke="#999999" stroke-width="0.8"/>
<line x1="131.34" y1="605.20" x2="131.34" y2="623.50" stroke="#999999" stroke-width="0.9"/>
<line x1="130.14" y1="605.20" x2="132.54" y2="605.20" stroke="#999999" stroke-width="0.8"/>
<line x1="130.14" y1="623.50" x2="132.54" y2="623.50" stroke="#999999" stroke-width="0.8"/>
<line x1="135.36" y1="610.10" x2="135.36" y2="627.80" stroke="#999999" stroke-width="0.9"/>
<line x1="134.16" y1="610.10" x2="136.56" y2="610.10" stroke="#999999" stroke-width="0.8"/>
<line x1="134.16" y1="627.80" x2="136.56" y2="627.80" stroke="#999999" stroke-width="0.8"/>
<line x1="139.38" y1="619.20" x2="139.38" y2="638.60" stroke="#999999" stroke-width="0.9"/>
<line x1="138.18" y1="619.20" x2="140.58" y2="619.20" stroke="#999999" stroke-width="0.8"/>
<line x1="138.18" y1="638.60" x2="140.58" y2="638.60" stroke="#999999" stroke-width="0.8"/>
<line x1="143.40" y1="591.40" x2="143.40" y2="608.40" stroke="#999999" stroke-width="0.9"/>
<line x1="142.20" y1="591.40" x2="144.60" y2="591.40" stroke="#999999" stroke-width="0.8"/>
<line x1="142.20" y1="608.40" x2="144.60" y2="608.40" stroke="#999999" stroke-width="0.8"/>
<line x1="147.42" y1="602.90" x2="147.42" y2="622.00" stroke="#999999" stroke-width="0.9"/>
<line x1="146.22" y1="602.90" x2="148.62" y2="602.90" stroke="#999999" stroke-width="0.8"/>
<line x1="146.22" y1="622.00" x2="148.62" y2="622.00" stroke="#999999" stroke-width="0.8"/>
<line x1="151.44" y1="604.30" x2="151.44" y2="623.50" stroke="#999999" stroke-width="0.9"/>
<line x1="150.24" y1="604.30" x2="152.64" y2="604.30" stroke="#999999" stroke-width="0.8"/>
<line x1="150.24" y1="623.50" x2="152.64" y2="623.50" stroke="#999999" stroke-width="0.8"/>
<line x1="155.46" y1="613.00" x2="155.46" y2="630.00" stroke="#999999" stroke-width="0.9"/>
<line x1="154.26" y1="613.00" x2="156.66" y2="613.00" stroke="#999999" stroke-width="0.8"/>
<line x1="154.26" y1="630.00" x2="156.66" y2="630.00" stroke="#999999" stroke-width="0.8"/>
<line x1="159.48" y1="614.80" x2="159.48" y2="635.40" stroke="#999999" stroke-width="0.9"/>
<line x1="158.28" y1="614.80" x2="160.68" y2="614.80" stroke="#999999" stroke-width="0.8"/>
<line x1="158.28" y1="635.40" x2="160.68" y2="635.40" stroke="#999999" stroke-width="0.8"/>
<line x1="163.50" y1="614.10" x2="163.50" y2="633.50" stroke="#999999" stroke-width="0.9"/>
<line x1="162.30" y1="614.10" x2="164.70" y2="614.10" stroke="#999999" stroke-width="0.8"/>
<line x1="162.30" y1="633.50" x2="164.70" y2="633.50" stroke="#999999" stroke-width="0.8"/>
<line x1="167.52" y1="612.40" x2="167.52" y2="629.70" stroke="#999999" stroke-width="0.9"/>
<line x1="166.32" y1="612.40" x2="168.72" y2="612.40" stroke="#999999" stroke-width="0.8"/>
<line x1="166.32" y1="629.70" x2="168.72" y2="629.70" stroke="#999999" stroke-width="0.8"/>
<line x1="171.54" y1="592.20" x2="171.54" y2="609.50" stroke="#999999" stroke-width="0.9"/>
<line x1="170.34" y1="592.20" x2="172.74" y2="592.20" stroke="#999999" stroke-width="0.8"/>
<line x1="170.34" y1="609.50" x2="172.74" y2="609.50" stroke="#999999" stroke-width="0.8"/>
<line x1="175.56" y1="603.80" x2="175.56" y2="621.30" stroke="#999999" stroke-width="0.9"/>
<line x1="174.36" y1="603.80" x2="176.76" y2="603.80" stroke="#999999" stroke-width="0.8"/>
<line x1="174.36" y1="621.30" x2="176.76" y2="621.30" stroke="#999999" stroke-width="0.8"/>
<line x1="179.58" y1="603.30" x2="179.58" y2="621.30" stroke="#999999" stroke-width="0.9"/>
<line x1="178.38" y1="603.30" x2="180.78" y2="603.30" stroke="#999999" stroke-width="0.8"/>
<line x1="178.38" y1="621.30" x2="180.78" y2="621.30" stroke="#999999" stroke-width="0.8"/>
<line x1="183.60" y1="609.10" x2="183.60" y2="627.10" stroke="#999999" stroke-width="0.9"/>
<line x1="182.40" y1="609.10" x2="184.80" y2="609.10" stroke="#999999" stroke-width="0.8"/>
<line x1="182.40" y1="627.10" x2="184.80" y2="627.10" stroke="#999999" stroke-width="0.8"/>
<line x1="187.62" y1="611.20" x2="187.62" y2="630.00" stroke="#999999" stroke-width="0.9"/>
<line x1="186.42" y1="611.20" x2="188.82" y2="611.20" stroke="#999999" stroke-width="0.8"/>
<line x1="186.42" y1="630.00" x2="188.82" y2="630.00" stroke="#999999" stroke-width="0.8"/>
<line x1="191.64" y1="612.40" x2="191.64" y2="630.00" stroke="#999999" stroke-width="0.9"/>
<line x1="190.44" y1="612.40" x2="192.84" y2="612.40" stroke="#999999" stroke-width="0.8"/>
<line x1="190.44" y1="630.00" x2="192.84" y2="630.00" stroke="#999999" stroke-width="0.8"/>
<line x1="195.66" y1="595.40" x2="195.66" y2="613.00" stroke="#999999" stroke-width="0.9"/>
<line x1="194.46" y1="595.40" x2="196.86" y2="595.40" stroke="#999999" stroke-width="0.8"/>
<line x1="194.46" y1="613.00" x2="196.86" y2="613.00" stroke="#999999" stroke-width="0.8"/>
<line x1="199.68" y1="605.20" x2="199.68" y2="623.00" stroke="#999999" stroke-width="0.9"/>
<line x1="198.48" y1="605.20" x2="200.88" y2="605.20" stroke="#999999" stroke-width="0.8"/>
<line x1="198.48" y1="623.00" x2="200.88" y2="623.00" stroke="#999999" stroke-width="0.8"/>
<line x1="203.70" y1="604.30" x2="203.70" y2="621.30" stroke="#999999" stroke-width="0.9"/>
<line x1="202.50" y1="604.30" x2="204.90" y2="604.30" stroke="#999999" stroke-width="0.8"/>
<line x1="202.50" y1="621.30" x2="204.90" y2="621.30" stroke="#999999" stroke-width="0.8"/>
<line x1="207.72" y1="619.20" x2="207.72" y2="637.90" stroke="#999999" stroke-width="0.9"/>
<line x1="206.52" y1="619.20" x2="208.92" y2="619.20" stroke="#999999" stroke-width="0.8"/>
<line x1="206.52" y1="637.90" x2="208.92" y2="637.90" stroke="#999999" stroke-width="0.8"/>
<line x1="46.92" y1="627.30" x2="46.92" y2="630.50" stroke="#999999" stroke-width="0.9"/>
<line x1="45.72" y1="627.30" x2="48.12" y2="627.30" stroke="#999999" stroke-width="0.8"/>
<line x1="45.72" y1="630.50" x2="48.12" y2="630.50" stroke="#999999" stroke-width="0.8"/>
<line x1="50.94" y1="627.20" x2="50.94" y2="630.40" stroke="#999999" stroke-width="0.9"/>
<line x1="49.74" y1="627.20" x2="52.14" y2="627.20" stroke="#999999" stroke-width="0.8"/>
<line x1="49.74" y1="630.40" x2="52.14" y2="630.40" stroke="#999999" stroke-width="0.8"/>
<line x1="54.96" y1="628.40" x2="54.96" y2="631.60" stroke="#999999" stroke-width="0.9"/>
<line x1="53.76" y1="628.40" x2="56.16" y2="628.40" stroke="#999999" stroke-width="0.8"/>
<line x1="53.76" y1="631.60" x2="56.16" y2="631.60" stroke="#999999" stroke-width="0.8"/>
<line x1="58.98" y1="626.90" x2="58.98" y2="630.10" stroke="#999999" stroke-width="0.9"/>
<line x1="57.78" y1="626.90" x2="60.18" y2="626.90" stroke="#999999" stroke-width="0.8"/>
<line x1="57.78" y1="630.10" x2="60.18" y2="630.10" stroke="#999999" stroke-width="0.8"/>
<line x1="63.00" y1="629.50" x2="63.00" y2="632.70" stroke="#999999" stroke-width="0.9"/>
<line x1="61.80" y1="629.50" x2="64.20" y2="629.50" stroke="#999999" stroke-width="0.8"/>
<line x1="61.80" y1="632.70" x2="64.20" y2="632.70" stroke="#999999" stroke-width="0.8"/>
<line x1="67.02" y1="629.50" x2="67.02" y2="632.70" stroke="#999999" stroke-width="0.9"/>
<line x1="65.82" y1="629.50" x2="68.22" y2="629.50" stroke="#999999" stroke-width="0.8"/>
<line x1="65.82" y1="632.70" x2="68.22" y2="632.70" stroke="#999999" stroke-width="0.8"/>
<line x1="71.04" y1="629.80" x2="71.04" y2="633.00" stroke="#999999" stroke-width="0.9"/>
<line x1="69.84" y1="629.80" x2="72.24" y2="629.80" stroke="#999999" stroke-width="0.8"/>
<line x1="69.84" y1="633.00" x2="72.24" y2="633.00" stroke="#999999" stroke-width="0.8"/>
<line x1="75.06" y1="633.40" x2="75.06" y2="636.60" stroke="#999999" stroke-width="0.9"/>
<line x1="73.86" y1="633.40" x2="76.26" y2="633.40" stroke="#999999" stroke-width="0.8"/>
<line x1="73.86" y1="636.60" x2="76.26" y2="636.60" stroke="#999999" stroke-width="0.8"/>
<line x1="79.08" y1="633.00" x2="79.08" y2="636.20" stroke="#999999" stroke-width="0.9"/>
<line x1="77.88" y1="633.00" x2="80.28" y2="633.00" stroke="#999999" stroke-width="0.8"/>
<line x1="77.88" y1="636.20" x2="80.28" y2="636.20" stroke="#999999" stroke-width="0.8"/>
<line x1="83.10" y1="632.40" x2="83.10" y2="635.60" stroke="#999999" stroke-width="0.9"/>
<line x1="81.90" y1="632.40" x2="84.30" y2="632.40" stroke="#999999" stroke-width="0.8"/>
<line x1="81.90" y1="635.60" x2="84.30" y2="635.60" stroke="#999999" stroke-width="0.8"/>
<line x1="87.12" y1="634.80" x2="87.12" y2="638.00" stroke="#999999" stroke-width="0.9"/>
<line x1="85.92" y1="634.80" x2="88.32" y2="634.80" stroke="#999999" stroke-width="0.8"/>
<line x1="85.92" y1="638.00" x2="88.32" y2="638.00" stroke="#999999" stroke-width="0.8"/>
<line x1="91.14" y1="634.10" x2="91.14" y2="637.30" stroke="#999999" stroke-width="0.9"/>
<line x1="89.94" y1="634.10" x2="92.34" y2="634.10" stroke="#999999" stroke-width="0.8"/>
<line x1="89.94" y1="637.30" x2="92.34" y2="637.30" stroke="#999999" stroke-width="0.8"/>
<line x1="95.16" y1="634.40" x2="95.16" y2="637.60" stroke="#999999" stroke-width="0.9"/>
<line x1="93.96" y1="634.40" x2="96.36" y2="634.40" stroke="#999999" stroke-width="0.8"/>
<line x1="93.96" y1="637.60" x2="96.36" y2="637.60" stroke="#999999" stroke-width="0.8"/>
<line x1="99.18" y1="635.80" x2="99.18" y2="639.00" stroke="#999999" stroke-width="0.9"/>
<line x1="97.98" y1="635.80" x2="100.38" y2="635.80" stroke="#999999" stroke-width="0.8"/>
<line x1="97.98" y1="639.00" x2="100.38" y2="639.00" stroke="#999999" stroke-width="0.8"/>
<line x1="103.20" y1="637.70" x2="103.20" y2="640.90" stroke="#999999" stroke-width="0.9"/>
<line x1="102.00" y1="637.70" x2="104.40" y2="637.70" stroke="#999999" stroke-width="0.8"/>
<line x1="102.00" y1="640.90" x2="104.40" y2="640.90" stroke="#999999" stroke-width="0.8"/>
<line x1="107.22" y1="635.20" x2="107.22" y2="638.40" stroke="#999999" stroke-width="0.9"/>
<line x1="106.02" y1="635.20" x2="108.42" y2="635.20" stroke="#999999" stroke-width="0.8"/>
<line x1="106.02" y1="638.40" x2="108.42" y2="638.40" stroke="#999999" stroke-width="0.8"/>
<line x1="111.24" y1="637.30" x2="111.24" y2="640.50" stroke="#999999" stroke-width="0.9"/>
<line x1="110.04" y1="637.30" x2="112.44" y2="637.30" stroke="#999999" stroke-width="0.8"/>
<line x1="110.04" y1="640.50" x2="112.44" y2="640.50" stroke="#999999" stroke-width="0.8"/>
<line x1="115.26" y1="639.90" x2="115.26" y2="643.10" stroke="#999999" stroke-width="0.9"/>
<line x1="114.06" y1="639.90" x2="116.46" y2="639.90" stroke="#999999" stroke-width="0.8"/>
<line x1="114.06" y1="643.10" x2="116.46" y2="643.10" stroke="#999999" stroke-width="0.8"/>
<line x1="119.28" y1="640.60" x2="119.28" y2="643.80" stroke="#999999" stroke-width="0.9"/>
<line x1="118.08" y1="640.60" x2="120.48" y2="640.60" stroke="#999999" stroke-width="0.8"/>
<line x1="118.08" y1="643.80" x2="120.48" y2="643.80" stroke="#999999" stroke-width="0.8"/>
<line x1="123.30" y1="641.30" x2="123.30" y2="644.50" stroke="#999999" stroke-width="0.9"/>
<line x1="122.10" y1="641.30" x2="124.50" y2="641.30" stroke="#999999" stroke-width="0.8"/>
<line x1="122.10" y1="644.50" x2="124.50" y2="644.50" stroke="#999999" stroke-width="0.8"/>
<line x1="127.32" y1="637.70" x2="127.32" y2="640.90" stroke="#999999" stroke-width="0.9"/>
<line x1="126.12" y1="637.70" x2="128.52" y2="637.70" stroke="#999999" stroke-width="0.8"/>
<line x1="126.12" y1="640.90" x2="128.52" y2="640.90" stroke="#999999" stroke-width="0.8"/>
<line x1="131.34" y1="639.60" x2="131.34" y2="642.80" stroke="#999999" stroke-width="0.9"/>
<line x1="130.14" y1="639.60" x2="132.54" y2="639.60" stroke="#999999" stroke-width="0.8"/>
<line x1="130.14" y1="642.80" x2="132.54" y2="642.80" stroke="#999999" stroke-width="0.8"/>
<line x1="135.36" y1="638.10" x2="135.36" y2="641.30" stroke="#999999" stroke-width="0.9"/>
<line x1="134.16" y1="638.10" x2="136.56" y2="638.10" stroke="#999999" stroke-width="0.8"/>
<line x1="134.16" y1="641.30" x2="136.56" y2="641.30" stroke="#999999" stroke-width="0.8"/>
<line x1="139.38" y1="640.10" x2="139.38" y2="643.30" stroke="#999999" stroke-width="0.9"/>
<line x1="138.18" y1="640.10" x2="140.58" y2="640.10" stroke="#999999" stroke-width="0.8"/>
<line x1="138.18" y1="643.30" x2="140.58" y2="643.30" stroke="#999999" stroke-width="0.8"/>
<line x1="143.40" y1="639.10" x2="143.40" y2="642.30" stroke="#999999" stroke-width="0.9"/>
<line x1="142.20" y1="639.10" x2="144.60" y2="639.10" stroke="#999999" stroke-width="0.8"/>
<line x1="142.20" y1="642.30" x2="144.60" y2="642.30" stroke="#999999" stroke-width="0.8"/>
<line x1="147.42" y1="638.70" x2="147.42" y2="641.90" stroke="#999999" stroke-width="0.9"/>
<line x1="146.22" y1="638.70" x2="148.62" y2="638.70" stroke="#999999" stroke-width="0.8"/>
<line x1="146.22" y1="641.90" x2="148.62" y2="641.90" stroke="#999999" stroke-width="0.8"/>
<line x1="151.44" y1="640.60" x2="151.44" y2="643.80" stroke="#999999" stroke-width="0.9"/>
<line x1="150.24" y1="640.60" x2="152.64" y2="640.60" stroke="#999999" stroke-width="0.8"/>
<line x1="150.24" y1="643.80" x2="152.64" y2="643.80" stroke="#999999" stroke-width="0.8"/>
<line x1="155.46" y1="639.10" x2="155.46" y2="642.30" stroke="#999999" stroke-width="0.9"/>
<line x1="154.26" y1="639.10" x2="156.66" y2="639.10" stroke="#999999" stroke-width="0.8"/>
<line x1="154.26" y1="642.30" x2="156.66" y2="642.30" stroke="#999999" stroke-width="0.8"/>
<line x1="159.48" y1="640.10" x2="159.48" y2="643.30" stroke="#999999" stroke-width="0.9"/>
<line x1="158.28" y1="640.10" x2="160.68" y2="640.10" stroke="#999999" stroke-width="0.8"/>
<line x1="158.28" y1="643.30" x2="160.68" y2="643.30" stroke="#999999" stroke-width="0.8"/>
<line x1="163.50" y1="639.90" x2="163.50" y2="643.10" stroke="#999999" stroke-width="0.9"/>
<line x1="162.30" y1="639.90" x2="164.70" y2="639.90" stroke="#999999" stroke-width="0.8"/>
<line x1="162.30" y1="643.10" x2="164.70" y2="643.10" stroke="#999999" stroke-width="0.8"/>
<line x1="167.52" y1="641.30" x2="167.52" y2="644.50" stroke="#999999" stroke-width="0.9"/>
<line x1="166.32" y1="641.30" x2="168.72" y2="641.30" stroke="#999999" stroke-width="0.8"/>
<line x1="166.32" y1="644.50" x2="168.72" y2="644.50" stroke="#999999" stroke-width="0.8"/>
<line x1="171.54" y1="639.60" x2="171.54" y2="642.80" stroke="#999999" stroke-width="0.9"/>
<line x1="170.34" y1="639.60" x2="172.74" y2="639.60" stroke="#999999" stroke-width="0.8"/>
<line x1="170.34" y1="642.80" x2="172.74" y2="642.80" stroke="#999999" stroke-width="0.8"/>
<line x1="175.56" y1="638.40" x2="175.56" y2="641.60" stroke="#999999" stroke-width="0.9"/>
<line x1="174.36" y1="638.40" x2="176.76" y2="638.40" stroke="#999999" stroke-width="0.8"/>
<line x1="174.36" y1="641.60" x2="176.76" y2="641.60" stroke="#999999" stroke-width="0.8"/>
<line x1="179.58" y1="639.90" x2="179.58" y2="643.10" stroke="#999999" stroke-width="0.9"/>
<line x1="178.38" y1="639.90" x2="180.78" y2="639.90" stroke="#999999" stroke-width="0.8"/>
<line x1="178.38" y1="643.10" x2="180.78" y2="643.10" stroke="#999999" stroke-width="0.8"/>
<line x1="183.60" y1="639.10" x2="183.60" y2="642.30" stroke="#999999" stroke-width="0.9"/>
<line x1="182.40" y1="639.10" x2="184.80" y2="639.10" stroke="#999999" stroke-width="0.8"/>
<line x1="182.40" y1="642.30" x2="184.80" y2="642.30" stroke="#999999" stroke-width="0.8"/>
<line x1="187.62" y1="637.70" x2="187.62" y2="640.90" stroke="#999999" stroke-width="0.9"/>
<line x1="186.42" y1="637.70" x2="188.82" y2="637.70" stroke="#999999" stroke-width="0.8"/>
<line x1="186.42" y1="640.90" x2="188.82" y2="640.90" stroke="#999999" stroke-width="0.8"/>
<line x1="191.64" y1="637.00" x2="191.64" y2="640.20" stroke="#999999" stroke-width="0.9"/>
<line x1="190.44" y1="637.00" x2="192.84" y2="637.00" stroke="#999999" stroke-width="0.8"/>
<line x1="190.44" y1="640.20" x2="192.84" y2="640.20" stroke="#999999" stroke-width="0.8"/>
<line x1="195.66" y1="638.40" x2="195.66" y2="641.60" stroke="#999999" stroke-width="0.9"/>
<line x1="194.46" y1="638.40" x2="196.86" y2="638.40" stroke="#999999" stroke-width="0.8"/>
<line x1="194.46" y1="641.60" x2="196.86" y2="641.60" stroke="#999999" stroke-width="0.8"/>
<line x1="199.68" y1="636.70" x2="199.68" y2="639.90" stroke="#999999" stroke-width="0.9"/>
<line x1="198.48" y1="636.70" x2="200.88" y2="636.70" stroke="#999999" stroke-width="0.8"/>
<line x1="198.48" y1="639.90" x2="200.88" y2="639.90" stroke="#999999" stroke-width="0.8"/>
<line x1="203.70" y1="635.80" x2="203.70" y2="639.00" stroke="#999999" stroke-width="0.9"/>
<line x1="202.50" y1="635.80" x2="204.90" y2="635.80" stroke="#999999" stroke-width="0.8"/>
<line x1="202.50" y1="639.00" x2="204.90" y2="639.00" stroke="#999999" stroke-width="0.8"/>
<line x1="207.72" y1="636.70" x2="207.72" y2="639.90" stroke="#999999" stroke-width="0.9"/>
<line x1="206.52" y1="636.70" x2="208.92" y2="636.70" stroke="#999999" stroke-width="0.8"/>
<line x1="206.52" y1="639.90" x2="208.92" y2="639.90" stroke="#999999" stroke-width="0.8"/>
<polyline points="46.92,628.90 50.94,628.80 54.96,630.00 58.98,628.50 63.00,631.10 67.02,631.10 71.04,631.40 75.06,635.00 79.08,634.60 83.10,634.00 87.12,636.40 91.14,635.70 95.16,636.00 99.18,637.40 103.20,639.30 107.22,636.80 111.24,638.90 115.26,641.50 119.28,642.20 123.30,642.90 127.32,639.30 131.34,641.20 135.36,639.70 139.38,641.70 143.40,640.70 147.42,640.30 151.44,642.20 155.46,640.70 159.48,641.70 163.50,641.50 167.52,642.90 171.54,641.20 175.56,640.00 179.58,641.50 183.60,640.70 187.62,639.30 191.64,638.60 195.66,640.00 199.68,638.30 203.70,637.40 207.72,638.30" fill="none" stroke="#1e8c3c" stroke-width="1.25"/>
<circle cx="46.92" cy="628.90" r="1.4" fill="#1e8c3c"/>
<circle cx="50.94" cy="628.80" r="1.4" fill="#1e8c3c"/>
<circle cx="54.96" cy="630.00" r="1.4" fill="#1e8c3c"/>
<circle cx="58.98" cy="628.50" r="1.4" fill="#1e8c3c"/>
<circle cx="63.00" cy="631.10" r="1.4" fill="#1e8c3c"/>
<circle cx="67.02" cy="631.10" r="1.4" fill="#1e8c3c"/>
<circle cx="71.04" cy="631.40" r="1.4" fill="#1e8c3c"/>
<circle cx="75.06" cy="635.00" r="1.4" fill="#1e8c3c"/>
<circle cx="79.08" cy="634.60" r="1.4" fill="#1e8c3c"/>
<circle cx="83.10" cy="634.00" r="1.4" fill="#1e8c3c"/>
<circle cx="87.12" cy="636.40" r="1.4" fill="#1e8c3c"/>
<circle cx="91.14" cy="635.70" r="1.4" fill="#1e8c3c"/>
<circle cx="95.16" cy="636.00" r="1.4" fill="#1e8c3c"/>
<circle cx="99.18" cy="637.40" r="1.4" fill="#1e8c3c"/>
<circle cx="103.20" cy="639.30" r="1.4" fill="#1e8c3c"/>
<circle cx="107.22" cy="636.80" r="1.4" fill="#1e8c3c"/>
<circle cx="111.24" cy="638.90" r="1.4" fill="#1e8c3c"/>
<circle cx="115.26" cy="641.50" r="1.4" fill="#1e8c3c"/>
<circle cx="119.28" cy="642.20" r="1.4" fill="#1e8c3c"/>
<circle cx="123.30" cy="642.90" r="1.4" fill="#1e8c3c"/>
<circle cx="127.32" cy="639.30" r="1.4" fill="#1e8c3c"/>
<circle cx="131.34" cy="641.20" r="1.4" fill="#1e8c3c"/>
<circle cx="135.36" cy="639.70" r="1.4" fill="#1e8c3c"/>
<circle cx="139.38" cy="641.70" r="1.4" fill="#1e8c3c"/>
<circle cx="143.40" cy="640.70" r="1.4" fill="#1e8c3c"/>
<circle cx="147.42" cy="640.30" r="1.4" fill="#1e8c3c"/>
<circle cx="151.44" cy="642.20" r="1.4" fill="#1e8c3c"/>
<circle cx="155.46" cy="640.70" r="1.4" fill="#1e8c3c"/>
<circle cx="159.48" cy="641.70" r="1.4" fill="#1e8c3c"/>
<circle cx="163.50" cy="641.50" r="1.4" fill="#1e8c3c"/>
<circle cx="167.52" cy="642.90" r="1.4" fill="#1e8c3c"/>
<circle cx="171.54" cy="641.20" r="1.4" fill="#1e8c3c"/>
<circle cx="175.56" cy="640.00" r="1.4" fill="#1e8c3c"/>
<circle cx="179.58" cy="641.50" r="1.4" fill="#1e8c3c"/>
<circle cx="183.60" cy="640.70" r="1.4" fill="#1e8c3c"/>
<circle cx="187.62" cy="639.30" r="1.4" fill="#1e8c3c"/>
<circle cx="191.64" cy="638.60" r="1.4" fill="#1e8c3c"/>
<circle cx="195.66" cy="640.00" r="1.4" fill="#1e8c3c"/>
<circle cx="199.68" cy="638.30" r="1.4" fill="#1e8c3c"/>
<circle cx="203.70" cy="637.40" r="1.4" fill="#1e8c3c"/>
<circle cx="207.72" cy="638.30" r="1.4" fill="#1e8c3c"/>
<polyline points="46.92,631.40 50.94,605.20 54.96,588.50 58.98,584.60 63.00,592.50 67.02,600.90 71.04,568.80 75.06,599.70 79.08,603.80 83.10,600.90 87.12,608.60 91.14,604.80 95.16,611.00 99.18,602.90 103.20,617.30 107.22,622.70 111.24,615.80 115.26,605.50 119.28,613.00 123.30,629.20 127.32,608.60 131.34,614.10 135.36,619.20 139.38,628.80 143.40,599.40 147.42,612.40 151.44,613.40 155.46,621.30 159.48,624.90 163.50,623.90 167.52,621.00 171.54,600.90 175.56,612.70 179.58,612.40 183.60,617.30 187.62,620.60 191.64,621.00 195.66,604.00 199.68,613.80 203.70,612.40 207.72,628.50" fill="none" stroke="#3d4ab6" stroke-width="1.1"/>
<circle cx="46.92" cy="631.40" r="1.2" fill="#3d4ab6"/>
<circle cx="50.94" cy="605.20" r="1.2" fill="#3d4ab6"/>
<circle cx="54.96" cy="588.50" r="1.2" fill="#3d4ab6"/>
<circle cx="58.98" cy="584.60" r="1.2" fill="#3d4ab6"/>
<circle cx="63.00" cy="592.50" r="1.2" fill="#3d4ab6"/>
<circle cx="67.02" cy="600.90" r="1.2" fill="#3d4ab6"/>
<circle cx="71.04" cy="568.80" r="1.2" fill="#3d4ab6"/>
<circle cx="75.06" cy="599.70" r="1.2" fill="#3d4ab6"/>
<circle cx="79.08" cy="603.80" r="1.2" fill="#3d4ab6"/>
<circle cx="83.10" cy="600.90" r="1.2" fill="#3d4ab6"/>
<circle cx="87.12" cy="608.60" r="1.2" fill="#3d4ab6"/>
<circle cx="91.14" cy="604.80" r="1.2" fill="#3d4ab6"/>
<circle cx="95.16" cy="611.00" r="1.2" fill="#3d4ab6"/>
<circle cx="99.18" cy="602.90" r="1.2" fill="#3d4ab6"/>
<circle cx="103.20" cy="617.30" r="1.2" fill="#3d4ab6"/>
<circle cx="107.22" cy="622.70" r="1.2" fill="#3d4ab6"/>
<circle cx="111.24" cy="615.80" r="1.2" fill="#3d4ab6"/>
<circle cx="115.26" cy="605.50" r="1.2" fill="#3d4ab6"/>
<circle cx="119.28" cy="613.00" r="1.2" fill="#3d4ab6"/>
<circle cx="123.30" cy="629.20" r="1.2" fill="#3d4ab6"/>
<circle cx="127.32" cy="608.60" r="1.2" fill="#3d4ab6"/>
<circle cx="131.34" cy="614.10" r="1.2" fill="#3d4ab6"/>
<circle cx="135.36" cy="619.20" r="1.2" fill="#3d4ab6"/>
<circle cx="139.38" cy="628.80" r="1.2" fill="#3d4ab6"/>
<circle cx="143.40" cy="599.40" r="1.2" fill="#3d4ab6"/>
<circle cx="147.42" cy="612.40" r="1.2" fill="#3d4ab6"/>
<circle cx="151.44" cy="613.40" r="1.2" fill="#3d4ab6"/>
<circle cx="155.46" cy="621.30" r="1.2" fill="#3d4ab6"/>
<circle cx="159.48" cy="624.90" r="1.2" fill="#3d4ab6"/>
<circle cx="163.50" cy="623.90" r="1.2" fill="#3d4ab6"/>
<circle cx="167.52" cy="621.00" r="1.2" fill="#3d4ab6"/>
<circle cx="171.54" cy="600.90" r="1.2" fill="#3d4ab6"/>
<circle cx="175.56" cy="612.70" r="1.2" fill="#3d4ab6"/>
<circle cx="179.58" cy="612.40" r="1.2" fill="#3d4ab6"/>
<circle cx="183.60" cy="617.30" r="1.2" fill="#3d4ab6"/>
<circle cx="187.62" cy="620.60" r="1.2" fill="#3d4ab6"/>
<circle cx="191.64" cy="621.00" r="1.2" fill="#3d4ab6"/>
<circle cx="195.66" cy="604.00" r="1.2" fill="#3d4ab6"/>
<circle cx="199.68" cy="613.80" r="1.2" fill="#3d4ab6"/>
<circle cx="203.70" cy="612.40" r="1.2" fill="#3d4ab6"/>
<circle cx="207.72" cy="628.50" r="1.2" fill="#3d4ab6"/>
<rect x="39.00" y="557.00" width="176.90" height="114.40" fill="none" stroke="#000" stroke-width="1"/>
<line x1="36.80" y1="670.00" x2="39.00" y2="670.00" stroke="#000" stroke-width="1"/>
<text x="22.67" y="672.90" font-size="9.2" fill="#000" textLength="11.57" lengthAdjust="spacingAndGlyphs" stroke="#000" stroke-width="0.25">0.8</text>
<line x1="36.80" y1="656.90" x2="39.00" y2="656.90" stroke="#000" stroke-width="1"/>
<text x="22.31" y="659.80" font-size="9.2" fill="#000" textLength="11.93" lengthAdjust="spacingAndGlyphs" stroke="#000" stroke-width="0.25">1.0</text>
<line x1="36.80" y1="643.80" x2="39.00" y2="643.80" stroke="#000" stroke-width="1"/>
<text x="22.31" y="646.70" font-size="9.2" fill="#000" textLength="12.03" lengthAdjust="spacingAndGlyphs" stroke="#000" stroke-width="0.25">1.2</text>
<line x1="36.80" y1="630.70" x2="39.00" y2="630.70" stroke="#000" stroke-width="1"/>
<text x="22.32" y="633.60" font-size="9.2" fill="#000" textLength="11.84" lengthAdjust="spacingAndGlyphs" stroke="#000" stroke-width="0.25">1.4</text>
<line x1="36.80" y1="617.60" x2="39.00" y2="617.60" stroke="#000" stroke-width="1"/>
<text x="22.31" y="620.50" font-size="9.2" fill="#000" textLength="11.93" lengthAdjust="spacingAndGlyphs" stroke="#000" stroke-width="0.25">1.6</text>
<line x1="36.80" y1="604.50" x2="39.00" y2="604.50" stroke="#000" stroke-width="1"/>
<text x="22.31" y="607.40" font-size="9.2" fill="#000" textLength="11.93" lengthAdjust="spacingAndGlyphs" stroke="#000" stroke-width="0.25">1.8</text>
<line x1="36.80" y1="591.40" x2="39.00" y2="591.40" stroke="#000" stroke-width="1"/>
<text x="22.58" y="594.30" font-size="9.2" fill="#000" textLength="11.66" lengthAdjust="spacingAndGlyphs" stroke="#000" stroke-width="0.25">2.0</text>
<line x1="36.80" y1="578.30" x2="39.00" y2="578.30" stroke="#000" stroke-width="1"/>
<text x="22.58" y="581.20" font-size="9.2" fill="#000" textLength="11.75" lengthAdjust="spacingAndGlyphs" stroke="#000" stroke-width="0.25">2.2</text>
<line x1="36.80" y1="565.20" x2="39.00" y2="565.20" stroke="#000" stroke-width="1"/>
<text x="22.58" y="568.10" font-size="9.2" fill="#000" textLength="11.57" lengthAdjust="spacingAndGlyphs" stroke="#000" stroke-width="0.25">2.4</text>
<line x1="42.90" y1="671.40" x2="42.90" y2="673.60" stroke="#000" stroke-width="0.9"/>
<text x="40.39" y="681.50" font-size="9.2" fill="#000" textLength="4.98" lengthAdjust="spacingAndGlyphs" stroke="#000" stroke-width="0.25">0</text>
<line x1="63.00" y1="671.40" x2="63.00" y2="673.60" stroke="#000" stroke-width="0.9"/>
<text x="60.48" y="681.50" font-size="9.2" fill="#000" textLength="5.09" lengthAdjust="spacingAndGlyphs" stroke="#000" stroke-width="0.25">5</text>
<line x1="83.10" y1="671.40" x2="83.10" y2="673.60" stroke="#000" stroke-width="0.9"/>
<text x="78.11" y="681.50" font-size="9.2" fill="#000" textLength="9.66" lengthAdjust="spacingAndGlyphs" stroke="#000" stroke-width="0.25">10</text>
<line x1="103.20" y1="671.40" x2="103.20" y2="673.60" stroke="#000" stroke-width="0.9"/>
<text x="98.21" y="681.50" font-size="9.2" fill="#000" textLength="9.66" lengthAdjust="spacingAndGlyphs" stroke="#000" stroke-width="0.25">15</text>
<line x1="123.30" y1="671.40" x2="123.30" y2="673.60" stroke="#000" stroke-width="0.9"/>
<text x="118.58" y="681.50" font-size="9.2" fill="#000" textLength="9.38" lengthAdjust="spacingAndGlyphs" stroke="#000" stroke-width="0.25">20</text>
<line x1="143.40" y1="671.40" x2="143.40" y2="673.60" stroke="#000" stroke-width="0.9"/>
<text x="138.68" y="681.50" font-size="9.2" fill="#000" textLength="9.38" lengthAdjust="spacingAndGlyphs" stroke="#000" stroke-width="0.25">25</text>
<line x1="163.50" y1="671.40" x2="163.50" y2="673.60" stroke="#000" stroke-width="0.9"/>
<text x="158.87" y="681.50" font-size="9.2" fill="#000" textLength="9.29" lengthAdjust="spacingAndGlyphs" stroke="#000" stroke-width="0.25">30</text>
<line x1="183.60" y1="671.40" x2="183.60" y2="673.60" stroke="#000" stroke-width="0.9"/>
<text x="178.97" y="681.50" font-size="9.2" fill="#000" textLength="9.29" lengthAdjust="spacingAndGlyphs" stroke="#000" stroke-width="0.25">35</text>
<line x1="203.70" y1="671.40" x2="203.70" y2="673.60" stroke="#000" stroke-width="0.9"/>
<text x="199.24" y="681.50" font-size="9.2" fill="#000" textLength="9.11" lengthAdjust="spacingAndGlyphs" stroke="#000" stroke-width="0.25">40</text>
<text x="0" y="0" font-size="10.5" fill="#000" font-weight="bold" stroke="#000" stroke-width="0.25" textLength="87.85" lengthAdjust="spacingAndGlyphs" transform="translate(17.20,656.84) rotate(-90)">mean enrichment</text>
<text x="77.26" y="691.40" font-size="10.5" fill="#000" font-weight="bold" stroke="#000" stroke-width="0.25" textLength="96.34" lengthAdjust="spacingAndGlyphs">motif start position</text>
<line x1="276.50" y1="660.60" x2="453.50" y2="660.60" stroke="#e13228" stroke-width="1.1"/>
<line x1="284.58" y1="562.00" x2="284.58" y2="574.70" stroke="#999999" stroke-width="0.9"/>
<line x1="283.38" y1="562.00" x2="285.78" y2="562.00" stroke="#999999" stroke-width="0.8"/>
<line x1="283.38" y1="574.70" x2="285.78" y2="574.70" stroke="#999999" stroke-width="0.8"/>
<line x1="288.06" y1="565.10" x2="288.06" y2="578.60" stroke="#999999" stroke-width="0.9"/>
<line x1="286.86" y1="565.10" x2="289.26" y2="565.10" stroke="#999999" stroke-width="0.8"/>
<line x1="286.86" y1="578.60" x2="289.26" y2="578.60" stroke="#999999" stroke-width="0.8"/>
<line x1="291.54" y1="590.50" x2="291.54" y2="605.00" stroke="#999999" stroke-width="0.9"/>
<line x1="290.34" y1="590.50" x2="292.74" y2="590.50" stroke="#999999" stroke-width="0.8"/>
<line x1="290.34" y1="605.00" x2="292.74" y2="605.00" stroke="#999999" stroke-width="0.8"/>
<line x1="295.02" y1="589.40" x2="295.02" y2="602.40" stroke="#999999" stroke-width="0.9"/>
<line x1="293.82" y1="589.40" x2="296.22" y2="589.40" stroke="#999999" stroke-width="0.8"/>
<line x1="293.82" y1="602.40" x2="296.22" y2="602.40" stroke="#999999" stroke-width="0.8"/>
<line x1="298.50" y1="593.70" x2="298.50" y2="607.20" stroke="#999999" stroke-width="0.9"/>
<line x1="297.30" y1="593.70" x2="299.70" y2="593.70" stroke="#999999" stroke-width="0.8"/>
<line x1="297.30" y1="607.20" x2="299.70" y2="607.20" stroke="#999999" stroke-width="0.8"/>
<line x1="301.98" y1="608.80" x2="301.98" y2="623.10" stroke="#999999" stroke-width="0.9"/>
<line x1="300.78" y1="608.80" x2="303.18" y2="608.80" stroke="#999999" stroke-width="0.8"/>
<line x1="300.78" y1="623.10" x2="303.18" y2="623.10" stroke="#999999" stroke-width="0.8"/>
<line x1="305.46" y1="626.60" x2="305.46" y2="640.50" stroke="#999999" stroke-width="0.9"/>
<line x1="304.26" y1="626.60" x2="306.66" y2="626.60" stroke="#999999" stroke-width="0.8"/>
<line x1="304.26" y1="640.50" x2="306.66" y2="640.50" stroke="#999999" stroke-width="0.8"/>
<line x1="308.94" y1="619.10" x2="308.94" y2="632.60" stroke="#999999" stroke-width="0.9"/>
<line x1="307.74" y1="619.10" x2="310.14" y2="619.10" stroke="#999999" stroke-width="0.8"/>
<line x1="307.74" y1="632.60" x2="310.14" y2="632.60" stroke="#999999" stroke-width="0.8"/>
<line x1="312.42" y1="623.40" x2="312.42" y2="638.00" stroke="#999999" stroke-width="0.9"/>
<line x1="311.22" y1="623.40" x2="313.62" y2="623.40" stroke="#999999" stroke-width="0.8"/>
<line x1="311.22" y1="638.00" x2="313.62" y2="638.00" stroke="#999999" stroke-width="0.8"/>
<line x1="315.90" y1="628.50" x2="315.90" y2="642.50" stroke="#999999" stroke-width="0.9"/>
<line x1="314.70" y1="628.50" x2="317.10" y2="628.50" stroke="#999999" stroke-width="0.8"/>
<line x1="314.70" y1="642.50" x2="317.10" y2="642.50" stroke="#999999" stroke-width="0.8"/>
<line x1="319.38" y1="620.90" x2="319.38" y2="635.00" stroke="#999999" stroke-width="0.9"/>
<line x1="318.18" y1="620.90" x2="320.58" y2="620.90" stroke="#999999" stroke-width="0.8"/>
<line x1="318.18" y1="635.00" x2="320.58" y2="635.00" stroke="#999999" stroke-width="0.8"/>
<line x1="322.86" y1="618.10" x2="322.86" y2="633.10" stroke="#999999" stroke-width="0.9"/>
<line x1="321.66" y1="618.10" x2="324.06" y2="618.10" stroke="#999999" stroke-width="0.8"/>
<line x1="321.66" y1="633.10" x2="324.06" y2="633.10" stroke="#999999" stroke-width="0.8"/>
<line x1="326.34" y1="630.80" x2="326.34" y2="645.00" stroke="#999999" stroke-width="0.9"/>
<line x1="325.14" y1="630.80" x2="327.54" y2="630.80" stroke="#999999" stroke-width="0.8"/>
<line x1="325.14" y1="645.00" x2="327.54" y2="645.00" stroke="#999999" stroke-width="0.8"/>
<line x1="329.82" y1="623.20" x2="329.82" y2="638.40" stroke="#999999" stroke-width="0.9"/>
<line x1="328.62" y1="623.20" x2="331.02" y2="623.20" stroke="#999999" stroke-width="0.8"/>
<line x1="328.62" y1="638.40" x2="331.02" y2="638.40" stroke="#999999" stroke-width="0.8"/>
<line x1="333.30" y1="624.70" x2="333.30" y2="639.40" stroke="#999999" stroke-width="0.9"/>
<line x1="332.10" y1="624.70" x2="334.50" y2="624.70" stroke="#999999" stroke-width="0.8"/>
<line x1="332.10" y1="639.40" x2="334.50" y2="639.40" stroke="#999999" stroke-width="0.8"/>
<line x1="336.78" y1="622.50" x2="336.78" y2="636.50" stroke="#999999" stroke-width="0.9"/>
<line x1="335.58" y1="622.50" x2="337.98" y2="622.50" stroke="#999999" stroke-width="0.8"/>
<line x1="335.58" y1="636.50" x2="337.98" y2="636.50" stroke="#999999" stroke-width="0.8"/>
<line x1="340.26" y1="610.70" x2="340.26" y2="625.70" stroke="#999999" stroke-width="0.9"/>
<line x1="339.06" y1="610.70" x2="341.46" y2="610.70" stroke="#999999" stroke-width="0.8"/>
<line x1="339.06" y1="625.70" x2="341.46" y2="625.70" stroke="#999999" stroke-width="0.8"/>
<line x1="343.74" y1="623.80" x2="343.74" y2="638.70" stroke="#999999" stroke-width="0.9"/>
<line x1="342.54" y1="623.80" x2="344.94" y2="623.80" stroke="#999999" stroke-width="0.8"/>
<line x1="342.54" y1="638.70" x2="344.94" y2="638.70" stroke="#999999" stroke-width="0.8"/>
<line x1="347.22" y1="630.50" x2="347.22" y2="645.00" stroke="#999999" stroke-width="0.9"/>
<line x1="346.02" y1="630.50" x2="348.42" y2="630.50" stroke="#999999" stroke-width="0.8"/>
<line x1="346.02" y1="645.00" x2="348.42" y2="645.00" stroke="#999999" stroke-width="0.8"/>
<line x1="350.70" y1="613.30" x2="350.70" y2="628.30" stroke="#999999" stroke-width="0.9"/>
<line x1="349.50" y1="613.30" x2="351.90" y2="613.30" stroke="#999999" stroke-width="0.8"/>
<line x1="349.50" y1="628.30" x2="351.90" y2="628.30" stroke="#999999" stroke-width="0.8"/>
<line x1="354.18" y1="628.00" x2="354.18" y2="642.20" stroke="#999999" stroke-width="0.9"/>
<line x1="352.98" y1="628.00" x2="355.38" y2="628.00" stroke="#999999" stroke-width="0.8"/>
<line x1="352.98" y1="642.20" x2="355.38" y2="642.20" stroke="#999999" stroke-width="0.8"/>
<line x1="357.66" y1="619.40" x2="357.66" y2="634.00" stroke="#999999" stroke-width="0.9"/>
<line x1="356.46" y1="619.40" x2="358.86" y2="619.40" stroke="#999999" stroke-width="0.8"/>
<line x1="356.46" y1="634.00" x2="358.86" y2="634.00" stroke="#999999" stroke-width="0.8"/>
<line x1="361.14" y1="632.10" x2="361.14" y2="646.00" stroke="#999999" stroke-width="0.9"/>
<line x1="359.94" y1="632.10" x2="362.34" y2="632.10" stroke="#999999" stroke-width="0.8"/>
<line x1="359.94" y1="646.00" x2="362.34" y2="646.00" stroke="#999999" stroke-width="0.8"/>
<line x1="364.62" y1="628.50" x2="364.62" y2="643.00" stroke="#999999" stroke-width="0.9"/>
<line x1="363.42" y1="628.50" x2="365.82" y2="628.50" stroke="#999999" stroke-width="0.8"/>
<line x1="363.42" y1="643.00" x2="365.82" y2="643.00" stroke="#999999" stroke-width="0.8"/>
<line x1="368.10" y1="622.50" x2="368.10" y2="637.10" stroke="#999999" stroke-width="0.9"/>
<line x1="366.90" y1="622.50" x2="369.30" y2="622.50" stroke="#999999" stroke-width="0.8"/>
<line x1="366.90" y1="637.10" x2="369.30" y2="637.10" stroke="#999999" stroke-width="0.8"/>
<line x1="371.58" y1="631.50" x2="371.58" y2="646.00" stroke="#999999" stroke-width="0.9"/>
<line x1="370.38" y1="631.50" x2="372.78" y2="631.50" stroke="#999999" stroke-width="0.8"/>
<line x1="370.38" y1="646.00" x2="372.78" y2="646.00" stroke="#999999" stroke-width="0.8"/>
<line x1="375.06" y1="625.10" x2="375.06" y2="639.00" stroke="#999999" stroke-width="0.9"/>
<line x1="373.86" y1="625.10" x2="376.26" y2="625.10" stroke="#999999" stroke-width="0.8"/>
<line x1="373.86" y1="639.00" x2="376.26" y2="639.00" stroke="#999999" stroke-width="0.8"/>
<line x1="378.54" y1="632.00" x2="378.54" y2="646.00" stroke="#999999" stroke-width="0.9"/>
<line x1="377.34" y1="632.00" x2="379.74" y2="632.00" stroke="#999999" stroke-width="0.8"/>
<line x1="377.34" y1="646.00" x2="379.74" y2="646.00" stroke="#999999" stroke-width="0.8"/>
<line x1="382.02" y1="618.30" x2="382.02" y2="633.30" stroke="#999999" stroke-width="0.9"/>
<line x1="380.82" y1="618.30" x2="383.22" y2="618.30" stroke="#999999" stroke-width="0.8"/>
<line x1="380.82" y1="633.30" x2="383.22" y2="633.30" stroke="#999999" stroke-width="0.8"/>
<line x1="385.50" y1="625.00" x2="385.50" y2="639.50" stroke="#999999" stroke-width="0.9"/>
<line x1="384.30" y1="625.00" x2="386.70" y2="625.00" stroke="#999999" stroke-width="0.8"/>
<line x1="384.30" y1="639.50" x2="386.70" y2="639.50" stroke="#999999" stroke-width="0.8"/>
<line x1="388.98" y1="620.00" x2="388.98" y2="634.60" stroke="#999999" stroke-width="0.9"/>
<line x1="387.78" y1="620.00" x2="390.18" y2="620.00" stroke="#999999" stroke-width="0.8"/>
<line x1="387.78" y1="634.60" x2="390.18" y2="634.60" stroke="#999999" stroke-width="0.8"/>
<line x1="392.46" y1="629.80" x2="392.46" y2="644.10" stroke="#999999" stroke-width="0.9"/>
<line x1="391.26" y1="629.80" x2="393.66" y2="629.80" stroke="#999999" stroke-width="0.8"/>
<line x1="391.26" y1="644.10" x2="393.66" y2="644.10" stroke="#999999" stroke-width="0.8"/>
<line x1="395.94" y1="617.10" x2="395.94" y2="632.10" stroke="#999999" stroke-width="0.9"/>
<line x1="394.74" y1="617.10" x2="397.14" y2="617.10" stroke="#999999" stroke-width="0.8"/>
<line x1="394.74" y1="632.10" x2="397.14" y2="632.10" stroke="#999999" stroke-width="0.8"/>
<line x1="399.42" y1="620.40" x2="399.42" y2="635.90" stroke="#999999" stroke-width="0.9"/>
<line x1="398.22" y1="620.40" x2="400.62" y2="620.40" stroke="#999999" stroke-width="0.8"/>
<line x1="398.22" y1="635.90" x2="400.62" y2="635.90" stroke="#999999" stroke-width="0.8"/>
<line x1="402.90" y1="625.70" x2="402.90" y2="640.30" stroke="#999999" stroke-width="0.9"/>
<line x1="401.70" y1="625.70" x2="404.10" y2="625.70" stroke="#999999" stroke-width="0.8"/>
<line x1="401.70" y1="640.30" x2="404.10" y2="640.30" stroke="#999999" stroke-width="0.8"/>
<line x1="406.38" y1="627.20" x2="406.38" y2="642.20" stroke="#999999" stroke-width="0.9"/>
<line x1="405.18" y1="627.20" x2="407.58" y2="627.20" stroke="#999999" stroke-width="0.8"/>
<line x1="405.18" y1="642.20" x2="407.58" y2="642.20" stroke="#999999" stroke-width="0.8"/>
<line x1="409.86" y1="617.50" x2="409.86" y2="632.30" stroke="#999999" stroke-width="0.9"/>
<line x1="408.66" y1="617.50" x2="411.06" y2="617.50" stroke="#999999" stroke-width="0.8"/>
<line x1="408.66" y1="632.30" x2="411.06" y2="632.30" stroke="#999999" stroke-width="0.8"/>
<line x1="413.34" y1="614.00" x2="413.34" y2="628.30" stroke="#999999" stroke-width="0.9"/>
<line x1="412.14" y1="614.00" x2="414.54" y2="614.00" stroke="#999999" stroke-width="0.8"/>
<line x1="412.14" y1="628.30" x2="414.54" y2="628.30" stroke="#999999" stroke-width="0.8"/>
<line x1="416.82" y1="620.90" x2="416.82" y2="635.90" stroke="#999999" stroke-width="0.9"/>
<line x1="415.62" y1="620.90" x2="418.02" y2="620.90" stroke="#999999" stroke-width="0.8"/>
<line x1="415.62" y1="635.90" x2="418.02" y2="635.90" stroke="#999999" stroke-width="0.8"/>
<line x1="420.30" y1="615.30" x2="420.30" y2="629.80" stroke="#999999" stroke-width="0.9"/>
<line x1="419.10" y1="615.30" x2="421.50" y2="615.30" stroke="#999999" stroke-width="0.8"/>
<line x1="419.10" y1="629.80" x2="421.50" y2="629.80" stroke="#999999" stroke-width="0.8"/>
<line x1="423.78" y1="627.60" x2="423.78" y2="642.90" stroke="#999999" stroke-width="0.9"/>
<line x1="422.58" y1="627.60" x2="424.98" y2="627.60" stroke="#999999" stroke-width="0.8"/>
<line x1="422.58" y1="642.90" x2="424.98" y2="642.90" stroke="#999999" stroke-width="0.8"/>
<line x1="427.26" y1="619.60" x2="427.26" y2="634.00" stroke="#999999" stroke-width="0.9"/>
<line x1="426.06" y1="619.60" x2="428.46" y2="619.60" stroke="#999999" stroke-width="0.8"/>
<line x1="426.06" y1="634.00" x2="428.46" y2="634.00" stroke="#999999" stroke-width="0.8"/>
<line x1="430.74" y1="615.60" x2="430.74" y2="630.20" stroke="#999999" stroke-width="0.9"/>
<line x1="429.54" y1="615.60" x2="431.94" y2="615.60" stroke="#999999" stroke-width="0.8"/>
<line x1="429.54" y1="630.20" x2="431.94" y2="630.20" stroke="#999999" stroke-width="0.8"/>
<line x1="434.22" y1="637.10" x2="434.22" y2="651.10" stroke="#999999" stroke-width="0.9"/>
<line x1="433.02" y1="637.10" x2="435.42" y2="637.10" stroke="#999999" stroke-width="0.8"/>
<line x1="433.02" y1="651.10" x2="435.42" y2="651.10" stroke="#999999" stroke-width="0.8"/>
<line x1="437.70" y1="652.40" x2="437.70" y2="666.30" stroke="#999999" stroke-width="0.9"/>
<line x1="436.50" y1="652.40" x2="438.90" y2="652.40" stroke="#999999" stroke-width="0.8"/>
<line x1="436.50" y1="666.30" x2="438.90" y2="666.30" stroke="#999999" stroke-width="0.8"/>
<line x1="441.18" y1="645.00" x2="441.18" y2="660.30" stroke="#999999" stroke-width="0.9"/>
<line x1="439.98" y1="645.00" x2="442.38" y2="645.00" stroke="#999999" stroke-width="0.8"/>
<line x1="439.98" y1="660.30" x2="442.38" y2="660.30" stroke="#999999" stroke-width="0.8"/>
<line x1="444.66" y1="643.00" x2="444.66" y2="659.00" stroke="#999999" stroke-width="0.9"/>
<line x1="443.46" y1="643.00" x2="445.86" y2="643.00" stroke="#999999" stroke-width="0.8"/>
<line x1="443.46" y1="659.00" x2="445.86" y2="659.00" stroke="#999999" stroke-width="0.8"/>
<line x1="284.58" y1="587.60" x2="284.58" y2="596.60" stroke="#999999" stroke-width="0.9"/>
<line x1="283.38" y1="587.60" x2="285.78" y2="587.60" stroke="#999999" stroke-width="0.8"/>
<line x1="283.38" y1="596.60" x2="285.78" y2="596.60" stroke="#999999" stroke-width="0.8"/>
<line x1="288.06" y1="591.60" x2="288.06" y2="600.60" stroke="#999999" stroke-width="0.9"/>
<line x1="286.86" y1="591.60" x2="289.26" y2="591.60" stroke="#999999" stroke-width="0.8"/>
<line x1="286.86" y1="600.60" x2="289.26" y2="600.60" stroke="#999999" stroke-width="0.8"/>
<line x1="291.54" y1="605.10" x2="291.54" y2="614.10" stroke="#999999" stroke-width="0.9"/>
<line x1="290.34" y1="605.10" x2="292.74" y2="605.10" stroke="#999999" stroke-width="0.8"/>
<line x1="290.34" y1="614.10" x2="292.74" y2="614.10" stroke="#999999" stroke-width="0.8"/>
<line x1="295.02" y1="625.20" x2="295.02" y2="634.20" stroke="#999999" stroke-width="0.9"/>
<line x1="293.82" y1="625.20" x2="296.22" y2="625.20" stroke="#999999" stroke-width="0.8"/>
<line x1="293.82" y1="634.20" x2="296.22" y2="634.20" stroke="#999999" stroke-width="0.8"/>
<line x1="298.50" y1="628.40" x2="298.50" y2="637.40" stroke="#999999" stroke-width="0.9"/>
<line x1="297.30" y1="628.40" x2="299.70" y2="628.40" stroke="#999999" stroke-width="0.8"/>
<line x1="297.30" y1="637.40" x2="299.70" y2="637.40" stroke="#999999" stroke-width="0.8"/>
<line x1="301.98" y1="636.80" x2="301.98" y2="645.80" stroke="#999999" stroke-width="0.9"/>
<line x1="300.78" y1="636.80" x2="303.18" y2="636.80" stroke="#999999" stroke-width="0.8"/>
<line x1="300.78" y1="645.80" x2="303.18" y2="645.80" stroke="#999999" stroke-width="0.8"/>
<line x1="305.46" y1="641.10" x2="305.46" y2="650.10" stroke="#999999" stroke-width="0.9"/>
<line x1="304.26" y1="641.10" x2="306.66" y2="641.10" stroke="#999999" stroke-width="0.8"/>
<line x1="304.26" y1="650.10" x2="306.66" y2="650.10" stroke="#999999" stroke-width="0.8"/>
<line x1="308.94" y1="643.70" x2="308.94" y2="652.70" stroke="#999999" stroke-width="0.9"/>
<line x1="307.74" y1="643.70" x2="310.14" y2="643.70" stroke="#999999" stroke-width="0.8"/>
<line x1="307.74" y1="652.70" x2="310.14" y2="652.70" stroke="#999999" stroke-width="0.8"/>
<line x1="312.42" y1="648.40" x2="312.42" y2="657.40" stroke="#999999" stroke-width="0.9"/>
<line x1="311.22" y1="648.40" x2="313.62" y2="648.40" stroke="#999999" stroke-width="0.8"/>
<line x1="311.22" y1="657.40" x2="313.62" y2="657.40" stroke="#999999" stroke-width="0.8"/>
<line x1="315.90" y1="640.50" x2="315.90" y2="649.50" stroke="#999999" stroke-width="0.9"/>
<line x1="314.70" y1="640.50" x2="317.10" y2="640.50" stroke="#999999" stroke-width="0.8"/>
<line x1="314.70" y1="649.50" x2="317.10" y2="649.50" stroke="#999999" stroke-width="0.8"/>
<line x1="319.38" y1="636.60" x2="319.38" y2="645.60" stroke="#999999" stroke-width="0.9"/>
<line x1="318.18" y1="636.60" x2="320.58" y2="636.60" stroke="#999999" stroke-width="0.8"/>
<line x1="318.18" y1="645.60" x2="320.58" y2="645.60" stroke="#999999" stroke-width="0.8"/>
<line x1="322.86" y1="636.20" x2="322.86" y2="645.20" stroke="#999999" stroke-width="0.9"/>
<line x1="321.66" y1="636.20" x2="324.06" y2="636.20" stroke="#999999" stroke-width="0.8"/>
<line x1="321.66" y1="645.20" x2="324.06" y2="645.20" stroke="#999999" stroke-width="0.8"/>
<line x1="326.34" y1="640.30" x2="326.34" y2="649.30" stroke="#999999" stroke-width="0.9"/>
<line x1="325.14" y1="640.30" x2="327.54" y2="640.30" stroke="#999999" stroke-width="0.8"/>
<line x1="325.14" y1="649.30" x2="327.54" y2="649.30" stroke="#999999" stroke-width="0.8"/>
<line x1="329.82" y1="637.70" x2="329.82" y2="646.70" stroke="#999999" stroke-width="0.9"/>
<line x1="328.62" y1="637.70" x2="331.02" y2="637.70" stroke="#999999" stroke-width="0.8"/>
<line x1="328.62" y1="646.70" x2="331.02" y2="646.70" stroke="#999999" stroke-width="0.8"/>
<line x1="333.30" y1="646.00" x2="333.30" y2="655.00" stroke="#999999" stroke-width="0.9"/>
<line x1="332.10" y1="646.00" x2="334.50" y2="646.00" stroke="#999999" stroke-width="0.8"/>
<line x1="332.10" y1="655.00" x2="334.50" y2="655.00" stroke="#999999" stroke-width="0.8"/>
<line x1="336.78" y1="644.70" x2="336.78" y2="653.70" stroke="#999999" stroke-width="0.9"/>
<line x1="335.58" y1="644.70" x2="337.98" y2="644.70" stroke="#999999" stroke-width="0.8"/>
<line x1="335.58" y1="653.70" x2="337.98" y2="653.70" stroke="#999999" stroke-width="0.8"/>
<line x1="340.26" y1="643.40" x2="340.26" y2="652.40" stroke="#999999" stroke-width="0.9"/>
<line x1="339.06" y1="643.40" x2="341.46" y2="643.40" stroke="#999999" stroke-width="0.8"/>
<line x1="339.06" y1="652.40" x2="341.46" y2="652.40" stroke="#999999" stroke-width="0.8"/>
<line x1="343.74" y1="641.80" x2="343.74" y2="650.80" stroke="#999999" stroke-width="0.9"/>
<line x1="342.54" y1="641.80" x2="344.94" y2="641.80" stroke="#999999" stroke-width="0.8"/>
<line x1="342.54" y1="650.80" x2="344.94" y2="650.80" stroke="#999999" stroke-width="0.8"/>
<line x1="347.22" y1="637.10" x2="347.22" y2="646.10" stroke="#999999" stroke-width="0.9"/>
<line x1="346.02" y1="637.10" x2="348.42" y2="637.10" stroke="#999999" stroke-width="0.8"/>
<line x1="346.02" y1="646.10" x2="348.42" y2="646.10" stroke="#999999" stroke-width="0.8"/>
<line x1="350.70" y1="638.70" x2="350.70" y2="647.70" stroke="#999999" stroke-width="0.9"/>
<line x1="349.50" y1="638.70" x2="351.90" y2="638.70" stroke="#999999" stroke-width="0.8"/>
<line x1="349.50" y1="647.70" x2="351.90" y2="647.70" stroke="#999999" stroke-width="0.8"/>
<line x1="354.18" y1="640.30" x2="354.18" y2="649.30" stroke="#999999" stroke-width="0.9"/>
<line x1="352.98" y1="640.30" x2="355.38" y2="640.30" stroke="#999999" stroke-width="0.8"/>
<line x1="352.98" y1="649.30" x2="355.38" y2="649.30" stroke="#999999" stroke-width="0.8"/>
<line x1="357.66" y1="639.60" x2="357.66" y2="648.60" stroke="#999999" stroke-width="0.9"/>
<line x1="356.46" y1="639.60" x2="358.86" y2="639.60" stroke="#999999" stroke-width="0.8"/>
<line x1="356.46" y1="648.60" x2="358.86" y2="648.60" stroke="#999999" stroke-width="0.8"/>
<line x1="361.14" y1="644.10" x2="361.14" y2="653.10" stroke="#999999" stroke-width="0.9"/>
<line x1="359.94" y1="644.10" x2="362.34" y2="644.10" stroke="#999999" stroke-width="0.8"/>
<line x1="359.94" y1="653.10" x2="362.34" y2="653.10" stroke="#999999" stroke-width="0.8"/>
<line x1="364.62" y1="644.10" x2="364.62" y2="653.10" stroke="#999999" stroke-width="0.9"/>
<line x1="363.42" y1="644.10" x2="365.82" y2="644.10" stroke="#999999" stroke-width="0.8"/>
<line x1="363.42" y1="653.10" x2="365.82" y2="653.10" stroke="#999999" stroke-width="0.8"/>
<line x1="368.10" y1="650.70" x2="368.10" y2="659.70" stroke="#999999" stroke-width="0.9"/>
<line x1="366.90" y1="650.70" x2="369.30" y2="650.70" stroke="#999999" stroke-width="0.8"/>
<line x1="366.90" y1="659.70" x2="369.30" y2="659.70" stroke="#999999" stroke-width="0.8"/>
<line x1="371.58" y1="645.10" x2="371.58" y2="654.10" stroke="#999999" stroke-width="0.9"/>
<line x1="370.38" y1="645.10" x2="372.78" y2="645.10" stroke="#999999" stroke-width="0.8"/>
<line x1="370.38" y1="654.10" x2="372.78" y2="654.10" stroke="#999999" stroke-width="0.8"/>
<line x1="375.06" y1="633.70" x2="375.06" y2="642.70" stroke="#999999" stroke-width="0.9"/>
<line x1="373.86" y1="633.70" x2="376.26" y2="633.70" stroke="#999999" stroke-width="0.8"/>
<line x1="373.86" y1="642.70" x2="376.26" y2="642.70" stroke="#999999" stroke-width="0.8"/>
<line x1="378.54" y1="638.40" x2="378.54" y2="647.40" stroke="#999999" stroke-width="0.9"/>
<line x1="377.34" y1="638.40" x2="379.74" y2="638.40" stroke="#999999" stroke-width="0.8"/>
<line x1="377.34" y1="647.40" x2="379.74" y2="647.40" stroke="#999999" stroke-width="0.8"/>
<line x1="382.02" y1="636.20" x2="382.02" y2="645.20" stroke="#999999" stroke-width="0.9"/>
<line x1="380.82" y1="636.20" x2="383.22" y2="636.20" stroke="#999999" stroke-width="0.8"/>
<line x1="380.82" y1="645.20" x2="383.22" y2="645.20" stroke="#999999" stroke-width="0.8"/>
<line x1="385.50" y1="631.10" x2="385.50" y2="640.10" stroke="#999999" stroke-width="0.9"/>
<line x1="384.30" y1="631.10" x2="386.70" y2="631.10" stroke="#999999" stroke-width="0.8"/>
<line x1="384.30" y1="640.10" x2="386.70" y2="640.10" stroke="#999999" stroke-width="0.8"/>
<line x1="388.98" y1="634.90" x2="388.98" y2="643.90" stroke="#999999" stroke-width="0.9"/>
<line x1="387.78" y1="634.90" x2="390.18" y2="634.90" stroke="#999999" stroke-width="0.8"/>
<line x1="387.78" y1="643.90" x2="390.18" y2="643.90" stroke="#999999" stroke-width="0.8"/>
<line x1="392.46" y1="634.20" x2="392.46" y2="643.20" stroke="#999999" stroke-width="0.9"/>
<line x1="391.26" y1="634.20" x2="393.66" y2="634.20" stroke="#999999" stroke-width="0.8"/>
<line x1="391.26" y1="643.20" x2="393.66" y2="643.20" stroke="#999999" stroke-width="0.8"/>
<line x1="395.94" y1="633.70" x2="395.94" y2="642.70" stroke="#999999" stroke-width="0.9"/>
<line x1="394.74" y1="633.70" x2="397.14" y2="633.70" stroke="#999999" stroke-width="0.8"/>
<line x1="394.74" y1="642.70" x2="397.14" y2="642.70" stroke="#999999" stroke-width="0.8"/>
<line x1="399.42" y1="639.60" x2="399.42" y2="648.60" stroke="#999999" stroke-width="0.9"/>
<line x1="398.22" y1="639.60" x2="400.62" y2="639.60" stroke="#999999" stroke-width="0.8"/>
<line x1="398.22" y1="648.60" x2="400.62" y2="648.60" stroke="#999999" stroke-width="0.8"/>
<line x1="402.90" y1="637.10" x2="402.90" y2="646.10" stroke="#999999" stroke-width="0.9"/>
<line x1="401.70" y1="637.10" x2="404.10" y2="637.10" stroke="#999999" stroke-width="0.8"/>
<line x1="401.70" y1="646.10" x2="404.10" y2="646.10" stroke="#999999" stroke-width="0.8"/>
<line x1="406.38" y1="637.10" x2="406.38" y2="646.10" stroke="#999999" stroke-width="0.9"/>
<line x1="405.18" y1="637.10" x2="407.58" y2="637.10" stroke="#999999" stroke-width="0.8"/>
<line x1="405.18" y1="646.10" x2="407.58" y2="646.10" stroke="#999999" stroke-width="0.8"/>
<line x1="409.86" y1="627.80" x2="409.86" y2="636.80" stroke="#999999" stroke-width="0.9"/>
<line x1="408.66" y1="627.80" x2="411.06" y2="627.80" stroke="#999999" stroke-width="0.8"/>
<line x1="408.66" y1="636.80" x2="411.06" y2="636.80" stroke="#999999" stroke-width="0.8"/>
<line x1="413.34" y1="636.50" x2="413.34" y2="645.50" stroke="#999999" stroke-width="0.9"/>
<line x1="412.14" y1="636.50" x2="414.54" y2="636.50" stroke="#999999" stroke-width="0.8"/>
<line x1="412.14" y1="645.50" x2="414.54" y2="645.50" stroke="#999999" stroke-width="0.8"/>
<line x1="416.82" y1="637.90" x2="416.82" y2="646.90" stroke="#999999" stroke-width="0.9"/>
<line x1="415.62" y1="637.90" x2="418.02" y2="637.90" stroke="#999999" stroke-width="0.8"/>
<line x1="415.62" y1="646.90" x2="418.02" y2="646.90" stroke="#999999" stroke-width="0.8"/>
<line x1="420.30" y1="639.80" x2="420.30" y2="648.80" stroke="#999999" stroke-width="0.9"/>
<line x1="419.10" y1="639.80" x2="421.50" y2="639.80" stroke="#999999" stroke-width="0.8"/>
<line x1="419.10" y1="648.80" x2="421.50" y2="648.80" stroke="#999999" stroke-width="0.8"/>
<line x1="423.78" y1="637.50" x2="423.78" y2="646.50" stroke="#999999" stroke-width="0.9"/>
<line x1="422.58" y1="637.50" x2="424.98" y2="637.50" stroke="#999999" stroke-width="0.8"/>
<line x1="422.58" y1="646.50" x2="424.98" y2="646.50" stroke="#999999" stroke-width="0.8"/>
<line x1="427.26" y1="638.00" x2="427.26" y2="647.00" stroke="#999999" stroke-width="0.9"/>
<line x1="426.06" y1="638.00" x2="428.46" y2="638.00" stroke="#999999" stroke-width="0.8"/>
<line x1="426.06" y1="647.00" x2="428.46" y2="647.00" stroke="#999999" stroke-width="0.8"/>
<line x1="430.74" y1="637.10" x2="430.74" y2="646.10" stroke="#999999" stroke-width="0.9"/>
<line x1="429.54" y1="637.10" x2="431.94" y2="637.10" stroke="#999999" stroke-width="0.8"/>
<line x1="429.54" y1="646.10" x2="431.94" y2="646.10" stroke="#999999" stroke-width="0.8"/>
<line x1="434.22" y1="637.50" x2="434.22" y2="646.50" stroke="#999999" stroke-width="0.9"/>
<line x1="433.02" y1="637.50" x2="435.42" y2="637.50" stroke="#999999" stroke-width="0.8"/>
<line x1="433.02" y1="646.50" x2="435.42" y2="646.50" stroke="#999999" stroke-width="0.8"/>
<line x1="437.70" y1="650.40" x2="437.70" y2="659.40" stroke="#999999" stroke-width="0.9"/>
<line x1="436.50" y1="650.40" x2="438.90" y2="650.40" stroke="#999999" stroke-width="0.8"/>
<line x1="436.50" y1="659.40" x2="438.90" y2="659.40" stroke="#999999" stroke-width="0.8"/>
<line x1="441.18" y1="650.20" x2="441.18" y2="659.20" stroke="#999999" stroke-width="0.9"/>
<line x1="439.98" y1="650.20" x2="442.38" y2="650.20" stroke="#999999" stroke-width="0.8"/>
<line x1="439.98" y1="659.20" x2="442.38" y2="659.20" stroke="#999999" stroke-width="0.8"/>
<line x1="444.66" y1="638.40" x2="444.66" y2="647.40" stroke="#999999" stroke-width="0.9"/>
<line x1="443.46" y1="638.40" x2="445.86" y2="638.40" stroke="#999999" stroke-width="0.8"/>
<line x1="443.46" y1="647.40" x2="445.86" y2="647.40" stroke="#999999" stroke-width="0.8"/>
<polyline points="284.58,592.10 288.06,596.10 291.54,609.60 295.02,629.70 298.50,632.90 301.98,641.30 305.46,645.60 308.94,648.20 312.42,652.90 315.90,645.00 319.38,641.10 322.86,640.70 326.34,644.80 329.82,642.20 333.30,650.50 336.78,649.20 340.26,647.90 343.74,646.30 347.22,641.60 350.70,643.20 354.18,644.80 357.66,644.10 361.14,648.60 364.62,648.60 368.10,655.20 371.58,649.60 375.06,638.20 378.54,642.90 382.02,640.70 385.50,635.60 388.98,639.40 392.46,638.70 395.94,638.20 399.42,644.10 402.90,641.60 406.38,641.60 409.86,632.30 413.34,641.00 416.82,642.40 420.30,644.30 423.78,642.00 427.26,642.50 430.74,641.60 434.22,642.00 437.70,654.90 441.18,654.70 444.66,642.90" fill="none" stroke="#1e8c3c" stroke-width="1.25"/>
<circle cx="284.58" cy="592.10" r="1.4" fill="#1e8c3c"/>
<circle cx="288.06" cy="596.10" r="1.4" fill="#1e8c3c"/>
<circle cx="291.54" cy="609.60" r="1.4" fill="#1e8c3c"/>
<circle cx="295.02" cy="629.70" r="1.4" fill="#1e8c3c"/>
<circle cx="298.50" cy="632.90" r="1.4" fill="#1e8c3c"/>
<circle cx="301.98" cy="641.30" r="1.4" fill="#1e8c3c"/>
<circle cx="305.46" cy="645.60" r="1.4" fill="#1e8c3c"/>
<circle cx="308.94" cy="648.20" r="1.4" fill="#1e8c3c"/>
<circle cx="312.42" cy="652.90" r="1.4" fill="#1e8c3c"/>
<circle cx="315.90" cy="645.00" r="1.4" fill="#1e8c3c"/>
<circle cx="319.38" cy="641.10" r="1.4" fill="#1e8c3c"/>
<circle cx="322.86" cy="640.70" r="1.4" fill="#1e8c3c"/>
<circle cx="326.34" cy="644.80" r="1.4" fill="#1e8c3c"/>
<circle cx="329.82" cy="642.20" r="1.4" fill="#1e8c3c"/>
<circle cx="333.30" cy="650.50" r="1.4" fill="#1e8c3c"/>
<circle cx="336.78" cy="649.20" r="1.4" fill="#1e8c3c"/>
<circle cx="340.26" cy="647.90" r="1.4" fill="#1e8c3c"/>
<circle cx="343.74" cy="646.30" r="1.4" fill="#1e8c3c"/>
<circle cx="347.22" cy="641.60" r="1.4" fill="#1e8c3c"/>
<circle cx="350.70" cy="643.20" r="1.4" fill="#1e8c3c"/>
<circle cx="354.18" cy="644.80" r="1.4" fill="#1e8c3c"/>
<circle cx="357.66" cy="644.10" r="1.4" fill="#1e8c3c"/>
<circle cx="361.14" cy="648.60" r="1.4" fill="#1e8c3c"/>
<circle cx="364.62" cy="648.60" r="1.4" fill="#1e8c3c"/>
<circle cx="368.10" cy="655.20" r="1.4" fill="#1e8c3c"/>
<circle cx="371.58" cy="649.60" r="1.4" fill="#1e8c3c"/>
<circle cx="375.06" cy="638.20" r="1.4" fill="#1e8c3c"/>
<circle cx="378.54" cy="642.90" r="1.4" fill="#1e8c3c"/>
<circle cx="382.02" cy="640.70" r="1.4" fill="#1e8c3c"/>
<circle cx="385.50" cy="635.60" r="1.4" fill="#1e8c3c"/>
<circle cx="388.98" cy="639.40" r="1.4" fill="#1e8c3c"/>
<circle cx="392.46" cy="638.70" r="1.4" fill="#1e8c3c"/>
<circle cx="395.94" cy="638.20" r="1.4" fill="#1e8c3c"/>
<circle cx="399.42" cy="644.10" r="1.4" fill="#1e8c3c"/>
<circle cx="402.90" cy="641.60" r="1.4" fill="#1e8c3c"/>
<circle cx="406.38" cy="641.60" r="1.4" fill="#1e8c3c"/>
<circle cx="409.86" cy="632.30" r="1.4" fill="#1e8c3c"/>
<circle cx="413.34" cy="641.00" r="1.4" fill="#1e8c3c"/>
<circle cx="416.82" cy="642.40" r="1.4" fill="#1e8c3c"/>
<circle cx="420.30" cy="644.30" r="1.4" fill="#1e8c3c"/>
<circle cx="423.78" cy="642.00" r="1.4" fill="#1e8c3c"/>
<circle cx="427.26" cy="642.50" r="1.4" fill="#1e8c3c"/>
<circle cx="430.74" cy="641.60" r="1.4" fill="#1e8c3c"/>
<circle cx="434.22" cy="642.00" r="1.4" fill="#1e8c3c"/>
<circle cx="437.70" cy="654.90" r="1.4" fill="#1e8c3c"/>
<circle cx="441.18" cy="654.70" r="1.4" fill="#1e8c3c"/>
<circle cx="444.66" cy="642.90" r="1.4" fill="#1e8c3c"/>
<polyline points="284.58,568.30 288.06,572.00 291.54,597.70 295.02,595.80 298.50,600.10 301.98,616.40 305.46,633.40 308.94,625.90 312.42,630.70 315.90,635.50 319.38,628.00 322.86,625.50 326.34,637.80 329.82,630.50 333.30,632.10 336.78,629.50 340.26,618.10 343.74,631.00 347.22,637.80 350.70,620.60 354.18,635.20 357.66,626.70 361.14,639.00 364.62,635.90 368.10,629.80 371.58,638.70 375.06,631.80 378.54,639.00 382.02,625.70 385.50,632.30 388.98,627.20 392.46,635.90 395.94,624.40 399.42,628.00 402.90,633.10 406.38,634.90 409.86,624.70 413.34,620.90 416.82,628.00 420.30,622.50 423.78,635.20 427.26,626.70 430.74,622.90 434.22,643.50 437.70,658.50 441.18,652.60 444.66,651.10" fill="none" stroke="#3d4ab6" stroke-width="1.1"/>
<circle cx="284.58" cy="568.30" r="1.2" fill="#3d4ab6"/>
<circle cx="288.06" cy="572.00" r="1.2" fill="#3d4ab6"/>
<circle cx="291.54" cy="597.70" r="1.2" fill="#3d4ab6"/>
<circle cx="295.02" cy="595.80" r="1.2" fill="#3d4ab6"/>
<circle cx="298.50" cy="600.10" r="1.2" fill="#3d4ab6"/>
<circle cx="301.98" cy="616.40" r="1.2" fill="#3d4ab6"/>
<circle cx="305.46" cy="633.40" r="1.2" fill="#3d4ab6"/>
<circle cx="308.94" cy="625.90" r="1.2" fill="#3d4ab6"/>
<circle cx="312.42" cy="630.70" r="1.2" fill="#3d4ab6"/>
<circle cx="315.90" cy="635.50" r="1.2" fill="#3d4ab6"/>
<circle cx="319.38" cy="628.00" r="1.2" fill="#3d4ab6"/>
<circle cx="322.86" cy="625.50" r="1.2" fill="#3d4ab6"/>
<circle cx="326.34" cy="637.80" r="1.2" fill="#3d4ab6"/>
<circle cx="329.82" cy="630.50" r="1.2" fill="#3d4ab6"/>
<circle cx="333.30" cy="632.10" r="1.2" fill="#3d4ab6"/>
<circle cx="336.78" cy="629.50" r="1.2" fill="#3d4ab6"/>
<circle cx="340.26" cy="618.10" r="1.2" fill="#3d4ab6"/>
<circle cx="343.74" cy="631.00" r="1.2" fill="#3d4ab6"/>
<circle cx="347.22" cy="637.80" r="1.2" fill="#3d4ab6"/>
<circle cx="350.70" cy="620.60" r="1.2" fill="#3d4ab6"/>
<circle cx="354.18" cy="635.20" r="1.2" fill="#3d4ab6"/>
<circle cx="357.66" cy="626.70" r="1.2" fill="#3d4ab6"/>
<circle cx="361.14" cy="639.00" r="1.2" fill="#3d4ab6"/>
<circle cx="364.62" cy="635.90" r="1.2" fill="#3d4ab6"/>
<circle cx="368.10" cy="629.80" r="1.2" fill="#3d4ab6"/>
<circle cx="371.58" cy="638.70" r="1.2" fill="#3d4ab6"/>
<circle cx="375.06" cy="631.80" r="1.2" fill="#3d4ab6"/>
<circle cx="378.54" cy="639.00" r="1.2" fill="#3d4ab6"/>
<circle cx="382.02" cy="625.70" r="1.2" fill="#3d4ab6"/>
<circle cx="385.50" cy="632.30" r="1.2" fill="#3d4ab6"/>
<circle cx="388.98" cy="627.20" r="1.2" fill="#3d4ab6"/>
<circle cx="392.46" cy="635.90" r="1.2" fill="#3d4ab6"/>
<circle cx="395.94" cy="624.40" r="1.2" fill="#3d4ab6"/>
<circle cx="399.42" cy="628.00" r="1.2" fill="#3d4ab6"/>
<circle cx="402.90" cy="633.10" r="1.2" fill="#3d4ab6"/>
<circle cx="406.38" cy="634.90" r="1.2" fill="#3d4ab6"/>
<circle cx="409.86" cy="624.70" r="1.2" fill="#3d4ab6"/>
<circle cx="413.34" cy="620.90" r="1.2" fill="#3d4ab6"/>
<circle cx="416.82" cy="628.00" r="1.2" fill="#3d4ab6"/>
<circle cx="420.30" cy="622.50" r="1.2" fill="#3d4ab6"/>
<circle cx="423.78" cy="635.20" r="1.2" fill="#3d4ab6"/>
<circle cx="427.26" cy="626.70" r="1.2" fill="#3d4ab6"/>
<circle cx="430.74" cy="622.90" r="1.2" fill="#3d4ab6"/>
<circle cx="434.22" cy="643.50" r="1.2" fill="#3d4ab6"/>
<circle cx="437.70" cy="658.50" r="1.2" fill="#3d4ab6"/>
<circle cx="441.18" cy="652.60" r="1.2" fill="#3d4ab6"/>
<circle cx="444.66" cy="651.10" r="1.2" fill="#3d4ab6"/>
<rect x="276.50" y="557.00" width="177.00" height="114.40" fill="none" stroke="#000" stroke-width="1"/>
<line x1="274.30" y1="652.90" x2="276.50" y2="652.90" stroke="#000" stroke-width="1"/>
<text x="260.16" y="655.80" font-size="9.2" fill="#000" textLength="11.66" lengthAdjust="spacingAndGlyphs" stroke="#000" stroke-width="0.25">0.9</text>
<line x1="274.30" y1="631.50" x2="276.50" y2="631.50" stroke="#000" stroke-width="1"/>
<text x="259.81" y="634.40" font-size="9.2" fill="#000" textLength="11.93" lengthAdjust="spacingAndGlyphs" stroke="#000" stroke-width="0.25">1.0</text>
<line x1="274.30" y1="610.10" x2="276.50" y2="610.10" stroke="#000" stroke-width="1"/>
<text x="259.81" y="613.00" font-size="9.2" fill="#000" textLength="12.03" lengthAdjust="spacingAndGlyphs" stroke="#000" stroke-width="0.25">1.1</text>
<line x1="274.30" y1="588.70" x2="276.50" y2="588.70" stroke="#000" stroke-width="1"/>
<text x="259.81" y="591.60" font-size="9.2" fill="#000" textLength="12.03" lengthAdjust="spacingAndGlyphs" stroke="#000" stroke-width="0.25">1.2</text>
<line x1="274.30" y1="567.30" x2="276.50" y2="567.30" stroke="#000" stroke-width="1"/>
<text x="259.81" y="570.20" font-size="9.2" fill="#000" textLength="11.93" lengthAdjust="spacingAndGlyphs" stroke="#000" stroke-width="0.25">1.3</text>
<line x1="280.60" y1="671.40" x2="280.60" y2="673.60" stroke="#000" stroke-width="0.9"/>
<text x="278.09" y="681.50" font-size="9.2" fill="#000" textLength="4.98" lengthAdjust="spacingAndGlyphs" stroke="#000" stroke-width="0.25">0</text>
<line x1="315.40" y1="671.40" x2="315.40" y2="673.60" stroke="#000" stroke-width="0.9"/>
<text x="310.41" y="681.50" font-size="9.2" fill="#000" textLength="9.66" lengthAdjust="spacingAndGlyphs" stroke="#000" stroke-width="0.25">10</text>
<line x1="350.20" y1="671.40" x2="350.20" y2="673.60" stroke="#000" stroke-width="0.9"/>
<text x="345.48" y="681.50" font-size="9.2" fill="#000" textLength="9.38" lengthAdjust="spacingAndGlyphs" stroke="#000" stroke-width="0.25">20</text>
<line x1="385.00" y1="671.40" x2="385.00" y2="673.60" stroke="#000" stroke-width="0.9"/>
<text x="380.37" y="681.50" font-size="9.2" fill="#000" textLength="9.29" lengthAdjust="spacingAndGlyphs" stroke="#000" stroke-width="0.25">30</text>
<line x1="419.80" y1="671.40" x2="419.80" y2="673.60" stroke="#000" stroke-width="0.9"/>
<text x="415.34" y="681.50" font-size="9.2" fill="#000" textLength="9.11" lengthAdjust="spacingAndGlyphs" stroke="#000" stroke-width="0.25">40</text>
<text x="0" y="0" font-size="10.5" fill="#000" font-weight="bold" stroke="#000" stroke-width="0.25" textLength="87.85" lengthAdjust="spacingAndGlyphs" transform="translate(257.20,656.84) rotate(-90)">mean enrichment</text>
<text x="316.46" y="691.40" font-size="10.5" fill="#000" font-weight="bold" stroke="#000" stroke-width="0.25" textLength="96.24" lengthAdjust="spacingAndGlyphs">motif start position</text>
<line x1="40.80" y1="153.50" x2="40.80" y2="155.60" stroke="#000" stroke-width="1"/>
<line x1="273.00" y1="159.20" x2="274.60" y2="159.20" stroke="#b0b0b0" stroke-width="0.8"/>
<text x="95.95" y="203.90" font-size="9.2" fill="#3d4ab6" font-weight="bold" stroke="#3d4ab6" stroke-width="0.25" textLength="22.69" lengthAdjust="spacingAndGlyphs">motif</text>
<text x="169.33" y="204.00" font-size="9.2" fill="#1e8c3c" font-weight="bold" stroke="#1e8c3c" stroke-width="0.25" textLength="35.17" lengthAdjust="spacingAndGlyphs">shuffles</text>
<text x="44.33" y="289.80" font-size="9.2" fill="#e13228" font-weight="bold" stroke="#e13228" stroke-width="0.25" textLength="53.00" lengthAdjust="spacingAndGlyphs">average (all)</text>
</svg></body></html>
